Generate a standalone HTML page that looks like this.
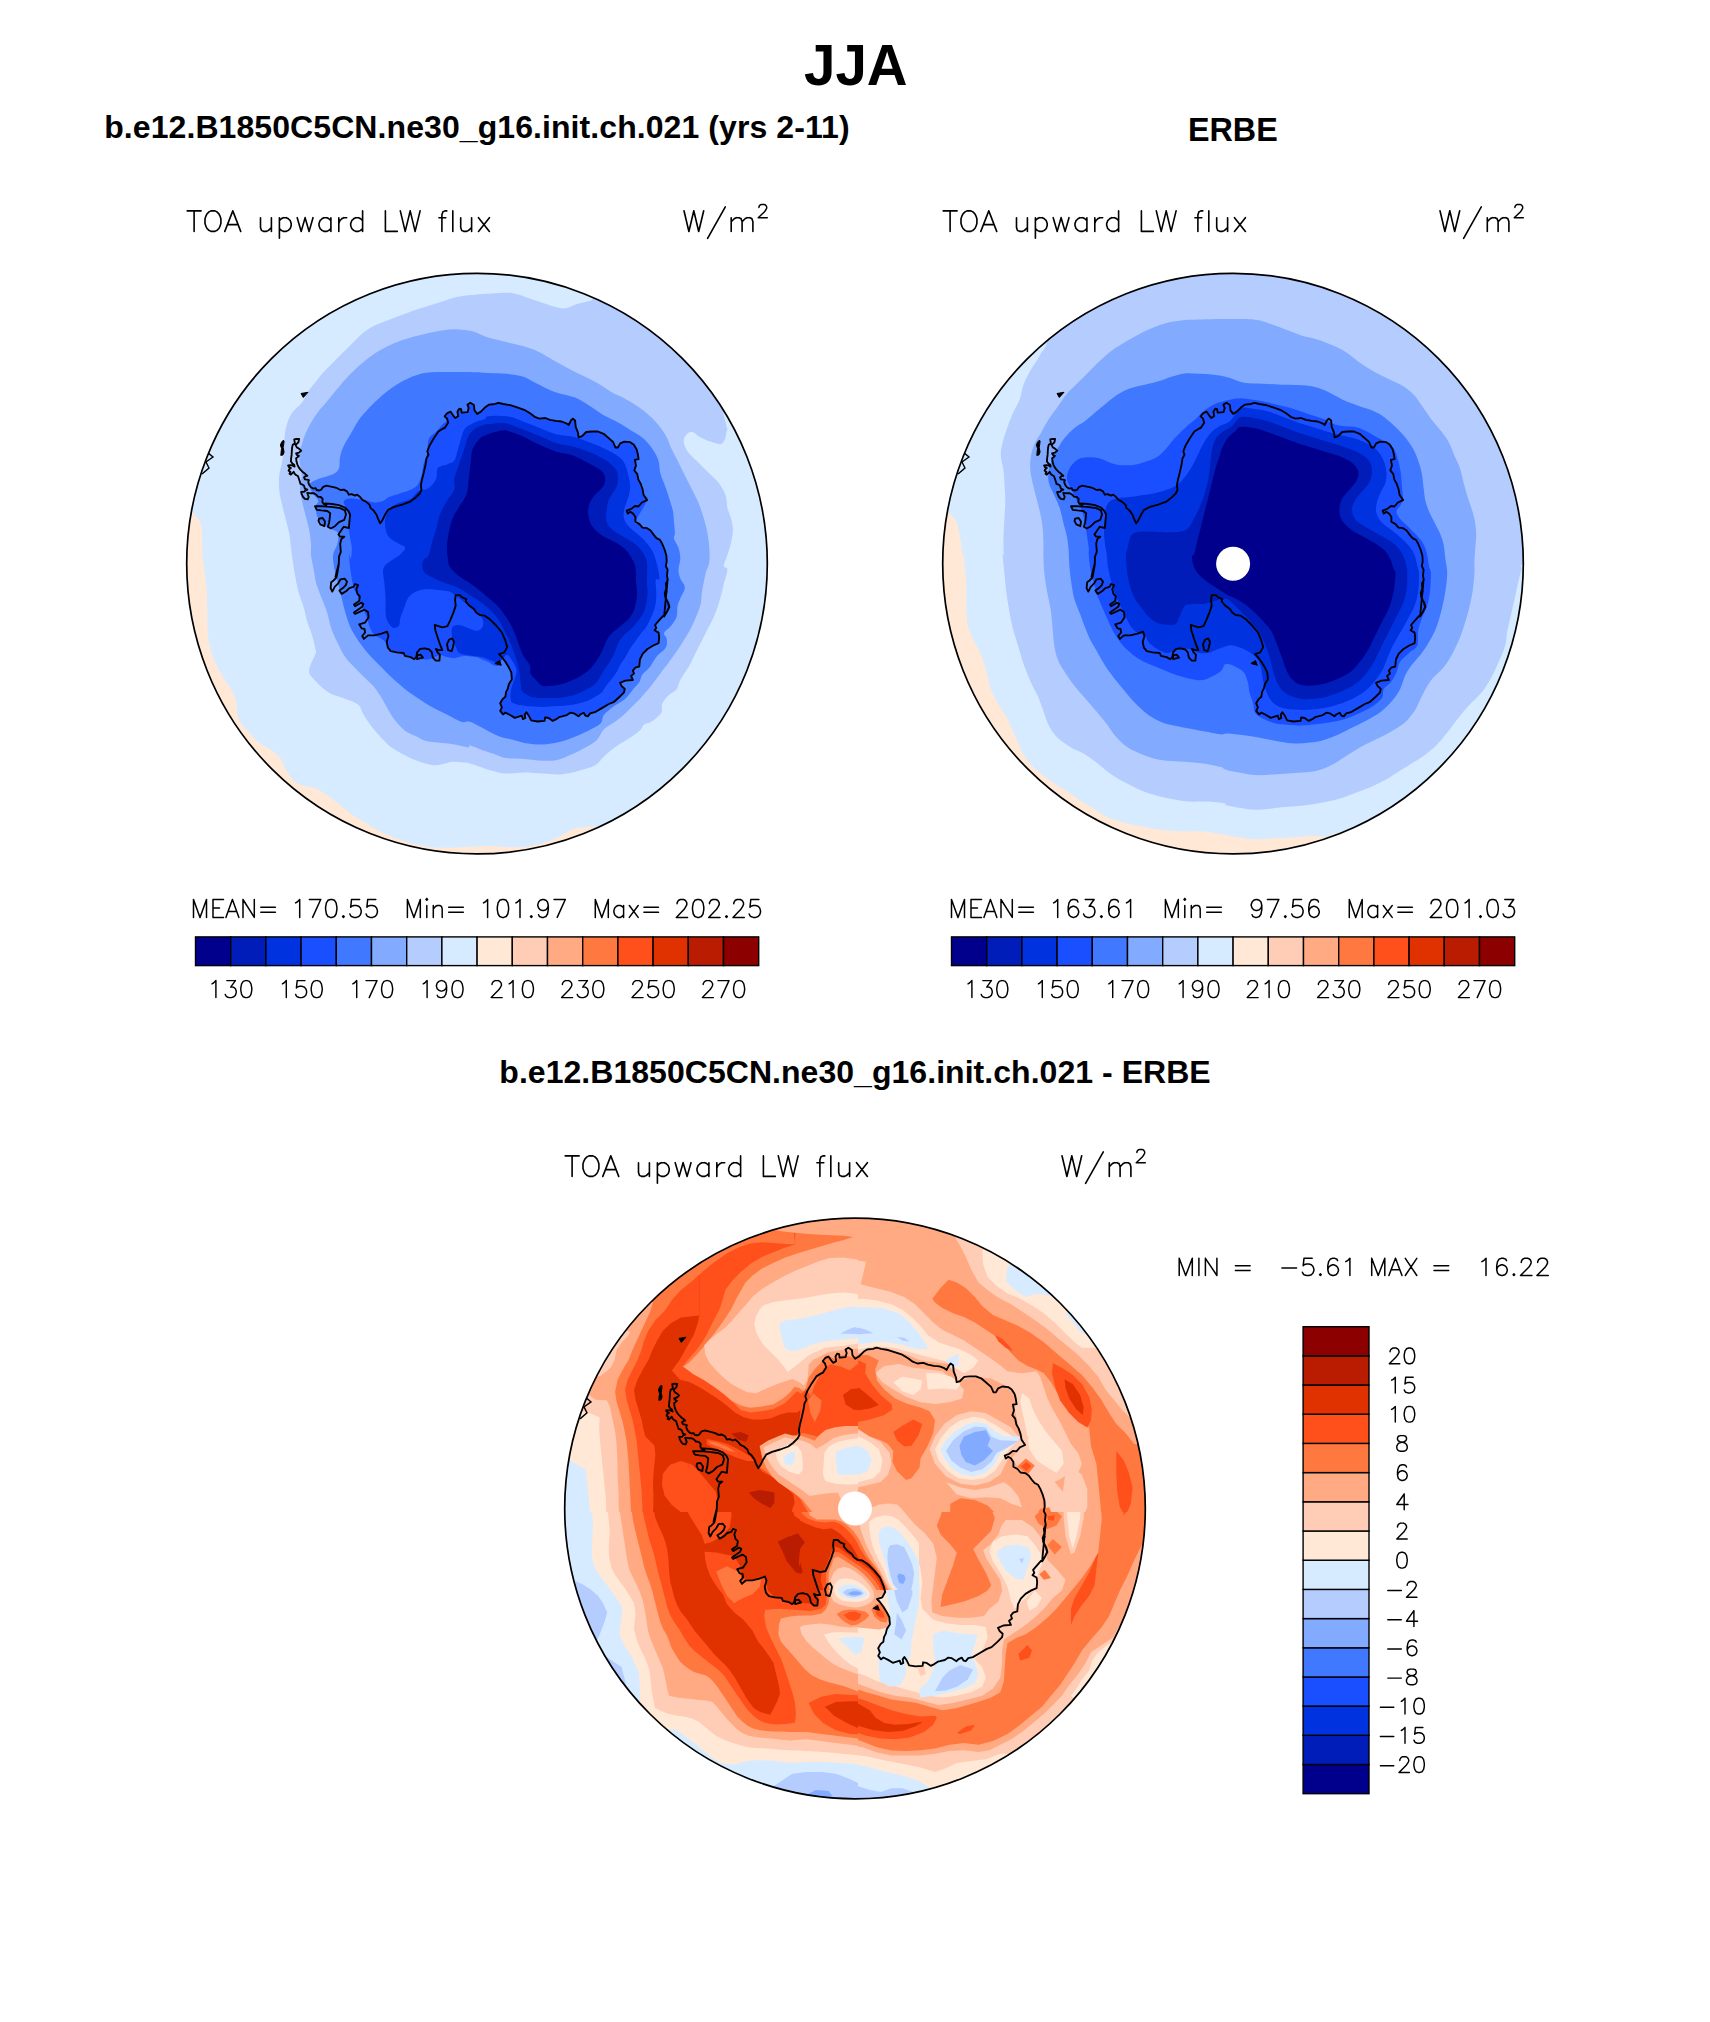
<!DOCTYPE html>
<html><head><meta charset="utf-8"><title>JJA</title>
<style>html,body{margin:0;padding:0;background:#fff}svg{display:block}text{font-family:"Liberation Sans",sans-serif;font-weight:bold;fill:#000}</style></head><body>
<svg width="1710" height="2022" viewBox="0 0 1710 2022">
<rect width="1710" height="2022" fill="#fff"/>
<defs>
<clipPath id="c1"><circle cx="477.0" cy="563.6" r="290.3"/></clipPath>
<clipPath id="c2"><circle cx="1233.0" cy="563.6" r="290.3"/></clipPath>
<clipPath id="c3"><circle cx="855.0" cy="1508.5" r="290.3"/></clipPath>
<g id="coast"><path d="M-32.3 -135.6 L-28.8 -140.9 L-30 -145 L-32.3 -147.3 L-30 -150.3 L-26.5 -152 L-24.1 -148.5 L-21.8 -145.6 L-18.9 -147.3 L-19.5 -152 L-17.7 -154.9 L-15.9 -154.4 L-15.4 -150.9 L-9.5 -151.4 L-8.3 -155.5 L-9.5 -159 L-6.6 -160.8 L-3.1 -158.5 L-2.5 -153.2 L0.2 -149.7 L3.9 -152 L8.6 -156.7 L12.1 -159 L18 -159.6 L21.5 -160.8 L26.2 -159.6 L33.2 -158.5 L40.2 -156.1 L47.2 -153.8 L53.1 -150.3 L57.7 -146.8 L62.4 -145 L68.3 -145.6 L72.9 -143.8 L78.8 -142.7 L84.6 -142.1 L89.3 -140.3 L91.7 -138.6 L94 -143.2 L95.7 -145 L98.1 -143.2 L98.7 -136.8 L101 -131 L101.6 -126.3 L105.1 -127.5 L109.2 -131.6 L115 -132.1 L120.9 -132.1 L126.7 -129.8 L131.4 -125.7 L136.1 -121.6 L138.4 -116.3 L138.6 -116.1 L140.9 -116.1 L143.2 -120.2 L147.3 -122 L153.2 -121.4 L156.7 -119 L159.6 -114.4 L160.8 -109.7 L161.6 -104.4 L157.9 -103.8 L159 -98 L157.3 -93.3 L160.2 -89.8 L161.4 -84 L163.7 -79.9 L165.5 -74.6 L166.6 -68.7 L170.1 -63.5 L164.9 -61.1 L161.4 -57.1 L157.9 -57.6 L154.3 -54.7 L149.7 -53 L150.8 -50 L153.2 -51.8 L156.1 -50 L158.4 -46.5 L158.4 -41.8 L162.5 -39.5 L165.5 -36 L170.1 -35.4 L173.6 -33.1 L176.6 -29 L179.5 -25.5 L183 -23.7 L185.3 -19.6 L187.7 -13.8 L189.4 -7.9 L189.7 -2.1 L188.8 2.6 L190.6 6.1 L190 12 L190.8 16.6 L188.8 20.1 L189.4 24.8 L187.7 29.5 L188.8 35.3 L191.2 38.9 L192.4 43.5 L190 48.2 L187.1 52.9 L190.6 16.4 L189.2 23.4 L189.8 28.1 L188 32.8 L190.6 38 L192.1 43.3 L189.8 48.6 L185.7 52.7 L181.6 57.3 L178.1 61.4 L179.3 64.4 L177.5 66.7 L181.6 69 L182.2 73.7 L181.6 79.6 L176.3 81.9 L170.5 85.4 L165.8 90.1 L162.9 95.9 L162.3 102.9 L158.2 104.1 L155.9 107 L157 110 L154.1 112.3 L155.9 116.4 L148.3 117 L143 119.3 L144.8 122.8 L147.7 125.2 L147.1 128.7 L142.4 133.4 L136.6 138.6 L131.9 140.4 L124.9 144.5 L117.9 148.6 L113.2 149.7 L110.8 152.7 L108.5 152.1 L106.7 149.1 L103.2 150.9 L101.5 152.7 L96.8 149.7 L93.3 149.1 L89.8 151.5 L85.1 152.7 L82.8 153.2 L79.3 155.6 L75.7 157.3 L71.7 154.4 L68.1 153.8 L67.6 157.3 L60.5 157.9 L54.1 156.8 L51.8 152.1 L49.4 148.6 L47.7 150.9 L48.3 154.4 L45.9 155.6 L44.8 152.1 L37.8 154.3 L33.1 151.4 L28.4 149 L26.1 150.8 L23.2 147.3 L24.9 143.8 L23.2 139.7 L25.5 135.6 L28.4 133.2 L29 128.6 L30.8 125.1 L31.9 120.4 L34.9 115.7 L34.3 108.7 L31.9 104 L28.4 98.2 L24.9 93.5 L22 90.6 L27.3 88.8 L30.2 83.5 L28.4 77.1 L24.9 68.9 L19.1 61.9 L13.2 56 L7.4 52 L2.7 51.4 L-0.8 49 L-3.1 45.5 L-7.8 42 L-11.3 37.9 L-10.7 35.6 L-14.8 33.8 L-17.2 31.5 L-21.3 31.5 L-21.9 36.2 L-21.3 42 L-23.6 49 L-26.5 56 L-29.5 62.5 L-34.7 63.7 L-42.3 61.3 L-41.7 66.6 L-39.4 73.6 L-37.1 80.6 L-34.7 86.5 L-38.2 86.5 L-41.2 85.3 L-39.4 88.8 L-37.1 91.1 L-37.6 97 L-41.2 97 L-44.1 94.1 L-45.2 88.8 L-47.6 85.9 L-52.3 84.7 L-56.9 85.3 L-59.9 88.8 L-60.7 93.5 L-62.8 95.6 L-66.3 93.5 L-72.1 92.3 L-73.3 89.4 L-80.3 88.8 L-86.2 87.6 L-89.1 84.1 L-90.3 78.3 L-88.5 72.4 L-90 68 L-95.5 70.1 L-102.6 71.8 L-109 71.8 L-113.1 75.3 L-114.8 72.4 L-111.9 68.9 L-112.5 65.4 L-115.4 64.8 L-117.8 60.7 L-111.9 59 L-108.4 53.7 L-109 48.4 L-112.5 46.1 L-121.9 50.4 L-123 49 L-114.8 43.2 L-113.7 40.3 L-116 39.1 L-121.9 42.6 L-123 40.8 L-117.8 37.3 L-117.2 32.7 L-119.5 30.3 L-120.7 25.6 L-118.9 21.5 L-121.9 20.4 L-123.6 23.3 L-127.7 24.5 L-130.6 27.4 L-135.3 30.3 L-137.6 26.8 L-134.1 24.5 L-131.2 21.5 L-130 18 L-132.4 15.1 L-136.5 15.7 L-138.8 19.8 L-142.3 23.3 L-144.7 28 L-146.4 24.5 L-145.8 18.6 L-143.5 16.9 L-140.6 13.9 L-139.4 8.1 L-138.2 1.1 L-141.5 12.9 L-139.7 5.9 L-138.2 0 L-138 -7 L-136.2 -11.7 L-136.8 -19.9 L-135.7 -24.5 L-132.7 -26.9 L-136.8 -26.9 L-138.6 -29.2 L-136.2 -32.7 L-133.3 -36.8 L-128.1 -35.6 L-127.5 -43.2 L-126.9 -49.1 L-128.6 -52.6 L-132.1 -56.1 L-138 -58.5 L-145 -59.6 L-152 -60.2 L-150.5 -58.6 L-153.3 -59.5 L-154.7 -61.9 L-154.3 -64.7 L-156.2 -66.6 L-159 -67 L-160.8 -68.9 L-163.2 -70.3 L-166.4 -70.3 L-169.7 -70.8 L-169.3 -69.4 L-168.3 -66.6 L-169.3 -64.2 L-172.1 -64.7 L-173.9 -66.6 L-175.3 -69.4 L-175.8 -71.7 L-173 -71.7 L-171.6 -73.1 L-169.7 -74 L-172.1 -75 L-173 -77.8 L-174.4 -79 L-176.5 -79.7 L-177.2 -82 L-178.1 -84.8 L-179.1 -87.6 L-180.9 -88.5 L-182.4 -89.9 L-183.3 -91.8 L-184.7 -90.4 L-186.1 -89 L-187.5 -89.9 L-186.6 -91.8 L-188.4 -92.8 L-188 -94.2 L-186.1 -95.6 L-188 -96.5 L-188.9 -98.1 L-186.6 -98.4 L-184.2 -97.9 L-182.4 -97 L-182.8 -98.8 L-184.7 -100.2 L-186.1 -102.1 L-185.9 -104.9 L-185.4 -108.7 L-185.2 -112.4 L-184.9 -116.1 L-184.2 -119 L-182.1 -119.9 L-182.4 -122.2 L-182.8 -124.3 L-180.5 -124.8 L-177.9 -124.6 L-178.6 -121.3 L-180 -119.9 L-181.4 -118.5 L-180 -116.1 L-177.7 -114.7 L-175.8 -112.9 L-178.1 -111 L-180.9 -110.1 L-180 -108.7 L-178.1 -107.7 L-179.5 -106.3 L-180.9 -105.4 L-180.5 -102.1 L-179.5 -98.8 L-178.1 -96 L-176.3 -93.7 L-173.9 -91.3 L-171.6 -89.5 L-169.7 -87.8 L-171.6 -87.4 L-173 -86.2 L-172.1 -84.3 L-170.2 -83.9 L-168.1 -83.4 L-168.8 -81.5 L-167.8 -78.7 L-166 -76.4 L-163.6 -75 L-161.3 -75.4 L-160.4 -73.6 L-157.6 -73.1 L-155.7 -74 L-153.8 -76.8 L-150.5 -78 L-147.3 -77.3 L-143.5 -76.4 L-139.8 -75.4 L-136.5 -73.6 L-133.2 -74 L-130 -72.2 L-128.1 -68.9 L-125.3 -69.4 L-122 -68 L-119.9 -69 L-116.9 -66.6 L-114.6 -63.7 L-111.1 -62 L-107.6 -59 L-106.4 -55.5 L-103.5 -53.2 L-100.6 -49.1 L-98.8 -44.4 L-96.8 -40.3 L-94.7 -43.2 L-91.8 -49.1 L-88.9 -53.8 L-83 -56.7 L-74.8 -59 L-66.6 -62 L-62 -65.5 L-57.3 -70.1 L-55.5 -73.7 L-56.1 -78.3 L-55 -84.2 L-53.2 -91.2 L-51.4 -99.4 L-50.5 -105.2 L-48.5 -108.7 L-49.7 -112.3 L-47.4 -118.1 L-43.3 -125.1 L-38.6 -132.1 L-33.9 -135.1ZM-162 -57.3 L-154.4 -57.3 L-146.2 -56.7 L-136.8 -55.5 L-132.1 -53.2 L-131 -49.1 L-132.7 -43.8 L-138 -41.5 L-142.1 -37.4 L-146.2 -35.1 L-149.1 -36.8 L-147.9 -40.9 L-147.4 -44.4 L-146.8 -50.3 L-149.7 -52.6 L-155.5 -53.2 L-160.2 -53.8ZM-157.9 -45 L-154.4 -45.6 L-152 -42.1 L-152.6 -37.4 L-156.7 -39.2 L-158.5 -42.7ZM-28.9 86.5 L-30 80.6 L-27.7 75.9 L-24.8 74.8 L-23 78.3 L-24.2 84.1 L-25.4 87.6ZM-59.9 91.7 L-56.4 91.1 L-54 94.1 L-59.9 95.6Z" fill="none" stroke="#000" stroke-width="1.85" stroke-linejoin="round"/><path d="M-194 -123.2 L-192.9 -122.7 L-193.3 -119 L-193.8 -116.1 L-192.9 -111.5 L-194 -108.7 L-196.2 -108.2 L-195.9 -111.5 L-195.5 -115.2 L-196.6 -118.5 L-195.5 -121.3ZM-176 -170.1 L-169 -171.3 L-173.7 -166.1ZM17.9 99.9 L22.6 97 L24.3 101.7Z" fill="#000" stroke="#000" stroke-width="1"/><path d="M-265 -123.6 L-270 -111.6 L-264 -106.6 L-271 -101.6 L-268 -95.6 L-275 -89.6" fill="none" stroke="#000" stroke-width="1.4"/></g>
</defs>
<text x="804.0" y="85.2" font-size="58" textLength="103.6" lengthAdjust="spacingAndGlyphs">JJA</text>
<text x="104.2" y="137.8" font-size="32" textLength="745.4" lengthAdjust="spacing">b.e12.B1850C5CN.ne30_g16.init.ch.021 (yrs 2-11)</text>
<text x="1188" y="140.6" font-size="32.3">ERBE</text>
<text x="499.3" y="1082.6" font-size="32" textLength="711.4" lengthAdjust="spacing">b.e12.B1850C5CN.ne30_g16.init.ch.021 - ERBE</text>
<g clip-path="url(#c1)">
<rect x="184.7" y="271.3" width="584.6" height="584.6" fill="#FFE8D6"/>
<g>
<path d="M185.9 507.9C193.4 510.5 192.5 512.8 194.9 515.2C197.4 517.6 199.2 518.8 200.4 522.4C201.6 526.1 201.9 531.5 202.2 536.9C202.5 542.4 202.1 548.7 202.2 555.1C202.3 561.4 202.6 575 202.6 575C202.6 575 201.8 555.3 202.2 555C202.6 554.7 204.2 567.1 204.9 573.1C205.7 579.2 206.3 585.2 206.7 591.3C207.1 597.3 207.1 602.7 207.3 609.4C207.4 616 207.1 624.5 207.6 631.1C208.1 637.8 209 643.8 210.4 649.3C211.7 654.7 213.5 658.9 215.8 663.8C218.1 668.6 221.1 673.4 223.9 678.3C226.8 683.1 230.9 688.6 233 692.8C235.1 697 235.9 700 236.6 703.7C237.4 707.3 236.8 711.2 237.5 714.5C238.3 717.9 238.9 720.3 241.2 723.6C243.4 726.9 248 731.2 251.1 734.5C254.3 737.8 256.9 741 260.2 743.5C263.5 746.1 267.8 747.5 271.1 749.9C274.4 752.3 277.7 754.9 280.1 758C282.6 761.2 283.5 765.3 285.6 768.9C287.7 772.5 290.1 777.1 292.8 779.8C295.6 782.5 298.3 783.9 301.9 785.2C305.5 786.6 310.7 786.4 314.6 788C318.5 789.5 321.5 791.7 325.5 794.3C329.4 796.9 334.2 800.3 338.2 803.4C342.1 806.4 344.8 809.4 349 812.4C353.3 815.5 358.7 818.5 363.5 821.5C368.4 824.5 373.2 828 378 830.6C382.9 833.1 387.1 834.8 392.5 836.9C398 839 404.6 841.6 410.7 843.3C416.7 844.9 422.8 846.1 428.8 846.9C434.9 847.6 440.9 847.8 446.9 847.8C453 847.8 458.7 847.2 465.1 846.9C471.4 846.6 484.2 846 485 846C485.8 846 469.5 846.9 470 846.9C470.5 846.9 482.1 846 488.1 846C494.2 846 500.2 846.7 506.3 846.9C512.3 847 518.3 847.5 524.4 846.9C530.4 846.3 537.1 844.8 542.5 843.3C548 841.7 552.8 839.8 557 837.8C561.2 835.8 564.3 833.1 567.9 831.5C571.5 829.8 573.3 828.7 578.8 827.8C584.2 826.9 594.5 826.2 600.5 826C606.6 825.9 581.8 831.3 615 826.9C648.3 822.6 769.2 904.5 800 800C830.8 695.5 908.3 300 800 200C691.7 100 258.3 150 150 200C41.7 250 144 448.7 150 500C156 551.3 178.4 505.4 185.9 507.9Z" fill="#D6EBFF"/>
<path d="M472.3 294.9C466.7 295.4 462.6 295.7 457.8 296.7C453 297.8 448.1 299.7 443.3 301.3C438.5 302.8 433.6 304.3 428.8 305.8C424 307.3 419.1 308.7 414.3 310.3C409.5 312 404.6 313.9 399.8 315.8C395 317.6 390.1 319.2 385.3 321.2C380.5 323.2 375 325.1 370.8 327.5C366.6 330 363.2 332.8 359.9 335.7C356.6 338.6 353.9 341.7 350.9 344.8C347.8 347.8 344.8 350.8 341.8 353.8C338.8 356.9 335.7 359.9 332.7 362.9C329.7 365.9 326.4 368.9 323.7 372C320.9 375 318.8 378 316.4 381C314 384 311.6 386.5 309.2 390.1C306.7 393.7 304.6 399.2 301.9 402.8C299.2 406.4 295.3 408.5 292.8 411.8C290.4 415.2 288.8 418.8 287.4 422.7C286 426.7 285.3 430.9 284.7 435.4C284.1 439.9 284.2 445.4 283.8 449.9C283.3 454.4 282.7 458.4 282 462.6C281.2 466.8 279.7 470.8 279.2 475.3C278.8 479.8 278.8 485 279.2 489.8C279.7 494.6 280.9 499.5 282 504.3C283 509.1 284.4 514 285.6 518.8C286.8 523.6 288.3 528.5 289.2 533.3C290.1 538.1 290.6 544.2 291 547.8C291.5 551.4 291.3 550.8 291.9 555C292.5 559.2 293.6 567.1 294.7 573.1C295.7 579.2 296.8 585.5 298.3 591.3C299.8 597 302.2 602.4 303.7 607.6C305.2 612.7 306 617.5 307.3 622.1C308.7 626.6 310.5 630.2 311.9 634.8C313.2 639.3 314.9 646.1 315.5 649.3C316.1 652.4 316.3 651.4 315.5 653.8C314.7 656.2 312 660.6 311 663.8C309.9 666.9 308.6 670.1 309.2 672.8C309.8 675.6 312.5 677.7 314.6 680.1C316.7 682.5 319.1 685.1 321.8 687.3C324.6 689.6 327.3 691.9 330.9 693.7C334.5 695.5 339.1 696.4 343.6 698.2C348.1 700 354.8 701.8 358.1 704.6C361.4 707.3 361.4 711.1 363.5 714.5C365.7 718 368.1 721.8 370.8 725.4C373.5 729 376.8 733 379.9 736.3C382.9 739.6 385.6 742.6 388.9 745.4C392.2 748.1 395.9 750.3 399.8 752.6C403.7 754.9 408.3 757.1 412.5 759C416.7 760.8 421.3 762.4 425.2 763.5C429.1 764.5 432.7 765.3 436.1 765.3C439.4 765.3 442.4 764.1 445.1 763.5C447.8 762.9 449.1 761.8 452.4 761.7C455.7 761.5 462.1 762.3 465.1 762.6C468 762.9 467.4 762.7 470 763.5C472.6 764.2 477.3 765.9 480.9 767.1C484.5 768.3 487.5 769.7 491.8 770.7C496 771.8 500.8 773.2 506.3 773.5C511.7 773.8 518.3 772.5 524.4 772.5C530.4 772.5 536.5 773.2 542.5 773.5C548.6 773.8 554.6 774.8 560.6 774.4C566.7 773.9 573 772.2 578.8 770.7C584.5 769.2 590.9 767.7 595.1 765.3C599.3 762.9 600.8 759.3 604.2 756.2C607.5 753.2 610.8 750.2 615 747.2C619.3 744.1 625.3 741 629.5 738.1C633.8 735.2 638 732.2 640.4 729.9C642.8 727.7 642.2 725.9 644 724.5C645.9 723.1 648.4 723.8 651.3 721.8C654.2 719.8 659.4 715.7 661.3 712.7C663.1 709.7 660.8 706.7 662.2 703.7C663.5 700.6 667 697 669.4 694.6C671.8 692.2 674.9 691.6 676.7 689.2C678.5 686.7 678.2 684 680.3 680.1C682.4 676.2 686.6 670.4 689.4 665.6C692.1 660.8 693.9 656.5 696.6 651.1C699.3 645.6 702.7 639 705.7 633C708.7 626.9 712.3 620.6 714.7 614.8C717.2 609.1 718.7 603.6 720.2 598.5C721.7 593.4 722.6 588.8 723.8 584C725 579.2 727.4 572.5 727.4 569.5C727.4 566.5 723.8 568.3 723.8 565.9C723.8 563.5 726.2 559 727.4 555.1C728.6 551.1 730.2 546.6 731.1 542.4C732 538.1 732.9 533.6 732.9 529.7C732.9 525.8 732 522.4 731.1 518.8C730.2 515.2 728.3 511.9 727.4 507.9C726.5 504 727.1 499.5 725.6 495.2C724.1 491 721.4 486.5 718.4 482.5C715.3 478.6 711.1 475.3 707.5 471.7C703.9 468 700.1 464.4 696.6 460.8C693.1 457.2 688.8 453.5 686.6 449.9C684.5 446.3 683.2 442.1 683.9 439C684.7 436 688.5 432.1 691.2 431.8C693.9 431.5 696.9 435.6 700.2 437.2C703.6 438.9 707.5 440.7 711.1 441.8C714.7 442.8 719.4 445.2 722 443.6C724.6 441.9 726.1 435.9 726.5 431.8C727 427.7 729.1 436.1 724.7 419.1C720.3 402.1 719.1 353.2 700 330C680.9 306.8 627.8 285.2 610 280C592.2 274.8 597 295 593.3 298.5C589.6 302.1 590.6 300.4 587.8 301.3C585.1 302.2 581 302.8 577 304C572.9 305.2 568.5 308.5 563.4 308.5C558.2 308.5 551.7 305.6 546.1 304C540.6 302.3 535.6 300.4 529.8 298.5C524.1 296.7 518 293.9 511.7 293.1C505.4 292.3 498.3 293.3 491.8 293.6C485.2 293.9 478 294.4 472.3 294.9Z" fill="#B5CCFF"/>
<path d="M472.3 331.2C467.3 329.8 462.6 329.5 457.8 329.4C453 329.2 448.1 329.7 443.3 330.3C438.5 330.9 433.6 331.9 428.8 333C424 334 419.1 335.3 414.3 336.6C409.5 338 404.3 339.5 399.8 341.1C395.3 342.8 391.3 344.5 387.1 346.6C382.9 348.7 378.3 351.3 374.4 353.8C370.5 356.4 366.9 359.3 363.5 362C360.2 364.7 357.5 367.3 354.5 370.1C351.5 373 348.4 375.9 345.4 379.2C342.4 382.5 339.4 386.5 336.3 390.1C333.3 393.7 330.3 397.3 327.3 401C324.3 404.6 320.9 408.2 318.2 411.8C315.5 415.5 313.1 419.1 311 422.7C308.9 426.3 307 430 305.5 433.6C304 437.2 303 441.2 301.9 444.5C300.8 447.8 299.5 450.2 299.2 453.5C298.9 456.9 299.6 460.8 300.1 464.4C300.5 468 301.9 471.4 301.9 475.3C301.9 479.2 300.1 483.8 300.1 488C300.1 492.2 301 496.1 301.9 500.7C302.8 505.2 304.3 510.3 305.5 515.2C306.7 520 308.2 524.9 309.2 529.7C310.1 534.5 310.7 540 311 544.2C311.3 548.4 310.5 550.8 311 555C311.4 559.2 312.8 564.7 313.7 569.5C314.6 574.3 315 579.2 316.4 584C317.8 588.8 320 593.7 321.8 598.5C323.7 603.3 325.8 608.2 327.3 613C328.8 617.8 329.4 623 330.9 627.5C332.4 632 334.2 635.7 336.3 640.2C338.5 644.7 340.9 650.5 343.6 654.7C346.3 658.9 349.3 662 352.7 665.6C356 669.2 359.9 672.8 363.5 676.5C367.2 680.1 371.4 683.7 374.4 687.3C377.4 691 379.3 694.3 381.7 698.2C384.1 702.1 386.5 707 388.9 710.9C391.3 714.8 393.5 718.5 396.2 721.8C398.9 725.1 401.9 728.4 405.2 730.9C408.6 733.3 412.8 734.6 416.1 736.3C419.4 738 421.6 739.8 425.2 740.8C428.8 741.9 433 742 437.9 742.6C442.7 743.2 449.1 743.7 454.2 744.4C459.3 745.2 466.1 747 468.7 747.2C471.3 747.3 467.4 744.8 470 745.4C472.6 746 480.3 749.3 484.5 750.8C488.7 752.3 491.8 753.2 495.4 754.4C499 755.6 501.4 757.3 506.3 758C511.1 758.8 518.3 758.5 524.4 759C530.4 759.4 537.1 760.6 542.5 760.8C548 760.9 552.2 760.9 557 759.9C561.9 758.8 566.7 756.5 571.5 754.4C576.4 752.3 581.8 749.6 586 747.2C590.3 744.8 593.9 742.9 596.9 739.9C599.9 736.9 601.1 732.1 604.2 729C607.2 726 611.7 724.2 615 721.8C618.4 719.4 621.1 717.3 624.1 714.5C627.1 711.8 630.4 708.2 633.2 705.5C635.9 702.8 637.4 701.5 640.4 698.2C643.4 694.9 647.7 690.1 651.3 685.5C654.9 681 658.5 675.9 662.2 671C665.8 666.2 669.4 661.7 673 656.5C676.7 651.4 680.6 645.6 683.9 640.2C687.2 634.8 690.3 629.6 693 623.9C695.7 618.1 698.7 611.2 700.2 605.8C701.8 600.3 701.1 596.7 702.1 591.3C703 585.8 704.5 578 705.7 573.1C706.9 568.3 708.7 566.5 709.3 562.3C709.9 558.1 709.6 552.6 709.3 547.8C709 543 708.4 538.1 707.5 533.3C706.6 528.5 705.4 523.9 703.9 518.8C702.4 513.7 700.5 507.6 698.4 502.5C696.3 497.4 693.3 492.2 691.2 488C689.1 483.8 687.9 481.3 685.7 477.1C683.6 472.9 680.9 467.4 678.5 462.6C676.1 457.8 673.3 452.6 671.2 448.1C669.1 443.6 668.5 439.9 665.8 435.4C663.1 430.9 659.1 425.4 654.9 420.9C650.7 416.4 645.2 411.8 640.4 408.2C635.6 404.6 630.7 401.9 625.9 399.2C621.1 396.4 616.2 394.6 611.4 391.9C606.6 389.2 601.7 385.6 596.9 382.8C592.1 380.1 587.2 378 582.4 375.6C577.6 373.2 572.7 370.9 567.9 368.3C563.1 365.8 558.2 362.9 553.4 360.2C548.6 357.5 543.7 354.3 538.9 352C534.1 349.8 529.8 348.2 524.4 346.6C518.9 344.9 512.3 343.6 506.3 342C500.2 340.5 493.8 339.3 488.1 337.5C482.5 335.7 477.4 332.5 472.3 331.2Z" fill="#82AAFF"/>
<path d="M468.7 372C463 371.8 459 372 454.2 372C449.4 372 444.5 371.8 439.7 372C434.9 372.1 429.7 372.1 425.2 372.9C420.6 373.6 416.7 374.8 412.5 376.5C408.3 378.2 403.7 380.6 399.8 382.8C395.9 385.1 392.5 387.4 388.9 390.1C385.3 392.8 381.7 395.8 378 399.2C374.4 402.5 370.5 406.4 367.2 410C363.8 413.7 360.8 417 358.1 420.9C355.4 424.8 353.3 429.4 350.9 433.6C348.4 437.8 345.4 442.4 343.6 446.3C341.8 450.2 340.7 453.5 340 457.2C339.2 460.8 340 465.3 339.1 468C338.2 470.8 336.5 472.1 334.5 473.5C332.6 474.8 330 475.3 327.3 476.2C324.6 477.1 320.6 478 318.2 478.9C315.8 479.8 314.3 480.6 312.8 481.6C311.3 482.7 309.2 483.3 309.2 485.3C309.2 487.2 311.3 490.9 312.8 493.4C314.3 496 317.8 498.4 318.2 500.7C318.7 502.9 315.5 504 315.5 507C315.5 510 316.6 515.6 318.2 518.8C319.9 522 323.1 524.2 325.5 526.1C327.9 527.9 330.6 528.5 332.7 529.7C334.8 530.9 337.4 530.9 338.2 533.3C338.9 535.7 338.1 540.6 337.3 544.2C336.4 547.8 333.5 550.8 333.1 555C332.6 559.2 333.7 564.7 334.5 569.5C335.4 574.3 337 579.2 338.2 584C339.4 588.8 340.7 594.3 341.8 598.5C342.8 602.7 343.3 605.2 344.5 609.4C345.7 613.6 347.4 619.7 349 623.9C350.7 628.1 352.4 631.1 354.5 634.8C356.6 638.4 359 642 361.7 645.6C364.4 649.3 367.5 652.9 370.8 656.5C374.1 660.1 378 663.8 381.7 667.4C385.3 671 388.6 674.7 392.5 678.3C396.5 681.9 401 685.8 405.2 689.2C409.5 692.5 413.4 695.2 417.9 698.2C422.5 701.2 427.6 704.6 432.4 707.3C437.3 710 442.1 712.1 446.9 714.5C451.8 717 457.6 720.6 461.4 721.8C465.3 723 466.2 720.6 470 721.8C473.8 723 479.7 726.6 484.5 729C489.3 731.5 494.2 734.5 499 736.3C503.8 738.1 508.7 738.7 513.5 739.9C518.3 741.1 523.2 742.8 528 743.5C532.8 744.3 537.7 744.6 542.5 744.4C547.4 744.3 552.2 743.7 557 742.6C561.9 741.6 566.4 740.1 571.5 738.1C576.7 736.1 583 733.3 587.8 730.9C592.7 728.4 597.8 726.3 600.5 723.6C603.2 720.9 601.7 717.6 604.2 714.5C606.6 711.5 611.4 708.2 615 705.5C618.7 702.8 622.9 700.9 625.9 698.2C628.9 695.5 630.9 691.9 633.2 689.2C635.4 686.4 638 684.3 639.5 681.9C641 679.5 640.6 677.1 642.2 674.7C643.9 672.2 647.1 670.4 649.5 667.4C651.9 664.4 654 659.8 656.7 656.5C659.4 653.2 664.1 650.5 665.8 647.5C667.5 644.4 667 640.8 666.7 638.4C666.4 636 663.2 635.1 664 633C664.7 630.8 669.1 628.4 671.2 625.7C673.3 623 675.6 620 676.7 616.6C677.7 613.3 677 608.8 677.6 605.8C678.2 602.7 679.1 601.5 680.3 598.5C681.5 595.5 684.8 591 684.8 587.6C684.8 584.3 681.4 581.6 680.3 578.6C679.2 575.6 678.5 572.9 678.5 569.6C678.5 566.3 680.3 562.3 680.3 558.7C680.3 555.1 679.5 551.1 678.5 547.8C677.4 544.5 674.6 541.2 674 538.7C673.3 536.3 674.9 536 674.9 533.3C674.9 530.6 674.3 526.1 674 522.4C673.6 518.8 673.8 515.5 673 511.6C672.3 507.6 670.6 502.8 669.4 498.9C668.2 494.9 667.3 492.2 665.8 488C664.3 483.8 661.6 478 660.4 473.5C659.1 469 659.8 464.7 658.5 460.8C657.3 456.9 655.5 453.5 653.1 449.9C650.7 446.3 647.4 442.1 644 439C640.7 436 637.4 434.5 633.2 431.8C628.9 429.1 623.5 425.4 618.7 422.7C613.8 420 608.4 417.9 604.2 415.5C599.9 413.1 597.5 410.9 593.3 408.2C589 405.5 583 401.3 578.8 399.2C574.5 397 571.5 396.6 567.9 395.5C564.3 394.5 560.6 394 557 392.8C553.4 391.6 549.8 389.9 546.1 388.3C542.5 386.6 539.2 384.8 535.3 382.8C531.3 380.9 527.4 378 522.6 376.5C517.7 375 512 374.4 506.3 373.8C500.5 373.2 494.4 373.2 488.1 372.9C481.9 372.6 474.3 372.1 468.7 372Z" fill="#4078FF"/>
<path d="M485 411.8C488.4 409.8 471.4 414 465.1 415.5C458.7 417 451.8 418.2 446.9 420.9C442.1 423.6 439.1 428.8 436.1 431.8C433 434.8 430.3 435.4 428.8 439C427.3 442.7 427.9 449.3 427 453.5C426.1 457.8 424.3 460.8 423.4 464.4C422.5 468 422.5 472 421.6 475.3C420.6 478.6 419.7 481.9 417.9 484.4C416.1 486.8 413.7 488.3 410.7 489.8C407.7 491.3 403.4 492.2 399.8 493.4C396.2 494.6 391.6 495.8 388.9 497.1C386.2 498.3 385.9 499.8 383.5 500.7C381.1 501.6 377.1 502.5 374.4 502.5C371.7 502.5 370.2 501.3 367.2 500.7C364.1 500.1 359.6 499.2 356.3 498.9C353 498.6 349.3 498.3 347.2 498.9C345.1 499.5 343.6 500.7 343.6 502.5C343.6 504.3 346.2 507 347.2 509.7C348.3 512.5 349.6 515.8 349.9 518.8C350.2 521.8 349 524.9 349 527.9C349 530.9 349.5 533.6 349.9 536.9C350.4 540.3 351.6 544.2 351.8 547.8C351.9 551.4 351.3 557.5 350.9 558.7C350.4 559.9 349 552.6 349 555C349 557.4 350.1 567.7 350.9 573.1C351.6 578.6 352.4 583.7 353.6 587.6C354.8 591.6 356.6 593.4 358.1 596.7C359.6 600 361.1 603.9 362.6 607.6C364.1 611.2 366 615.1 367.2 618.5C368.4 621.8 368.7 624.8 369.9 627.5C371.1 630.2 372.2 632.7 374.4 634.8C376.7 636.9 381.2 638.4 383.5 640.2C385.8 642 386.5 643.8 388 645.6C389.5 647.5 390 649.6 392.5 651.1C395.1 652.6 399.5 653.5 403.4 654.7C407.4 655.9 411.9 657.6 416.1 658.3C420.3 659.1 424.8 659.7 428.8 659.2C432.8 658.7 436.9 655.7 439.9 655.3C443 655 444.6 656.6 447 657.1C449.3 657.6 452 658.2 454 658.2C455.9 658.2 456.9 657.5 458.7 657.1C460.4 656.7 461.6 655.9 464.5 655.9C467.4 655.9 473.3 656.5 476.2 657.1C479.1 657.7 480.1 658.6 482 659.4C484 660.2 485.9 660.8 487.9 661.8C489.8 662.7 491.8 664.7 493.7 665.3C495.7 665.8 498.2 666.6 499.6 665.3C501 663.9 501 657.7 501.9 657.1C502.9 656.5 504.3 660 505.4 661.8C506.6 663.5 508 665.8 508.9 667.6C509.9 669.4 510.8 670.3 511.3 672.3C511.8 674.2 512.3 677.3 511.9 679.3C511.5 681.2 509.6 682.4 508.9 684C508.3 685.5 508.3 687.3 507.8 688.7C507.3 690 506.4 690.8 506 692.2C505.6 693.5 506 695.7 505.4 696.8C504.9 698 503.4 698.1 502.5 699.2C501.6 700.3 500.3 701.9 500.2 703.3C500.1 704.6 501.9 706.1 501.9 707.4C501.9 708.6 500 709.7 500.2 710.9C500.4 712 502.2 714.1 503.1 714.4C504 714.7 504.3 712.5 505.4 712.6C506.6 712.7 508.6 714.1 510.1 715C511.7 715.8 512.9 717.8 514.8 717.9C516.7 718 520.4 715.5 521.8 715.7C523.1 715.9 522.3 718.8 522.9 719.2C523.5 719.6 525 718.8 525.3 718C525.6 717.2 524.5 715.5 524.7 714.5C524.9 713.5 525.8 712 526.4 712.2C527.1 712.4 528 714.3 528.8 715.7C529.6 717 529.6 719.4 531.1 720.4C532.6 721.3 535.3 721.4 537.5 721.5C539.8 721.6 543.3 721.6 544.6 720.9C545.8 720.3 544.5 717.9 545.1 717.4C545.8 716.9 547.4 717.4 548.7 718C549.9 718.6 551.5 720.7 552.7 720.9C554 721.1 555.1 719.9 556.3 719.2C557.4 718.5 558.8 717.3 559.8 716.8C560.7 716.4 560.9 716.5 562.1 716.3C563.3 716 565.4 715.7 566.8 715.1C568.1 714.5 569.1 713 570.3 712.7C571.5 712.5 572.4 712.7 573.8 713.3C575.2 713.9 577.4 716.1 578.5 716.3C579.6 716.5 579.4 715.1 580.2 714.5C581.1 713.9 582.9 712.6 583.7 712.7C584.6 712.9 584.8 715.1 585.5 715.7C586.2 716.3 587.1 716.6 587.8 716.3C588.6 715.9 589 714 590.2 713.3C591.3 712.7 592.9 713 594.9 712.2C596.8 711.3 599.5 709.4 601.9 708.1C604.2 706.7 606.9 705 608.9 704C610.8 703 611.8 703.4 613.6 702.2C615.3 701.1 617.7 698.6 619.4 697C621.2 695.3 623.2 693.6 624.1 692.3C625 690.9 625.1 689.7 624.7 688.8C624.3 687.8 622.5 687.4 621.8 686.4C621 685.5 619.4 683.9 620 682.9C620.6 681.9 623.1 681.1 625.3 680.6C627.4 680.1 631.9 680.8 632.9 680C633.8 679.2 630.9 677 631.1 675.9C631.3 674.8 633.7 674.4 634 673.6C634.3 672.7 632.7 671.6 632.9 670.6C633.1 669.7 634.1 668.4 635.2 667.7C636.3 667 638.5 667.9 639.3 666.5C640.1 665.2 639.3 661.7 639.9 659.5C640.5 657.4 641.5 655.4 642.8 653.7C644.1 651.9 645.7 650.4 647.5 649C649.2 647.6 651.5 646.5 653.3 645.5C655.2 644.5 657.6 644.5 658.6 643.2C659.6 641.8 659.2 639.1 659.2 637.3C659.2 635.6 659.4 633.8 658.6 632.6C657.8 631.5 654.9 631.1 654.5 630.3C654.1 629.5 656.2 628.8 656.3 628C656.4 627.1 654.7 626.2 655.1 625C655.5 623.9 657.3 622.4 658.6 620.9C659.9 619.5 661.3 617.7 662.7 616.3C664.1 614.8 665.7 613.7 666.8 612.2C667.9 610.6 669 608.7 669.1 606.9C669.3 605.1 668.3 603.4 667.6 601.6C666.9 599.9 665.2 598 665 596.4C664.9 594.7 666.6 593.3 666.8 591.7C667 590.1 666.1 589 666.2 587C666.3 585.1 668 575.1 667.6 580C667.3 584.9 664.2 611.2 664.1 616.5C664 621.8 666.1 613.4 667 611.8C667.9 610.3 669.2 608.7 669.4 607.1C669.6 605.6 668.8 603.8 668.2 602.5C667.6 601.1 666.4 600.5 665.8 598.9C665.3 597.4 664.6 594.9 664.7 593.1C664.8 591.3 666.2 590 666.4 588.4C666.6 586.9 665.6 585.1 665.8 583.7C666.1 582.4 667.6 581.6 667.8 580.2C668 578.9 667.1 577.3 667 575.6C667 573.8 667.8 571.3 667.6 569.7C667.4 568.1 666 567.6 665.8 566.2C665.7 564.8 666.6 563.3 666.7 561.5C666.8 559.8 666.8 557.6 666.4 555.7C666.1 553.7 665.4 551.8 664.7 549.8C664 547.9 663.1 545.6 662.3 544C661.6 542.3 661 540.9 660 539.9C659 538.9 657.6 539 656.5 538.1C655.4 537.3 654.5 535.9 653.6 534.6C652.6 533.4 651.7 531.6 650.6 530.5C649.6 529.5 648.5 528.7 647.1 528.2C645.8 527.7 643.7 528.3 642.5 527.6C641.2 526.9 640.7 525.1 639.5 524.1C638.4 523.1 634.2 525.8 635.4 521.8C636.7 517.8 645.8 504.6 647.1 500.1C648.5 495.6 644.4 496.7 643.6 494.9C642.8 493 642.9 490.9 642.5 489C642 487.2 641.4 485.3 640.7 483.7C640 482.2 638.9 481.3 638.4 479.6C637.8 478 637.9 475.4 637.2 473.8C636.5 472.2 634.5 471.7 634.3 470.3C634.1 468.9 635.9 467.4 636 465.6C636.1 463.9 634.4 460.8 634.9 459.8C635.3 458.7 638.1 460.2 638.6 459.2C639.1 458.2 638.1 455.6 637.8 453.9C637.4 452.3 637.3 450.8 636.6 449.2C635.9 447.7 634.8 445.7 633.7 444.6C632.6 443.4 631.7 442.7 630.2 442.2C628.6 441.7 626 441.4 624.3 441.6C622.7 441.8 621.3 442.4 620.2 443.4C619.2 444.4 618.7 446.8 617.9 447.5C617.1 448.2 616 447.5 615.6 447.5C615.1 447.4 615.8 448.2 615.4 447.3C615 446.3 614.3 443.5 613.1 442C611.9 440.4 610 439.3 608.4 437.9C606.9 436.5 605.5 434.9 603.7 433.8C602 432.7 599.8 431.9 597.9 431.5C595.9 431.1 594 431.4 592 431.5C590.1 431.6 587.9 431.3 586.2 432C584.5 432.8 583.4 435.3 582.1 436.1C580.8 437 579.3 437.9 578.6 437.3C577.9 436.7 578.5 434.4 578 432.6C577.5 430.9 576.2 428.8 575.7 426.8C575.2 424.7 575.6 421.7 575.1 420.4C574.6 419 573.4 418.6 572.7 418.6C572.1 418.6 571.7 419.3 571 420.4C570.3 421.4 569.4 424.5 568.7 425C567.9 425.5 567.5 423.9 566.3 423.3C565.1 422.7 563.4 421.9 561.6 421.5C559.9 421.1 557.7 421.2 555.8 420.9C553.8 420.6 551.7 420.3 549.9 419.8C548.2 419.3 547 418.2 545.3 418C543.5 417.8 541.2 418.8 539.4 418.6C537.7 418.4 536.3 417.7 534.7 416.8C533.2 416 531.8 414.5 530.1 413.3C528.3 412.2 526.4 410.8 524.2 409.8C522.1 408.8 519.5 408.3 517.2 407.5C514.9 406.7 512.5 405.7 510.2 405.1C507.8 404.6 505.1 404.4 503.2 404C501.2 403.6 499.8 402.8 498.5 402.8C497.1 402.8 496.5 403.7 495 404C493.4 404.3 490.7 404.1 489.1 404.6C487.6 405 487 405.7 485.6 406.9C484.2 408.1 482.3 410.4 480.9 411.6C479.5 412.7 478.3 414.1 477.2 413.9C476.1 413.7 475 411.9 474.5 410.4C474 408.9 474.6 406.4 473.9 405.1C473.2 403.9 471.5 402.9 470.4 402.8C469.3 402.7 467.8 403.7 467.5 404.6C467.2 405.4 468.7 406.8 468.7 408.1C468.7 409.3 468.7 411.4 467.5 412.2C466.3 412.9 462.7 413.2 461.6 412.7C460.6 412.3 461.4 409.9 461.1 409.2C460.7 408.6 459.9 408.3 459.3 408.7C458.7 409 457.7 410.3 457.5 411.6C457.3 412.8 458.5 415.2 458.1 416.3C457.7 417.3 456.1 418.2 455.2 418C454.3 417.8 453.6 416.2 452.9 415.1C452.1 414 451.5 411.9 450.5 411.6C449.6 411.3 448 412.6 447 413.3C446 414.1 444.7 415.4 444.7 416.3C444.7 417.1 446.4 417.5 447 418.6C447.6 419.7 448.6 421.1 448.2 422.7C447.8 424.2 438.5 429.8 444.7 428C450.8 426.1 481.6 413.9 485 411.8Z" fill="#1A4FFF"/>
<path d="M485 419.1C482.9 420.1 477.5 421.2 474.1 422.7C470.8 424.2 467.2 425.7 465.1 428.2C463 430.6 462.6 433.6 461.4 437.2C460.2 440.9 459 446 457.8 449.9C456.6 453.8 456 458.4 454.2 460.8C452.4 463.2 449.7 463.2 446.9 464.4C444.2 465.6 439.7 465.6 437.9 468C436.1 470.5 437.6 475.6 436.1 478.9C434.5 482.2 431.8 485.9 428.8 488C425.8 490.1 421 489.8 417.9 491.6C414.9 493.4 413.7 497.1 410.7 498.9C407.7 500.7 403.1 501 399.8 502.5C396.5 504 393.2 505.2 390.7 507.9C388.3 510.6 386.1 514.9 385.3 518.8C384.5 522.7 385.3 528.2 386.2 531.5C387.1 534.8 388.5 536.6 390.7 538.7C393 540.9 397.4 542.7 399.8 544.2C402.2 545.7 405.2 546 405.2 547.8C405.2 549.6 402.5 552.6 399.8 555.1C397.1 557.5 391.7 559.9 388.9 562.3C386.2 564.7 384 565.8 383.2 569.4C382.5 572.9 384 578.7 384.4 583.4C384.8 588.1 385.4 592.7 385.6 597.4C385.8 602.1 385.3 607.6 385.6 611.5C385.8 615.4 386 618.1 387.3 620.8C388.6 623.5 391.2 627.1 393.2 627.8C395.1 628.6 397.8 627.1 399 625.5C400.2 623.9 399.4 621.2 400.2 618.5C401 615.8 402.5 612.2 403.7 609.1C404.9 606 405.8 602.3 407.2 599.8C408.6 597.2 409.9 595.5 411.9 593.9C413.8 592.4 416.2 591.2 418.9 590.4C421.6 589.6 424.7 589.3 428.2 589.2C431.8 589.2 436.4 589.8 439.9 590.2C443.5 590.6 446.6 590.6 449.3 591.6C452 592.6 453.6 594.3 456.3 596.3C459 598.2 462.7 600.9 465.7 603.3C468.6 605.6 471.3 608.1 473.9 610.3C476.4 612.4 479.3 614.2 480.9 616.1C482.4 618.1 483 620 483.2 622C483.4 623.9 483 626.4 482 627.8C481.1 629.3 479.3 630.6 477.4 630.8C475.4 631 472.7 629.8 470.4 629C468 628.2 465.5 626.8 463.3 626.1C461.2 625.4 459.2 624.8 457.5 624.9C455.7 625 453.8 625.6 452.8 626.7C451.8 627.7 451.6 629.2 451.6 631.3C451.6 633.5 452.1 637 452.8 639.5C453.5 642.1 454.8 644.4 455.7 646.5C456.7 648.7 457 651 458.7 652.4C460.3 653.8 463.1 654.2 465.7 654.7C468.2 655.3 471.1 655.5 473.9 655.9C476.6 656.3 479.1 656.3 482 657.1C485 657.9 488.7 659.6 491.4 660.6C494.1 661.6 495.9 663.9 498.4 662.9C501 661.9 504.5 655.3 506.6 654.7C508.8 654.2 509.9 657.7 511.3 659.4C512.7 661.2 513.9 663.1 514.8 665.3C515.7 667.4 516.7 669.6 516.5 672.3C516.4 675 514.6 678.5 513.6 681.6C512.7 684.8 511.1 687.7 510.7 691C510.3 694.3 510.2 699.3 511.3 701.5C512.4 703.8 515.7 703.8 517.1 704.4C518.6 705 518 704.8 520 705.1C522 705.5 525.8 706 529.4 706.3C532.9 706.6 537.2 706.9 541.1 706.9C545 706.9 548.8 706.5 552.7 706.3C556.6 706.1 560.5 706.1 564.4 705.7C568.3 705.3 572.6 704.7 576.1 704C579.6 703.3 582.4 702.8 585.5 701.6C588.6 700.5 592.1 698.5 594.9 697C597.6 695.4 599.9 694.2 601.9 692.3C603.8 690.3 604.8 687.6 606.5 685.3C608.3 682.9 610.6 680.6 612.4 678.2C614.2 675.9 615.7 673.6 617.1 671.2C618.4 668.9 619.2 666.5 620.6 664.2C621.9 661.9 623.7 659.7 625.3 657.2C626.8 654.7 628.2 651.7 629.9 649C631.7 646.3 633.8 643.5 635.8 640.8C637.7 638.1 639.9 635 641.6 632.6C643.4 630.3 644.6 629.7 646.3 626.8C648.1 623.9 650.6 619 652.2 615.1C653.7 611.2 655 607.3 655.7 603.4C656.4 599.5 656.3 595.6 656.3 591.7C656.3 587.8 655.1 582.1 655.7 580C656.2 577.9 659 580.8 659.4 579.1C659.8 577.3 658.8 572.8 658.2 569.7C657.7 566.6 656.9 563.5 655.9 560.4C654.9 557.2 654 553.9 652.4 551C650.8 548.1 648.7 545.3 646.5 542.8C644.4 540.3 641.9 537.9 639.5 535.8C637.2 533.6 634.7 531.9 632.5 529.9C630.4 528 628.1 526.2 626.7 524.1C625.2 521.9 624.1 519.6 623.7 517.1C623.4 514.5 623.8 511.4 624.3 508.9C624.8 506.4 625.9 504.2 626.7 501.9C627.4 499.5 628.4 497.4 629 494.9C629.6 492.3 630.2 489.4 630.2 486.7C630.2 483.9 629.6 481.4 629 478.5C628.4 475.6 627.6 472 626.7 469.1C625.7 466.2 624.9 463.3 623.2 460.9C621.4 458.6 618.9 456.9 616.1 455.1C613.4 453.2 610.3 451.6 606.8 449.8C603.3 448.1 599 446.2 595.1 444.6C591.2 442.9 587.3 441.2 583.4 439.9C579.5 438.5 576.1 437.3 571.7 436.4C567.3 435.5 561.4 435.4 557 434.4C552.6 433.4 549.2 431.8 545.3 430.3C541.4 428.8 537.5 427.2 533.6 425.6C529.7 424.1 525.8 422.4 521.9 420.9C518 419.5 514.1 417.7 510.2 416.8C506.3 416 502.4 415.7 498.5 415.7C494.6 415.6 489 415.9 486.8 416.5C484.5 417.1 487.1 418.1 485 419.1Z" fill="#0032E0"/>
<path d="M485 424.5C482.4 425.3 478.7 426.3 475.9 428.2C473.2 430 470.5 432.4 468.7 435.4C466.9 438.4 466.3 442.7 465.1 446.3C463.9 449.9 462.6 453.5 461.4 457.2C460.2 460.8 459 464.4 457.8 468C456.6 471.7 454.8 475.3 454.2 478.9C453.6 482.5 455.4 486.2 454.2 489.8C453 493.4 449.4 496.4 446.9 500.7C444.5 504.9 441.5 510.3 439.7 515.2C437.9 520 437.3 525.5 436.1 529.7C434.9 533.9 433.6 536.3 432.4 540.6C431.2 544.8 430.3 551.8 428.8 555.1C427.3 558.3 424.6 558 423.6 560C422.5 562 422.2 564.9 422.4 567C422.6 569.2 423.4 571.3 424.7 572.9C426.1 574.4 428.1 575 430.6 576.4C433.1 577.7 436.8 579.7 439.9 581.1C443.1 582.4 446.2 583.4 449.3 584.6C452.4 585.7 455.5 586.5 458.7 588.1C461.8 589.6 464.9 592 468 593.9C471.1 595.9 474.2 597.6 477.4 599.8C480.5 601.9 483.8 604.2 486.7 606.8C489.6 609.3 492.6 612.2 494.9 615C497.3 617.7 499 620.2 500.8 623.2C502.5 626.1 503.9 629.4 505.4 632.5C507 635.6 508.8 638.8 510.1 641.9C511.5 645 512.5 647.9 513.6 651.2C514.8 654.5 516.2 658.2 517.1 661.8C518.1 665.3 518.9 668.8 519.5 672.3C520.1 675.8 520.3 679.7 520.6 682.8C521 685.9 520.8 689 521.8 691C522.8 692.9 525.1 693.6 526.5 694.5C527.9 695.4 529.1 695.8 530 696.3C530.9 696.7 529.9 696.6 531.7 697C533.5 697.3 537.5 697.9 541.1 698.1C544.6 698.3 549.2 698.2 552.7 698.1C556.3 698 559 697.9 562.1 697.5C565.2 697.2 568.3 696.7 571.5 695.8C574.6 694.9 577.7 693.6 580.8 692.3C583.9 690.9 587.4 689.4 590.2 687.6C592.9 685.8 595.2 684.1 597.2 681.8C599.1 679.4 600.3 676.1 601.9 673.6C603.4 671 605 668.9 606.5 666.5C608.1 664.2 609.9 661.9 611.2 659.5C612.6 657.2 613.6 655.2 614.7 652.5C615.9 649.8 616.7 646.1 618.2 643.2C619.8 640.2 621.9 637.3 624.1 635C626.2 632.6 629 631.3 631.1 629.1C633.3 627 635 624.6 637 622.1C638.9 619.6 641.2 617 642.8 613.9C644.4 610.8 645.5 607.1 646.3 603.4C647.1 599.7 647.4 595.4 647.5 591.7C647.6 588 646.8 584.9 646.8 581.4C646.7 577.9 647.2 574.4 647.1 570.9C647.1 567.4 647.4 563.7 646.5 560.4C645.7 557 643.8 553.7 641.9 551C639.9 548.3 637.6 546.1 634.9 544C632.1 541.8 628.6 540.1 625.5 538.1C622.4 536.2 618.9 534.2 616.1 532.3C613.4 530.3 610.8 528.6 609.1 526.4C607.5 524.3 606.6 522.3 606.2 519.4C605.8 516.5 606.5 511.8 606.8 508.9C607.1 506 607.2 504.2 608 501.9C608.7 499.5 610.1 497.2 611.5 494.9C612.8 492.5 615.1 490.2 616.1 487.8C617.2 485.5 617.7 483.4 617.9 480.8C618.1 478.3 618 475 617.3 472.6C616.6 470.3 615.6 468.7 613.8 466.8C612 464.8 609.9 463 606.8 460.9C603.7 458.9 599 456.4 595.1 454.5C591.2 452.7 587.3 451.2 583.4 449.8C579.5 448.5 576.1 447.4 571.7 446.3C567.3 445.2 561.4 444.5 557 443.2C552.6 441.9 549.2 440 545.3 438.5C541.4 436.9 537.5 435.4 533.6 433.8C529.7 432.2 525.8 430.7 521.9 429.1C518 427.6 513.7 425.5 510.2 424.4C506.7 423.4 503.9 423.1 500.8 423C497.7 422.9 494.1 423.6 491.5 423.9C488.8 424.1 487.6 423.8 485 424.5Z" fill="#001CB9"/>
<path d="M485 435.4C480.8 437.2 479.9 438.4 477.8 440.9C475.6 443.3 473.5 446 472.3 449.9C471.1 453.8 471.1 459.6 470.5 464.4C469.9 469.3 469.3 474.1 468.7 478.9C468.1 483.8 468.4 488.9 466.9 493.4C465.4 498 462 501.9 459.6 506.1C457.2 510.3 454.2 514.3 452.4 518.8C450.6 523.3 449.7 528.5 448.7 533.3C447.8 538.1 447 543.4 446.9 547.8C446.8 552.3 447.7 557 448.1 560C448.5 563 448.3 563.9 449.3 565.8C450.3 567.8 452 569.7 454 571.7C455.9 573.6 458.3 575.6 461 577.5C463.7 579.5 467.2 581.2 470.4 583.4C473.5 585.5 476.6 587.9 479.7 590.4C482.8 592.9 485.9 595.9 489.1 598.6C492.2 601.3 495.7 603.9 498.4 606.8C501.2 609.7 503.3 613 505.4 616.1C507.6 619.3 509.5 622.2 511.3 625.5C513 628.8 514.6 632.5 516 636C517.3 639.5 518.1 643 519.5 646.5C520.8 650.1 522.4 654 524.2 657.1C525.9 660.2 528.9 662.5 530 665.3C531.1 668 529.5 671 530.5 673.6C531.6 676.1 534.4 678.5 536.4 680.6C538.3 682.6 539.5 685 542.2 685.8C545 686.7 549.4 686.1 552.7 685.8C556.1 685.6 559 685 562.1 684.1C565.2 683.2 568.3 681.9 571.5 680.6C574.6 679.2 577.9 677.7 580.8 675.9C583.7 674.2 586.7 672.2 589 670.1C591.3 667.9 593.1 665.4 594.9 663C596.6 660.7 598.2 658.4 599.5 656C600.9 653.7 601.9 651.5 603 649C604.2 646.5 605.2 643.4 606.5 640.8C607.9 638.3 609.3 635.9 611.2 633.8C613.2 631.7 615.9 629.9 618.2 628C620.6 626 622.9 624.4 625.3 622.1C627.6 619.8 630.5 617 632.3 613.9C634 610.8 635 607.1 635.8 603.4C636.6 599.7 637 595.6 637 591.7C637 587.8 635.9 582.9 635.8 580C635.6 577.1 636.2 576.9 636 574.4C635.9 571.9 635.8 568.1 634.9 565C633.9 561.9 632.1 558.6 630.2 555.7C628.2 552.7 625.9 549.8 623.2 547.5C620.4 545.1 616.9 543.4 613.8 541.6C610.7 539.9 607.4 538.7 604.4 537C601.5 535.2 598.6 533.5 596.3 531.1C593.9 528.8 591.8 525.8 590.4 522.9C589 520 588.3 516.7 588.1 513.6C587.9 510.4 588.3 507.1 589.2 504.2C590.2 501.3 592.2 498.4 593.9 496C595.7 493.7 598 492.1 599.8 490.2C601.5 488.2 603.6 486.5 604.4 484.3C605.3 482.2 605.4 479.5 605 477.3C604.6 475.2 603.8 473.2 602.1 471.5C600.4 469.7 598.2 468.6 595.1 466.8C592 464.9 587.3 462.3 583.4 460.4C579.5 458.4 576.1 456.5 571.7 455.1C567.3 453.7 561.4 453.2 557 451.9C552.6 450.6 549.2 448.9 545.3 447.3C541.4 445.6 537.5 443.8 533.6 442C529.7 440.1 525.4 437.7 521.9 436.1C518.4 434.6 515.6 433.6 512.5 432.6C509.4 431.7 507.7 429.8 503.2 430.3C498.6 430.8 489.2 433.7 485 435.4Z" fill="#00008C"/>
</g>
<use href="#coast" x="477.0" y="563.6"/>
</g>
<circle cx="477.0" cy="563.6" r="290.3" fill="none" stroke="#000" stroke-width="1.7"/>
<g clip-path="url(#c2)">
<rect x="940.7" y="271.3" width="584.6" height="584.6" fill="#FFE8D6"/>
<g>
<path d="M941.9 507.9C951 514.4 951.8 515.5 954.6 518.8C957.3 522.1 957.1 523.9 958.2 527.9C959.3 531.8 960.2 537.5 960.9 542.4C961.7 547.2 962.3 554.8 962.7 556.9C963.2 559 963.2 552.3 963.6 555C964.1 557.7 965 567.1 965.4 573.1C965.9 579.2 966.2 585.2 966.4 591.3C966.5 597.3 966 603.3 966.4 609.4C966.7 615.4 966.8 622.1 968.2 627.5C969.5 633 972.2 637.2 974.5 642C976.8 646.9 979.6 651.1 981.8 656.5C983.9 662 985.7 669.2 987.2 674.7C988.7 680.1 989 684.3 990.8 689.2C992.6 694 995.4 698.8 998.1 703.7C1000.8 708.5 1004.4 713 1007.1 718.2C1009.9 723.3 1012 729 1014.4 734.5C1016.8 739.9 1019.1 746 1021.6 750.8C1024.2 755.6 1026.8 759.9 1029.8 763.5C1032.8 767.1 1035.7 769.2 1039.8 772.5C1043.9 775.9 1049.4 780.1 1054.3 783.4C1059.1 786.8 1064.2 789.5 1068.8 792.5C1073.3 795.5 1077.2 798.8 1081.5 801.6C1085.7 804.3 1090.2 806.4 1094.2 808.8C1098.1 811.2 1100.8 813.9 1105 816.1C1109.3 818.2 1114.7 820 1119.5 821.5C1124.4 823 1129.2 824.1 1134 825.1C1138.9 826.2 1143.1 826.9 1148.5 827.8C1154 828.7 1160.6 830 1166.7 830.6C1172.7 831.2 1178.8 831.3 1184.8 831.5C1190.9 831.6 1196.9 831 1202.9 831.5C1209 831.9 1217.2 833.6 1221.1 834.2C1224.9 834.8 1222.8 834.5 1226 835.1C1229.2 835.7 1235.7 837.1 1240.5 837.8C1245.3 838.5 1250.2 839.1 1255 839.3C1259.8 839.4 1264.7 839 1269.5 838.7C1274.3 838.5 1279.2 838.1 1284 837.8C1288.8 837.5 1293.7 837.2 1298.5 836.9C1303.4 836.6 1308.2 836 1313 836C1317.9 836 1322.7 836.6 1327.5 836.9C1332.4 837.2 1329.9 827.3 1342 837.8C1354.1 848.3 1348.7 923 1400 900C1451.3 877 1608.3 816.7 1650 700C1691.7 583.3 1775 283.3 1650 200C1525 116.7 1025 153.3 900 200C775 246.7 893 428.7 900 480C907 531.3 932.8 501.5 941.9 507.9Z" fill="#D6EBFF"/>
<path d="M1047 337.5C1048.7 345.1 1042.5 350.2 1039.8 355.6C1037.1 361.1 1033.4 365.3 1030.7 370.1C1028 375 1025.3 379.8 1023.5 384.7C1021.6 389.5 1021.6 394.3 1019.8 399.2C1018 404 1014.7 408.8 1012.6 413.7C1010.5 418.5 1008.8 423.3 1007.1 428.2C1005.5 433 1003.7 438.1 1002.6 442.7C1001.6 447.2 1000.6 450.8 1000.8 455.4C1000.9 459.9 1002.9 465.3 1003.5 469.9C1004.1 474.4 1004.1 477.4 1004.4 482.5C1004.7 487.7 1005.3 494.6 1005.3 500.7C1005.3 506.7 1004.7 512.8 1004.4 518.8C1004.1 524.9 1003.7 530.9 1003.5 536.9C1003.4 543 1003.7 552.1 1003.5 555.1C1003.4 558.1 1002.5 552 1002.6 555C1002.8 558 1003.8 567.1 1004.4 573.1C1005 579.2 1005.5 585.2 1006.2 591.3C1007 597.3 1007.9 603.3 1009 609.4C1010 615.4 1011.1 621.5 1012.6 627.5C1014.1 633.6 1016.2 639.6 1018 645.6C1019.8 651.7 1021.3 657.7 1023.5 663.8C1025.6 669.8 1028.3 676.5 1030.7 681.9C1033.1 687.3 1035.8 691.6 1038 696.4C1040.1 701.2 1041.6 706.1 1043.4 710.9C1045.2 715.7 1046.4 720.9 1048.8 725.4C1051.3 729.9 1054.3 734.5 1057.9 738.1C1061.5 741.7 1066.1 744.4 1070.6 747.2C1075.1 749.9 1080.6 751.7 1085.1 754.4C1089.6 757.1 1093.9 760.5 1097.8 763.5C1101.7 766.5 1104.4 769.5 1108.7 772.5C1112.9 775.6 1118.3 778.9 1123.2 781.6C1128 784.3 1132.8 786.8 1137.7 788.9C1142.5 791 1146.7 792.6 1152.2 794.3C1157.6 796 1164.3 797.6 1170.3 798.8C1176.3 800 1182.4 801.1 1188.4 801.6C1194.5 802 1200.5 801.3 1206.6 801.6C1212.6 801.9 1221.5 802.8 1224.7 803.4C1227.9 804 1223.4 804.4 1226 805.2C1228.6 805.9 1235.7 807.1 1240.5 807.9C1245.3 808.7 1250.2 809.6 1255 809.7C1259.8 809.9 1264.7 809.3 1269.5 808.8C1274.3 808.4 1279.2 807.4 1284 807C1288.8 806.5 1293.7 806.5 1298.5 806.1C1303.4 805.6 1308.2 805 1313 804.3C1317.9 803.5 1322.7 802.6 1327.5 801.6C1332.4 800.5 1337.2 799.4 1342 797.9C1346.9 796.4 1351.7 794.3 1356.5 792.5C1361.4 790.7 1366.2 789.2 1371 787.1C1375.9 784.9 1380.7 782.5 1385.5 779.8C1390.4 777.1 1395.2 773.8 1400 770.7C1404.9 767.7 1410.3 764.4 1414.5 761.7C1418.8 759 1421.8 757.1 1425.4 754.4C1429 751.7 1432.7 749 1436.3 745.4C1439.9 741.7 1443.5 737.2 1447.2 732.7C1450.8 728.1 1454.4 722.7 1458.1 718.2C1461.7 713.6 1465.3 709.4 1468.9 705.5C1472.6 701.5 1476.5 698.5 1479.8 694.6C1483.1 690.7 1485.9 687 1488.9 681.9C1491.9 676.8 1495.2 669.8 1497.9 663.8C1500.7 657.7 1503.7 650.8 1505.2 645.6C1506.7 640.5 1506.1 637.8 1507 633C1507.9 628.1 1509.4 622.1 1510.6 616.6C1511.8 611.2 1513 605.8 1514.3 600.3C1515.5 594.9 1516.7 589.1 1517.9 584C1519.1 578.9 1520.3 573.1 1521.5 569.5C1522.7 565.9 1517 567.2 1525.1 562.3C1533.2 557.3 1564.2 592 1570 540C1575.8 488 1616.2 303.3 1560 250C1503.8 196.7 1321.3 210 1233 220C1144.7 230 1061 290.4 1030 310C999 329.6 1045.4 329.9 1047 337.5Z" fill="#B5CCFF"/>
<path d="M1221.1 319C1214.2 319.1 1209 319.2 1202.9 319.4C1196.9 319.5 1190.2 319.5 1184.8 319.9C1179.4 320.4 1175.1 321 1170.3 322.1C1165.5 323.2 1160.6 324.8 1155.8 326.6C1151 328.5 1146.1 330.6 1141.3 333C1136.5 335.4 1131.6 338.3 1126.8 341.1C1122 344 1116.8 346.9 1112.3 350.2C1107.8 353.5 1103.5 357.5 1099.6 361.1C1095.7 364.7 1092.3 368.3 1088.7 372C1085.1 375.6 1081.5 379.2 1077.8 382.8C1074.2 386.5 1070.3 389.8 1067 393.7C1063.6 397.6 1060.9 402.2 1057.9 406.4C1054.9 410.6 1051.6 414.9 1048.8 419.1C1046.1 423.3 1044 427.6 1041.6 431.8C1039.2 436 1036.1 440.2 1034.3 444.5C1032.5 448.7 1031.4 452.9 1030.7 457.2C1030 461.4 1030 465.6 1030.3 469.9C1030.6 474.1 1031.6 478 1032.5 482.5C1033.5 487.1 1034.9 492.2 1036.1 497.1C1037.4 501.9 1038.7 506.7 1039.8 511.6C1040.8 516.4 1041.9 521.2 1042.5 526.1C1043.1 530.9 1043.2 535.7 1043.4 540.6C1043.6 545.4 1043.2 549.6 1043.4 555C1043.6 560.4 1043.7 567.1 1044.3 573.1C1044.9 579.2 1046 585.2 1047 591.3C1048.1 597.3 1049.7 603.3 1050.7 609.4C1051.6 615.4 1051.9 621.5 1052.5 627.5C1053.1 633.6 1053.4 640.2 1054.3 645.6C1055.2 651.1 1056.1 655.6 1057.9 660.1C1059.7 664.7 1062.4 668.6 1065.2 672.8C1067.9 677.1 1070.9 681.3 1074.2 685.5C1077.5 689.8 1081.5 694 1085.1 698.2C1088.7 702.4 1092.7 707 1096 710.9C1099.3 714.8 1102 717.9 1105 721.8C1108.1 725.7 1110.8 730.5 1114.1 734.5C1117.4 738.4 1121.1 742.3 1125 745.4C1128.9 748.4 1133.1 750.5 1137.7 752.6C1142.2 754.7 1147.3 756.7 1152.2 758C1157 759.4 1161.2 760.2 1166.7 760.8C1172.1 761.4 1178.8 761.2 1184.8 761.7C1190.9 762.1 1196.9 762.6 1202.9 763.5C1209 764.4 1217.2 766.1 1221.1 767.1C1224.9 768.2 1222.2 768.8 1226 769.8C1229.8 770.9 1238.7 772.5 1244.1 773.5C1249.6 774.4 1253.8 775.1 1258.6 775.3C1263.5 775.4 1268.3 774.7 1273.1 774.4C1278 774.1 1282.8 773.8 1287.6 773.5C1292.5 773.2 1297.3 773 1302.1 772.5C1307 772.1 1311.8 771.9 1316.6 770.7C1321.5 769.5 1326.3 767.7 1331.1 765.3C1336 762.9 1340.8 759.3 1345.7 756.2C1350.5 753.2 1355.3 749.9 1360.2 747.2C1365 744.4 1369.8 742.3 1374.7 739.9C1379.5 737.5 1384.3 735.4 1389.2 732.7C1394 729.9 1399.4 727.2 1403.7 723.6C1407.9 720 1411.8 714.8 1414.5 710.9C1417.3 707 1418.2 703.7 1420 700C1421.8 696.4 1423.3 692.8 1425.4 689.2C1427.5 685.5 1429.6 681.9 1432.7 678.3C1435.7 674.7 1440.5 671 1443.5 667.4C1446.6 663.8 1448.4 660.8 1450.8 656.5C1453.2 652.3 1455.9 646.9 1458.1 642C1460.2 637.2 1461.7 633 1463.5 627.5C1465.3 622.1 1467.4 615.4 1468.9 609.4C1470.4 603.3 1471.6 597.3 1472.6 591.3C1473.5 585.2 1474.1 578 1474.4 573.1C1474.7 568.3 1474.2 566.5 1474.4 562.3C1474.5 558.1 1475 552.6 1475.3 547.8C1475.6 543 1476.3 538.1 1476.2 533.3C1476 528.5 1475.3 523.3 1474.4 518.8C1473.5 514.3 1472 510 1470.7 506.1C1469.5 502.2 1468.3 499.2 1467.1 495.2C1465.9 491.3 1464.7 487.1 1463.5 482.5C1462.3 478 1461.4 472.6 1459.9 468C1458.4 463.5 1456.2 459.6 1454.4 455.4C1452.6 451.1 1451.1 446.6 1449 442.7C1446.9 438.7 1444.5 435.4 1441.7 431.8C1439 428.2 1435.7 424.8 1432.7 420.9C1429.6 417 1426.6 412.4 1423.6 408.2C1420.6 404 1417.9 399.2 1414.5 395.5C1411.2 391.9 1407.9 389.2 1403.7 386.5C1399.4 383.7 1394 381.6 1389.2 379.2C1384.3 376.8 1379.5 374.7 1374.7 372C1369.8 369.2 1365 366.2 1360.2 362.9C1355.3 359.6 1350.5 355 1345.7 352C1340.8 349 1336 346.9 1331.1 344.8C1326.3 342.7 1321.5 340.8 1316.6 339.3C1311.8 337.8 1307 337.2 1302.1 335.7C1297.3 334.2 1292.5 332.1 1287.6 330.3C1282.8 328.5 1278 326.5 1273.1 324.8C1268.3 323.2 1263.5 321.3 1258.6 320.3C1253.8 319.3 1250.4 319.2 1244.1 319C1237.9 318.8 1227.9 319 1221.1 319Z" fill="#82AAFF"/>
<path d="M1228.3 377.4C1223.3 376 1218.6 375.3 1213.8 374.7C1209 374.1 1204.1 374 1199.3 373.8C1194.5 373.6 1189.3 373 1184.8 373.4C1180.3 373.9 1176.3 375.2 1172.1 376.5C1167.9 377.8 1164 379.7 1159.4 381C1154.9 382.4 1149.8 383.4 1144.9 384.7C1140.1 385.9 1135 386.6 1130.4 388.3C1125.9 389.9 1121.7 392.2 1117.7 394.6C1113.8 397 1110.5 399.9 1106.9 402.8C1103.2 405.7 1099.6 408.8 1096 411.8C1092.3 414.9 1088.7 418.2 1085.1 420.9C1081.5 423.6 1077.5 425.4 1074.2 428.2C1070.9 430.9 1067.9 433.9 1065.2 437.2C1062.4 440.5 1060 444.5 1057.9 448.1C1055.8 451.7 1054 455.4 1052.5 459C1051 462.6 1049.4 465.9 1048.8 469.9C1048.2 473.8 1047.9 478.3 1048.8 482.5C1049.7 486.8 1052.5 491 1054.3 495.2C1056.1 499.5 1058.2 503.4 1059.7 507.9C1061.2 512.5 1062.1 517.6 1063.3 522.4C1064.6 527.3 1066.1 532.1 1067 536.9C1067.9 541.8 1068.5 548.4 1068.8 551.4C1069.1 554.5 1068.6 552 1068.8 555C1068.9 558 1069.2 564.7 1069.7 569.5C1070.1 574.3 1070.7 579.2 1071.5 584C1072.3 588.8 1072.9 593.7 1074.2 598.5C1075.6 603.3 1077.8 608.2 1079.7 613C1081.5 617.8 1083.3 623 1085.1 627.5C1086.9 632 1088.4 636 1090.5 640.2C1092.7 644.4 1095.4 648.7 1097.8 652.9C1100.2 657.1 1102.3 661.4 1105 665.6C1107.8 669.8 1111.1 674.3 1114.1 678.3C1117.1 682.2 1120.1 685.5 1123.2 689.2C1126.2 692.8 1129.2 696.7 1132.2 700C1135.3 703.4 1138.3 706.4 1141.3 709.1C1144.3 711.8 1146.7 714.1 1150.4 716.3C1154 718.6 1158.5 721 1163.1 722.7C1167.6 724.4 1172.7 725.3 1177.6 726.3C1182.4 727.4 1187.2 728.1 1192.1 729C1196.9 729.9 1201.7 730.9 1206.6 731.8C1211.4 732.7 1217.8 734.2 1221.1 734.5C1224.3 734.8 1223.4 733.6 1226 733.6C1228.6 733.6 1232.6 734 1236.9 734.5C1241.1 734.9 1246.5 735.5 1251.4 736.3C1256.2 737 1261 738.1 1265.9 739C1270.7 739.9 1275.6 741 1280.4 741.7C1285.2 742.5 1290.1 743.4 1294.9 743.5C1299.7 743.7 1304.6 743.2 1309.4 742.6C1314.2 742 1319.1 741.3 1323.9 739.9C1328.7 738.6 1333.6 736.6 1338.4 734.5C1343.2 732.4 1348.1 729.6 1352.9 727.2C1357.7 724.8 1362.6 722.7 1367.4 720C1372.2 717.3 1377.7 714.2 1381.9 710.9C1386.1 707.6 1389.8 703.7 1392.8 700C1395.8 696.4 1397.9 693.4 1400 689.2C1402.2 684.9 1403.4 678.9 1405.5 674.7C1407.6 670.4 1410 667.4 1412.7 663.8C1415.4 660.1 1419.1 656.5 1421.8 652.9C1424.5 649.3 1426.6 646.2 1429 642C1431.5 637.8 1434.2 633 1436.3 627.5C1438.4 622.1 1440.2 615.4 1441.7 609.4C1443.2 603.3 1444.5 597.3 1445.4 591.3C1446.3 585.2 1447.2 578.6 1447.2 573.1C1447.2 567.7 1446 563.5 1445.4 558.7C1444.8 553.9 1444.5 548.4 1443.5 544.2C1442.6 540 1441.4 536.9 1439.9 533.3C1438.4 529.7 1436.3 526.1 1434.5 522.4C1432.7 518.8 1430.6 515.2 1429 511.6C1427.5 507.9 1426.3 504.6 1425.4 500.7C1424.5 496.8 1424.2 492.5 1423.6 488C1423 483.5 1422.7 478 1421.8 473.5C1420.9 469 1419.7 465 1418.2 460.8C1416.7 456.6 1415.1 452.3 1412.7 448.1C1410.3 443.9 1407 439.3 1403.7 435.4C1400.3 431.5 1396.4 427.9 1392.8 424.5C1389.2 421.2 1385.5 417.9 1381.9 415.5C1378.3 413.1 1374.7 411.5 1371 410C1367.4 408.5 1364.4 407.9 1360.2 406.4C1355.9 404.9 1349.9 402.8 1345.7 401C1341.4 399.2 1338.4 397.3 1334.8 395.5C1331.1 393.7 1327.5 391.6 1323.9 390.1C1320.3 388.6 1317.2 387.3 1313 386.5C1308.8 385.6 1304 385.3 1298.5 385C1293.1 384.7 1286.4 384.9 1280.4 384.7C1274.3 384.4 1268.3 384 1262.3 383.7C1256.2 383.4 1249.8 383.9 1244.1 382.8C1238.5 381.8 1233.4 378.8 1228.3 377.4Z" fill="#4078FF"/>
<path d="M1228.3 400.1C1223.9 401.1 1218 402.6 1213.8 404.6C1209.6 406.6 1206 409.4 1202.9 411.8C1199.9 414.3 1198.7 416.4 1195.7 419.1C1192.7 421.8 1188.4 424.8 1184.8 428.2C1181.2 431.5 1177 435.7 1173.9 439C1170.9 442.4 1169.1 445.4 1166.7 448.1C1164.3 450.8 1162.4 453.2 1159.4 455.4C1156.4 457.5 1152.5 459.3 1148.5 460.8C1144.6 462.3 1140.1 463.7 1135.9 464.4C1131.6 465.2 1127.1 465.5 1123.2 465.3C1119.2 465.2 1115.9 464.6 1112.3 463.5C1108.7 462.5 1104.7 460 1101.4 459C1098.1 457.9 1095.7 457.3 1092.3 457.2C1089 457 1084.5 457.2 1081.5 458.1C1078.4 459 1076.3 460.6 1074.2 462.6C1072.1 464.6 1070 467.1 1068.8 469.9C1067.6 472.6 1066.7 475.9 1067 478.9C1067.3 481.9 1069.1 484.7 1070.6 488C1072.1 491.3 1074.2 495.2 1076 498.9C1077.8 502.5 1080 505.8 1081.5 509.7C1083 513.7 1084.2 518.2 1085.1 522.4C1086 526.7 1086.3 530.9 1086.9 535.1C1087.5 539.4 1088.4 544.5 1088.7 547.8C1089 551.1 1088.4 551.4 1088.7 555C1089 558.6 1089.6 564.7 1090.5 569.5C1091.4 574.3 1093 579.5 1094.2 584C1095.4 588.5 1096.3 592.5 1097.8 596.7C1099.3 600.9 1101.4 605.2 1103.2 609.4C1105 613.6 1106.9 618.1 1108.7 622.1C1110.5 626 1112 629.3 1114.1 633C1116.2 636.6 1118.9 640.8 1121.4 643.8C1123.8 646.9 1125.9 648.7 1128.6 651.1C1131.3 653.5 1134.3 656.2 1137.7 658.3C1141 660.5 1144.9 662.1 1148.5 663.8C1152.2 665.4 1155.8 666.8 1159.4 668.3C1163.1 669.8 1166.7 671.5 1170.3 672.8C1173.9 674.2 1177.6 675.4 1181.2 676.5C1184.8 677.5 1188.4 678.6 1192.1 679.2C1195.7 679.8 1199.6 680.5 1202.9 680.1C1206.3 679.6 1209 678 1212 676.5C1215 675 1218.7 673.1 1221.1 671C1223.4 668.9 1223.4 664.4 1226 663.8C1228.6 663.2 1233.9 665.9 1236.9 667.4C1239.9 668.9 1242.3 670.4 1244.1 672.8C1245.9 675.3 1246.8 678.6 1247.8 681.9C1248.7 685.2 1248.7 689.2 1249.6 692.8C1250.5 696.4 1252.3 700.3 1253.2 703.7C1254.1 707 1253.5 710.3 1255 712.7C1256.5 715.1 1259.2 716.5 1262.3 718.2C1265.3 719.8 1269.5 721.6 1273.1 722.7C1276.8 723.8 1279.8 724.1 1284 724.5C1288.2 725 1293.7 725.4 1298.5 725.4C1303.4 725.4 1308.2 725 1313 724.5C1317.9 724.1 1322.7 723.4 1327.5 722.7C1332.4 721.9 1337.2 721.3 1342 720C1346.9 718.6 1351.7 716.7 1356.5 714.5C1361.4 712.4 1366.8 710 1371 707.3C1375.3 704.6 1379.8 701.2 1381.9 698.2C1384 695.2 1382.2 691.9 1383.7 689.2C1385.2 686.4 1388.9 684.6 1391 681.9C1393.1 679.2 1394.9 676.2 1396.4 672.8C1397.9 669.5 1397.9 665.3 1400 662C1402.2 658.6 1406.2 655.6 1409.1 652.9C1412 650.2 1415.8 649.3 1417.3 645.6C1418.8 642 1417.4 635.7 1418.2 631.1C1418.9 626.6 1420.3 622.7 1421.8 618.5C1423.3 614.2 1425.9 610.3 1427.2 605.8C1428.6 601.2 1429.3 596.7 1430 591.3C1430.6 585.8 1431 577.3 1430.9 573.1C1430.7 568.9 1429.6 569 1429 565.9C1428.4 562.9 1428.1 558.7 1427.2 555.1C1426.3 551.4 1425.4 547.5 1423.6 544.2C1421.8 540.9 1419.1 538.1 1416.4 535.1C1413.6 532.1 1410 528.8 1407.3 526.1C1404.6 523.3 1401.9 521.2 1400 518.8C1398.2 516.4 1396.4 513.7 1396.4 511.6C1396.4 509.4 1399 508.2 1400 506.1C1401.1 504 1402.5 502.2 1402.8 498.9C1403.1 495.5 1402.2 490.4 1401.9 486.2C1401.5 481.9 1401.5 477.7 1400.9 473.5C1400.3 469.3 1399.3 464.7 1398.2 460.8C1397.2 456.9 1396.4 452.9 1394.6 449.9C1392.8 446.9 1390.1 444.6 1387.3 442.7C1384.6 440.7 1381.6 439.9 1378.3 438.1C1375 436.3 1371 433.6 1367.4 431.8C1363.8 430 1360.2 428.2 1356.5 427.3C1352.9 426.3 1349.3 426.8 1345.7 426.3C1342 425.9 1338.4 425.7 1334.8 424.5C1331.1 423.3 1327.5 420.6 1323.9 419.1C1320.3 417.6 1316.6 416.7 1313 415.5C1309.4 414.3 1305.8 413.1 1302.1 411.8C1298.5 410.6 1294.9 409.3 1291.3 408.2C1287.6 407.2 1284 406.4 1280.4 405.5C1276.8 404.6 1273.7 403.7 1269.5 402.8C1265.3 401.9 1259.8 400.8 1255 400.1C1250.2 399.3 1245 398.2 1240.5 398.2C1236.1 398.2 1232.8 399 1228.3 400.1Z" fill="#1A4FFF"/>
<path d="M1230.1 420.9C1226.6 423.9 1222.6 424.2 1219.3 426.3C1215.9 428.5 1212.9 430.6 1210.2 433.6C1207.5 436.6 1205.1 440.9 1202.9 444.5C1200.8 448.1 1199.3 451.7 1197.5 455.4C1195.7 459 1194.2 462.6 1192.1 466.2C1189.9 469.9 1187.2 474.1 1184.8 477.1C1182.4 480.1 1180.6 482.2 1177.6 484.4C1174.5 486.5 1170.6 488.3 1166.7 489.8C1162.8 491.3 1158.2 492.5 1154 493.4C1149.8 494.3 1145.2 494.6 1141.3 495.2C1137.4 495.8 1134 496.6 1130.4 497.1C1126.8 497.5 1122.9 497.4 1119.5 498C1116.2 498.6 1112.7 499 1110.5 500.7C1108.2 502.3 1106.9 504.9 1105.9 507.9C1105 511 1105.3 514.9 1105 518.8C1104.7 522.7 1104.1 527.3 1104.1 531.5C1104.1 535.7 1104.6 540.3 1105 544.2C1105.5 548.1 1106.4 551.4 1106.9 555C1107.3 558.6 1107.2 561.9 1107.8 565.9C1108.4 569.8 1109.4 574.3 1110.5 578.6C1111.5 582.8 1112.6 587 1114.1 591.3C1115.6 595.5 1117.7 600 1119.5 603.9C1121.4 607.9 1123.2 611.2 1125 614.8C1126.8 618.5 1128.3 622.7 1130.4 625.7C1132.5 628.7 1135.3 631.4 1137.7 633C1140.1 634.5 1143.1 633.3 1144.9 634.8C1146.7 636.3 1146.4 639.6 1148.5 642C1150.7 644.4 1154.6 647.5 1157.6 649.3C1160.6 651.1 1164 652.6 1166.7 652.9C1169.4 653.2 1171.5 651.8 1173.9 651.1C1176.3 650.3 1178.5 648.7 1181.2 648.4C1183.9 648.1 1187.2 648.5 1190.2 649.3C1193.3 650 1196.3 652.3 1199.3 652.9C1202.3 653.5 1205.4 653.5 1208.4 652.9C1211.4 652.3 1214.1 650.5 1217.4 649.3C1220.8 648.1 1225.7 646.2 1228.3 645.6C1231 645 1230.6 645 1233.3 645.6C1235.9 646.2 1240.5 647.5 1244.1 649.3C1247.8 651.1 1252.3 653.8 1255 656.5C1257.7 659.2 1259.2 662.3 1260.4 665.6C1261.7 668.9 1261.5 672.8 1262.3 676.5C1263 680.1 1263.8 683.7 1265 687.3C1266.2 691 1267.5 695.2 1269.5 698.2C1271.5 701.2 1273.7 703.7 1276.8 705.5C1279.8 707.3 1283.4 708.3 1287.6 709.1C1291.9 709.9 1297.3 710 1302.1 710C1307 710 1311.8 709.7 1316.6 709.1C1321.5 708.5 1326.3 707.6 1331.1 706.4C1336 705.2 1340.8 703.8 1345.7 701.8C1350.5 699.9 1355.9 697.3 1360.2 694.6C1364.4 691.9 1367.4 689.5 1371 685.5C1374.7 681.6 1379.2 675.6 1381.9 671C1384.6 666.5 1385.5 662.6 1387.3 658.3C1389.2 654.1 1390.7 649.9 1392.8 645.6C1394.9 641.4 1397.6 637.2 1400 633C1402.5 628.7 1404.9 624.8 1407.3 620.3C1409.7 615.7 1412.7 610.6 1414.5 605.8C1416.4 600.9 1417.4 596.7 1418.2 591.3C1418.9 585.8 1419.2 577.3 1419.1 573.1C1418.9 568.9 1418 569 1417.3 565.9C1416.5 562.9 1415.9 558.4 1414.5 555.1C1413.2 551.7 1411.5 549 1409.1 546C1406.7 543 1403.1 539.7 1400 536.9C1397 534.2 1394 532.1 1391 529.7C1388 527.3 1384.3 525.2 1381.9 522.4C1379.5 519.7 1377.4 516.4 1376.5 513.4C1375.6 510.3 1375.9 507.6 1376.5 504.3C1377.1 501 1378.6 497.1 1380.1 493.4C1381.6 489.8 1384.5 486.2 1385.5 482.5C1386.6 478.9 1386.7 475.3 1386.4 471.7C1386.1 468 1385.1 464.1 1383.7 460.8C1382.4 457.5 1380.7 454.4 1378.3 451.7C1375.9 449 1372.8 446.6 1369.2 444.5C1365.6 442.4 1361.1 440.5 1356.5 439C1352 437.5 1346.9 436.6 1342 435.4C1337.2 434.2 1332.4 433.1 1327.5 431.8C1322.7 430.4 1317.9 428.8 1313 427.3C1308.2 425.7 1303.4 424.4 1298.5 422.7C1293.7 421.1 1288.8 419.1 1284 417.3C1279.2 415.5 1274.3 413.2 1269.5 411.8C1264.7 410.5 1259.8 409.7 1255 409.1C1250.2 408.5 1244.6 406.3 1240.5 408.2C1236.4 410.2 1233.7 417.9 1230.1 420.9Z" fill="#0032E0"/>
<path d="M1231.9 426.3C1229 428.8 1225.6 429.7 1222.9 431.8C1220.2 433.9 1217.4 436 1215.6 439C1213.8 442.1 1212.9 445.7 1212 449.9C1211.1 454.1 1210.8 459.6 1210.2 464.4C1209.6 469.3 1209.3 474.1 1208.4 478.9C1207.5 483.8 1206.3 488.6 1204.7 493.4C1203.2 498.3 1201.1 503.7 1199.3 507.9C1197.5 512.2 1195.7 515.5 1193.9 518.8C1192.1 522.1 1190.5 525.8 1188.4 527.9C1186.3 530 1184.8 530.7 1181.2 531.5C1177.6 532.3 1172.1 532.4 1166.7 532.4C1161.2 532.4 1153.7 531.5 1148.5 531.5C1143.4 531.5 1138.9 531.5 1135.9 532.4C1132.8 533.3 1131.8 534.4 1130.4 536.9C1129.1 539.5 1128.5 544.8 1127.7 547.8C1126.9 550.8 1126 551.4 1125.9 555C1125.7 558.6 1126.2 564.7 1126.8 569.5C1127.4 574.3 1128.3 579.5 1129.5 584C1130.7 588.5 1132.1 592.8 1134 596.7C1136 600.6 1138.9 604.3 1141.3 607.6C1143.7 610.9 1145.8 614.1 1148.5 616.6C1151.3 619.2 1154.6 621.6 1157.6 623C1160.6 624.3 1163.7 624.6 1166.7 624.8C1169.7 624.9 1173.5 625.6 1175.7 623.9C1178 622.2 1178.8 617.8 1180.3 614.8C1181.8 611.8 1182.8 607.6 1184.8 605.8C1186.8 603.9 1189 604.3 1192.1 603.9C1195.1 603.6 1199.3 604.4 1202.9 603.9C1206.6 603.5 1210 602.1 1213.8 601.2C1217.7 600.3 1222.4 597.8 1226 598.5C1229.5 599.3 1231.7 602.7 1235.1 605.8C1238.4 608.8 1242.3 612.7 1245.9 616.6C1249.6 620.6 1253.8 625.1 1256.8 629.3C1259.8 633.6 1262 637.5 1264.1 642C1266.2 646.6 1268 651.7 1269.5 656.5C1271 661.4 1271.6 666.2 1273.1 671C1274.6 675.9 1276.2 681.6 1278.6 685.5C1281 689.5 1284.3 692.5 1287.6 694.6C1291 696.7 1294.9 697.5 1298.5 698.2C1302.1 699 1305.2 699.3 1309.4 699.1C1313.6 699 1319.1 698.4 1323.9 697.3C1328.7 696.3 1333.6 694.7 1338.4 692.8C1343.2 690.8 1348.7 688.2 1352.9 685.5C1357.1 682.8 1360.5 680.1 1363.8 676.5C1367.1 672.8 1370.1 668.3 1372.8 663.8C1375.6 659.2 1377.7 654.1 1380.1 649.3C1382.5 644.4 1384.9 639.6 1387.3 634.8C1389.8 629.9 1392.2 625.1 1394.6 620.3C1397 615.4 1399.9 610.6 1401.9 605.8C1403.8 600.9 1405.5 596.7 1406.4 591.3C1407.3 585.8 1407.3 577.3 1407.3 573.1C1407.3 568.9 1407 568.7 1406.4 565.9C1405.8 563.2 1405 559.9 1403.7 556.9C1402.3 553.9 1400.6 550.5 1398.2 547.8C1395.8 545.1 1392.8 543 1389.2 540.6C1385.5 538.1 1380.7 535.7 1376.5 533.3C1372.2 530.9 1367.4 528.5 1363.8 526.1C1360.2 523.6 1356.7 521.5 1354.7 518.8C1352.8 516.1 1352 512.8 1352 509.7C1352 506.7 1353.1 503.7 1354.7 500.7C1356.4 497.7 1359.6 494.6 1362 491.6C1364.4 488.6 1367.6 485.6 1369.2 482.5C1370.9 479.5 1371.6 476.5 1371.9 473.5C1372.2 470.5 1372.1 467.1 1371 464.4C1370 461.7 1368 459.3 1365.6 457.2C1363.2 455.1 1360.5 453.5 1356.5 451.7C1352.6 449.9 1346.9 448 1342 446.3C1337.2 444.6 1332.4 443.3 1327.5 441.8C1322.7 440.2 1317.9 438.7 1313 437.2C1308.2 435.7 1303.4 434.4 1298.5 432.7C1293.7 431 1288.8 429.1 1284 427.3C1279.2 425.4 1274.3 423.3 1269.5 421.8C1264.7 420.3 1259.8 418.9 1255 418.2C1250.2 417.4 1244.3 415.9 1240.5 417.3C1236.7 418.6 1234.9 423.9 1231.9 426.3Z" fill="#001CB9"/>
<path d="M1235.6 430.9C1233.5 432.6 1230.4 434.7 1228.3 437.2C1226.2 439.8 1224.4 443 1222.9 446.3C1221.4 449.6 1220.5 453.5 1219.3 457.2C1218 460.8 1216.8 463.8 1215.6 468C1214.4 472.3 1213.2 477.7 1212 482.5C1210.8 487.4 1209.6 492.2 1208.4 497.1C1207.2 501.9 1206 506.7 1204.7 511.6C1203.5 516.4 1202.3 521.2 1201.1 526.1C1199.9 530.9 1198.7 535.7 1197.5 540.6C1196.3 545.4 1194.8 552.7 1193.9 555.1C1193 557.5 1192.2 553.5 1192.1 555C1191.9 556.5 1192.1 561 1193 564.1C1193.9 567.1 1195.2 570.3 1197.5 573.1C1199.8 576 1203.2 578.7 1206.6 581.3C1209.9 583.9 1214.2 586.4 1217.4 588.5C1220.7 590.7 1222.4 592 1226 594C1229.5 595.9 1234.5 597.8 1238.7 600.3C1242.9 602.9 1247.5 606.1 1251.4 609.4C1255.3 612.7 1258.9 616.6 1262.3 620.3C1265.6 623.9 1268.9 627.2 1271.3 631.1C1273.7 635.1 1274.9 639.3 1276.8 643.8C1278.6 648.4 1280.4 653.5 1282.2 658.3C1284 663.2 1285.5 668.9 1287.6 672.8C1289.8 676.8 1291.9 679.8 1294.9 681.9C1297.9 684 1301.5 685.1 1305.8 685.5C1310 686 1315.4 685.5 1320.3 684.6C1325.1 683.7 1329.9 682.1 1334.8 680.1C1339.6 678.1 1345.3 675.6 1349.3 672.8C1353.2 670.1 1355.3 667.4 1358.3 663.8C1361.4 660.1 1364.7 655.6 1367.4 651.1C1370.1 646.6 1372.2 641.4 1374.7 636.6C1377.1 631.7 1379.5 626.9 1381.9 622.1C1384.3 617.2 1387.2 612.7 1389.2 607.6C1391.1 602.4 1392.6 597 1393.7 591.3C1394.8 585.5 1395.5 576.7 1395.5 573.1C1395.5 569.5 1394.4 571.7 1393.7 569.6C1392.9 567.5 1392.3 563.5 1391 560.5C1389.6 557.5 1388 554.2 1385.5 551.4C1383.1 548.7 1380.1 546.6 1376.5 544.2C1372.8 541.8 1368 539.4 1363.8 536.9C1359.6 534.5 1354.7 532.4 1351.1 529.7C1347.5 527 1344 523.9 1342 520.6C1340.1 517.3 1339.3 513.4 1339.3 509.7C1339.3 506.1 1340.4 502.2 1342 498.9C1343.7 495.5 1346.9 492.8 1349.3 489.8C1351.7 486.8 1355 483.8 1356.5 480.7C1358 477.7 1358.9 474.5 1358.3 471.7C1357.7 468.8 1355.6 465.9 1352.9 463.5C1350.2 461.1 1346.3 459 1342 457.2C1337.8 455.4 1332.4 454.1 1327.5 452.6C1322.7 451.1 1317.9 449.6 1313 448.1C1308.2 446.6 1303.4 445.2 1298.5 443.6C1293.7 441.9 1288.8 439.9 1284 438.1C1279.2 436.3 1274.3 434.4 1269.5 432.7C1264.7 431 1259.8 429.1 1255 428.2C1250.2 427.2 1243.7 426.4 1240.5 426.9C1237.3 427.3 1237.6 429.2 1235.6 430.9Z" fill="#00008C"/>
</g>
<circle cx="1233.1" cy="563.8" r="17.0" fill="#fff"/>
<use href="#coast" x="1233.0" y="563.6"/>
</g>
<circle cx="1233.0" cy="563.6" r="290.3" fill="none" stroke="#000" stroke-width="1.7"/>
<g clip-path="url(#c3)">
<clipPath id="qnw"><rect x="0" y="0" width="858.0" height="1512.0"/></clipPath>
<g clip-path="url(#qnw)">
<rect x="0" y="0" width="858.0" height="1512.0" fill="#E03200"/>
<path d="M699.4 1315.6 L681.1 1317.4 L670.1 1323.8 L662.8 1331.1 L657.3 1340.3 L652.7 1349.4 L652.4 1350 L648.4 1359.9 L642.5 1369.9 L637.5 1379.8 L634 1389.8 L635.5 1399.7 L638.5 1409.6 L641.5 1419.6 L643.5 1429.5 L645.4 1436.5 L654.4 1445.4 L655.4 1454.4 L654.4 1464.3 L653.4 1474.3 L652.9 1484.2 L653.4 1494.1 L653.4 1504.1 L652.9 1514 L653.4 1520 L653.4 1528.9 L500 1540 L500 1150 L700 1150Z" fill="#FF4F1A"/>
<path d="M699.4 1315.6 L697.6 1323.8 L693.9 1334.8 L686.6 1347.6 L679.3 1360.4 L671.9 1370.5 L680 1379.7 L689.4 1382 L698.7 1386.7 L708.1 1392.6 L717.4 1398.4 L726.8 1405.4 L735 1412.5 L743.2 1417.1 L752.5 1419.5 L761.9 1419.5 L771.2 1418.3 L779.4 1414.8 L787.6 1412.5 L797 1412.5 L800.5 1410.1 L798.6 1432.7 L793.2 1440.8 L785.2 1446.1 L774.4 1451.5 L766.3 1454.2 L762.3 1459.6 L758.9 1467.7 L762.3 1471.7 L767.7 1474.4 L774.4 1478.4 L781.1 1483.8 L787.9 1489.2 L793.2 1494.6 L794.6 1502.7 L791.9 1510.7 L794.6 1516.1 L802.7 1521.5 L812.1 1525.5 L821.5 1528.2 L829.6 1532.3 L837.7 1536.3 L845.7 1541.7 L852.5 1545.7 L858 1548.4 L888.8 1555.2 L900 1100 L700 1100Z" fill="#FF4F1A"/>
<path d="M795.2 1244.6 L785.3 1244 L773.6 1242.9 L761.9 1242.3 L750.2 1243.5 L738.5 1247.5 L726.8 1253.4 L715.1 1261.6 L703.4 1270.9 L691.7 1281.5 L680 1290.8 L672 1300 L664.6 1311 L655.5 1320.1 L648.2 1331.1 L643.6 1342.1 L641.5 1350 L637.5 1359.9 L632.5 1369.9 L627.6 1379.8 L625.1 1389.8 L626.6 1399.7 L629.5 1409.6 L632.5 1419.6 L634.5 1429.5 L636.5 1439.5 L637.5 1449.4 L638.5 1459.3 L639.5 1469.3 L640.5 1479.2 L641.5 1489.2 L642 1499.1 L642.5 1509 L642.5 1520 L642.5 1528.9 L500 1540 L500 1100 L780 1100Z" fill="#FF7840"/>
<path d="M653 1302 L650 1312 L644 1325 L638 1338 L632.5 1350 L628.5 1359.9 L622.6 1369.9 L617.6 1379.8 L615.1 1391.7 L616.6 1401.7 L619.6 1411.6 L622.6 1421.6 L624.6 1431.5 L626.6 1441.5 L627.6 1451.4 L628.5 1461.3 L629 1471.3 L629.5 1481.2 L630 1491.2 L630.5 1501.1 L631 1511 L631.5 1520 L631.5 1528.9 L400 1540 L400 1100Z" fill="#FFAA82"/>
<path d="M589.8 1395.7 L595.7 1399.7 L606.7 1400.2 L609.7 1405.7 L611.6 1414.6 L613.6 1424.6 L615.6 1434.5 L616.6 1444.4 L617.1 1454.4 L617.6 1464.3 L617.6 1474.3 L618.1 1484.2 L618.6 1494.1 L618.6 1504.1 L619.1 1514 L619.1 1520 L619.1 1528.9 L400 1540 L400 1100Z" fill="#FFCCB5"/>
<path d="M630 1332 L628 1336 L622 1342 L616.6 1350 L614.6 1359.9 L611.2 1366.9 L605.7 1371.9 L599.7 1376.3 L560 1380 L560 1300Z" fill="#FFCCB5"/>
<path d="M581.8 1411.1 L590.8 1413.6 L599.7 1417.6 L599.2 1427.5 L599.7 1437.5 L600.7 1447.4 L601.7 1457.4 L602.7 1467.3 L603.7 1477.2 L604.7 1487.2 L605.7 1497.1 L606.2 1507.1 L606.7 1520 L606.7 1528.9 L400 1540 L400 1100Z" fill="#FFE8D6"/>
<path d="M567.9 1459.3 L577.9 1465.3 L585.8 1469.3 L586.8 1479.2 L587.8 1489.2 L588.8 1499.1 L589.8 1509 L590.3 1520 L590.3 1528.9 L400 1540 L400 1100Z" fill="#D6EBFF"/>
<path d="M795.2 1244.6 L785.3 1247.5 L773.6 1252.2 L761.9 1256.9 L750.2 1263.9 L740.8 1272.1 L732.6 1280.3 L725.6 1289.6 L722.7 1299 L719.8 1308.4 L715.1 1317.7 L710.4 1327.1 L706.3 1335.3 L702.2 1342.3 L695.2 1351.6 L687 1361 L682.3 1366.8 L691.7 1371.5 L701.1 1377.4 L710.4 1383.2 L719.8 1390.2 L726.8 1396.1 L733.8 1403.1 L740.8 1410.1 L750.2 1412.5 L761.9 1411.3 L773.6 1408.9 L785.3 1403.1 L792.3 1396.1 L797 1391.4 L801.6 1393.7 L805.1 1389.1 L811 1396.1 L814.5 1385.6 L819.2 1376.2 L823.9 1368 L830.9 1364.5 L841.4 1366.8 L849.6 1370.4 L855.4 1365.7 L862.5 1361 L873 1362.2 L880 1364.5 L902.2 1364.5 L902.2 1136.4 L795.2 1136.4Z" fill="#FF7840"/>
<path d="M773.6 1230 L785.3 1231.8 L797 1232.9 L808.7 1234.1 L820.4 1234.7 L832 1235.3 L843.7 1235.8 L853.1 1237 L843.7 1239.9 L832 1242.9 L820.4 1246.4 L808.7 1249.9 L797 1253.4 L785.3 1257.5 L773.6 1262.7 L761.9 1268.6 L752.5 1275.6 L745.5 1282.6 L740.8 1290.8 L736.1 1299 L731.5 1308.4 L725.6 1317.7 L719.8 1325.9 L713.9 1334.1 L708.1 1341.1 L703.4 1347 L696.4 1355.1 L689.4 1362.2 L683.5 1366.8 L692.9 1373.9 L703.4 1379.7 L713.9 1386.7 L723.3 1393.7 L731.5 1400.8 L740.8 1405.4 L750.2 1407.8 L761.9 1406.6 L773.6 1404.3 L782.9 1398.4 L789.9 1392.6 L794.6 1386.7 L799.3 1387.9 L804 1391.4 L806.3 1386.7 L808.7 1377.4 L815.7 1368 L823.9 1359.8 L825.6 1355.1 L834.4 1358.7 L843.7 1355.1 L853.1 1357.5 L862.5 1352.8 L880 1348.1 L902.2 1347 L902.2 1136.4 L773.6 1136.4Z" fill="#FFAA82"/>
<path d="M867.1 1262.2 L855.4 1259.2 L843.7 1257.5 L829.7 1258.1 L818 1261.6 L806.3 1266.3 L794.6 1270.9 L782.9 1276.8 L771.2 1283.2 L761.9 1289.1 L752.5 1296.7 L745.5 1304.9 L738.5 1313 L731.5 1321.2 L724.4 1328.2 L715.1 1335.3 L708.1 1341.1 L704.3 1345.2 L705.1 1354 L709.2 1362.2 L715.1 1369.2 L722.1 1376.2 L730.3 1383.2 L738.5 1387.9 L746.7 1392 L756 1393.2 L767.7 1387.9 L779.4 1383.2 L792.3 1379.1 L798.1 1381.5 L804 1385.6 L806.9 1380.9 L808.1 1373.9 L808.7 1364.5 L813.3 1359.8 L820.4 1356.3 L827.4 1352.8 L837.9 1350.5 L849.6 1349.3 L861.3 1348.1 L880 1347 L902.2 1347 L902.2 1290.8 L871.8 1288.5 L861.3 1285 L862.5 1279.1 L864.8 1272.1Z" fill="#FFCCB5"/>
<path d="M902.2 1299 L867.1 1296.7 L855.4 1293.7 L843.7 1292.6 L832 1293.2 L820.4 1294.9 L808.7 1297.3 L797 1299 L785.3 1300.2 L773.6 1301.9 L764.2 1304.9 L759.5 1309.5 L756 1316.5 L754.3 1323.6 L756 1331.8 L759.5 1338.8 L764.2 1345.8 L771.2 1352.8 L778.2 1359.8 L784.1 1366.8 L787.6 1372.1 L794.6 1366.8 L801.6 1361 L807.5 1356.3 L813.3 1352.8 L819.2 1350.5 L823.9 1348.1 L832 1347 L843.7 1345.8 L855.4 1344 L867.1 1342.3 L902.2 1341.1Z" fill="#FFE8D6"/>
<path d="M902.2 1308.4 L867.1 1307.2 L855.4 1306.6 L843.7 1307.8 L832 1310.7 L820.4 1314.2 L808.7 1317.1 L797 1318.9 L785.3 1320.6 L779.4 1323.6 L780.6 1331.8 L782.3 1339.9 L784.1 1347 L789.9 1351.1 L797 1350.5 L804 1348.1 L812.2 1344.6 L820.4 1342.3 L832 1340.5 L843.7 1339.4 L855.4 1338.2 L867.1 1337 L902.2 1337.6Z" fill="#D6EBFF"/>
<path d="M840.2 1333.5 L847.3 1330 L854.3 1327.1 L862.5 1329.4 L874.2 1333.5 L855.4 1334.1Z" fill="#B5CCFF"/>
<path d="M843 1395 L851.1 1388.9 L861.9 1388.3 L872.7 1393.6 L880.7 1401.7 L875.3 1407.1 L864.6 1410.5 L853.8 1409.8 L845.7 1404.4Z" fill="#E03200"/>
<path d="M808 1400.4 L813.4 1393.6 L821.5 1400.4 L820.2 1411.1 L814.8 1421.9 L810.7 1413.8Z" fill="#FF7840"/>
<path d="M760.3 1467.7 L766.3 1471.7 L773.1 1477.1 L779.8 1481.8 L786.5 1487.2 L793.2 1492.6 L800 1498.6 L804 1505.4 L808 1512.1 L814.8 1517.5 L822.9 1521.5 L830.9 1524.9 L839 1528.2 L848.4 1532.3 L858 1535.6 L888.8 1541.7 L888.8 1439.4 L880.7 1435.4 L870 1432 L859.2 1430 L848.4 1430 L839 1432 L829.6 1435.4 L821.5 1437.4 L813.4 1435.4 L805.4 1433.4 L798.6 1432.7 L793.2 1440.8 L785.2 1446.1 L774.4 1451.5 L766.3 1454.2 L762.3 1459.6Z" fill="#FF7840"/>
<path d="M759.6 1446.1 L767.7 1440.8 L777.1 1436.7 L785.2 1433.4 L792.6 1435.4 L800 1435.4 L808 1438.1 L814.8 1440.8 L818.8 1435.4 L825.5 1430 L835 1427.3 L845.7 1425.9 L856.5 1425.9 L867.3 1427.3 L888.8 1430 L888.8 1535 L848.4 1530.9 L839 1525.5 L830.9 1521.5 L821.5 1518.8 L813.4 1513.4 L808 1506.7 L802.7 1500 L794.6 1493.2 L786.5 1487.9 L778.4 1482.5 L771.7 1475.7 L766.3 1467.7 L762.3 1458.3Z" fill="#FFAA82"/>
<path d="M763.6 1447.5 L774.4 1442.1 L785.2 1437.4 L794.6 1439.4 L802.7 1440.8 L810.7 1444.1 L816.1 1448.8 L821.5 1446.1 L826.9 1442.8 L833.6 1438.1 L841.7 1435.4 L851.1 1434 L861.9 1433.4 L888.8 1433.4 L888.8 1508 L841 1499.3 L837.7 1492.6 L828.2 1493.2 L818.8 1494.6 L809.4 1495.9 L802.7 1490.6 L794.6 1485.2 L786.5 1479.8 L778.4 1474.4 L771.7 1466.3 L766.3 1456.9Z" fill="#FFCCB5"/>
<path d="M775.7 1452.9 L781.1 1447.5 L789.2 1444.8 L797.3 1446.1 L801.3 1451.5 L802.7 1460.9 L802.7 1470.4 L798.6 1474.4 L789.2 1471.7 L781.1 1466.3 L777.1 1459.6Z" fill="#FFE8D6"/>
<path d="M824.2 1452.9 L829.6 1446.1 L837.7 1442.1 L848.4 1439.4 L859.2 1438.1 L870 1439.4 L876.7 1444.8 L880.7 1454.2 L880.7 1467.7 L878 1477.1 L870 1481.1 L859.2 1483.8 L848.4 1484.5 L835 1483.8 L825.5 1481.1 L822.9 1474.4 L823.5 1465Z" fill="#FFE8D6"/>
<path d="M783.1 1456.9 L789.2 1452.9 L794.6 1451.5 L794.6 1459.6 L792.6 1465 L785.2 1464.3Z" fill="#D6EBFF"/>
<path d="M835.6 1451.5 L848.4 1447.5 L861.9 1445.5 L871.3 1447.5 L870 1456.9 L867.3 1466.3 L864.6 1473.1 L848.4 1475.1 L837.7 1474.4 L836.3 1463.6Z" fill="#D6EBFF"/>
<path d="M670.1 1464.7 L681.1 1461 L692.1 1464.7 L699.4 1472 L708.5 1483 L715.9 1492.1 L717.7 1501.3 L716.8 1515.9 L714 1528.7 L710.4 1537.9 L704.9 1545.2 L699.4 1543.4 L693.9 1534.2 L688.4 1523.3 L681.1 1512.3 L671.9 1505 L664.6 1495.8 L661.9 1484.8 L662.8 1473.8Z" fill="#FF4F1A"/>
<path d="M706.7 1439.1 L717.7 1440.9 L728.7 1444.6 L739.7 1450.1 L748.8 1455.5 L754.3 1461 L747 1461 L736 1457.4 L725 1452.8 L714 1448.2 L706.7 1444.6Z" fill="#FF4F1A"/>
<path d="M708.5 1440.9 L717.7 1442.7 L726.8 1446.4 L736 1451.9 L728.7 1451 L717.7 1446.4 L710.4 1443.7Z" fill="#FF7840"/>
<path d="M731.3 1433.4 L740.8 1432 L748.8 1435.4 L746.1 1442.1 L738.1 1439.4Z" fill="#B91C00"/>
<path d="M748.8 1492.6 L759.6 1489.9 L774.4 1492.6 L774.4 1502.7 L770.4 1508 L762.3 1504 L754.2 1498.6Z" fill="#B91C00"/>
</g>
<clipPath id="qsw"><rect x="0" y="1512.0" width="858.0" height="510.0"/></clipPath>
<g clip-path="url(#qsw)">
<rect x="0" y="1512.0" width="858.0" height="510.0" fill="#E03200"/>
<path d="M652.9 1490.1 L652.9 1500 L653.4 1508 L655.4 1517.9 L658.4 1525.8 L662.3 1533.8 L665.3 1541.7 L667.3 1549.7 L668.3 1557.7 L668.8 1565.6 L669.3 1573.6 L670.3 1581.5 L672.3 1589.5 L674.3 1597.4 L677.3 1605.4 L681.2 1612.3 L686.2 1618.3 L690.2 1624.3 L694.2 1630.2 L699.1 1636.2 L704.1 1642.1 L709.1 1648.1 L714 1654.1 L719 1659 L723 1663 L724.4 1663.9 L729.3 1669.8 L734.3 1676.8 L738.3 1683.7 L742.3 1690.7 L746.2 1697.7 L750.2 1703.6 L754.2 1708.6 L759.2 1711.6 L765.1 1713.6 L770.1 1714.8 L773.1 1709.6 L777.1 1701.6 L780 1693.7 L779 1685.7 L777.1 1677.8 L775.1 1669.8 L773.6 1662.9 L769.1 1655.9 L764.1 1648.9 L759.2 1643 L757.2 1640 L752.4 1630.5 L743.4 1619.7 L734.3 1612.4 L727 1604.2 L723 1594.4 L719 1589.5 L714 1582.5 L710.1 1575.5 L707.1 1567.6 L705.1 1559.6 L704.6 1551.7 L716.2 1552.6 L734.3 1556.2 L739.7 1565.3 L741.5 1578 L752.4 1579.8 L765.1 1577 L767.8 1590.6 L776 1597.9 L792.3 1602.4 L806.8 1603.3 L817.7 1604.2 L818.6 1594.3 L815.9 1581.6 L814.1 1570.7 L824.9 1567.1 L832.2 1552.6 L834.9 1540.8 L843.1 1544.4 L852.1 1554.4 L863 1560.7 L897.5 1561.6 L897.5 1862.6 L498.6 1862.6 L498.6 1481.9Z" fill="#FF4F1A"/>
<path d="M669.3 1490.1 L669.3 1500 L676.3 1503 L683.2 1507 L688.2 1512.9 L692.2 1519.9 L697.1 1527.8 L702.1 1535.8 L704.6 1543.7 L710.7 1542.6 L721.6 1536.3 L729.8 1527.2 L731.6 1514.5 L729.9 1500 L729.9 1489.1Z" fill="#FF4F1A"/>
<path d="M641.5 1490.1 L641.5 1500 L642.5 1509.9 L644.5 1519.9 L646.9 1529.8 L649.4 1539.8 L651.9 1547.7 L654.4 1555.7 L656.4 1564.6 L658.4 1573.6 L660.9 1582.5 L663.3 1591.5 L665.3 1599.4 L667.3 1607.4 L670.3 1615.3 L674.3 1622.3 L679.2 1629.2 L683.2 1636.2 L689.6 1646 L694.6 1650.9 L699.5 1654.9 L704.5 1658.9 L709.5 1662.9 L714.4 1666.8 L719.4 1670.8 L724.4 1675.8 L728.3 1681.7 L732.3 1687.7 L736.3 1693.7 L740.3 1699.6 L744.3 1705.6 L748.2 1710.6 L753.2 1715.5 L758.2 1719.5 L764.1 1722.5 L771.1 1724 L778.1 1724.5 L784 1724 L790 1723.5 L795 1722.6 L795.9 1713.9 L795 1703 L792.3 1692.2 L788.7 1681.3 L785.1 1670.4 L781.4 1659.5 L776 1648.7 L770.5 1637.8 L766 1626.9 L764.2 1616 L765.1 1609.7 L779.6 1608.8 L794.1 1609.7 L810.4 1610.9 L821.3 1608.8 L825.8 1604.6 L826.6 1597.5 L824 1585.2 L821.7 1573.8 L828.6 1567.1 L834 1556.2 L841.6 1545.9 L848.5 1549.9 L855.8 1558 L863 1563.5 L897.5 1563.5 L897.5 1862.6 L498.6 1862.6 L498.6 1481.9Z" fill="#FF7840"/>
<path d="M716.2 1571.6 L727 1566.2 L739.7 1572.5 L742.4 1581.6 L752.4 1580.7 L761.5 1578 L759.7 1587 L752.4 1594.3 L741.5 1598.8 L734.3 1603.3 L727 1596.1 L721.6 1585.2Z" fill="#FF7840"/>
<path d="M630.5 1490.1 L630.5 1500 L631.5 1509.9 L633 1519.9 L635 1529.8 L637.5 1539.8 L640 1549.7 L642 1557.7 L644 1566.6 L646.9 1575.5 L649.9 1583.5 L652.4 1591.5 L654.4 1599.4 L656.4 1607.4 L658.4 1615.3 L660.4 1622.3 L663.3 1629.2 L667.3 1636.2 L671.7 1648 L675.7 1654.9 L679.6 1660.9 L683.6 1664.9 L688.6 1668.8 L693.6 1671.8 L699.5 1673.8 L705.5 1675.3 L709.5 1677.8 L713.4 1681.7 L717.4 1686.7 L721.4 1692.7 L725.4 1698.6 L729.3 1704.6 L733.3 1710.6 L737.3 1716.5 L742.3 1721.5 L747.2 1725.5 L753.2 1728.5 L759.2 1730 L766.1 1731 L773.1 1731.5 L781 1731.5 L790 1731.9 L806.8 1732.1 L821.3 1733.9 L835.8 1735.7 L850.3 1737.5 L863 1739.3 L897.5 1739.3 L897.5 1862.6 L498.6 1862.6 L498.6 1481.9Z" fill="#FFAA82"/>
<path d="M618.6 1490.1 L618.6 1500 L619.6 1509.9 L621.1 1519.9 L622.6 1529.8 L624.1 1539.8 L625.6 1549.7 L627.1 1559.6 L629 1568.6 L632.5 1576.5 L636.5 1584.5 L640 1592.4 L642.5 1599.4 L644 1606.4 L645.4 1613.3 L646.4 1620.3 L647.4 1627.2 L648.9 1634.2 L651.4 1641.2 L662.7 1667.8 L664.7 1675.8 L666.2 1683.7 L667.7 1690.7 L669.2 1695.7 L675.7 1697.2 L683.6 1698.2 L691.6 1699.1 L699.5 1700.1 L706.5 1700.6 L712.4 1702.1 L717.4 1707.6 L722.4 1713.6 L727.4 1719.5 L732.3 1724.5 L737.3 1729.5 L742.3 1732.9 L748.2 1735.4 L755.2 1736.9 L763.1 1737.9 L771.1 1738.4 L779 1739.4 L790 1740.4 L806.8 1739.3 L821.3 1741.1 L835.8 1742.9 L850.3 1744.7 L863 1746.6 L897.5 1746.6 L897.5 1862.6 L498.6 1862.6 L498.6 1481.9Z" fill="#FFCCB5"/>
<path d="M607.2 1490.1 L607.2 1500 L607.7 1509.9 L608.7 1519.9 L609.7 1529.8 L609.2 1539.8 L608.7 1549.7 L609.2 1557.7 L611.6 1568.6 L615.6 1575.5 L620.6 1582.5 L625.6 1589.5 L630 1596.4 L633.5 1602.4 L635 1609.3 L635.5 1615.3 L634.5 1622.3 L634 1628.2 L635.5 1635.2 L637.5 1642.1 L640.5 1649.1 L644.5 1657.1 L647.4 1664 L649.8 1671.8 L650.8 1681.7 L651.8 1691.7 L653.3 1699.6 L654.8 1707.6 L659.8 1710.6 L667.7 1713.6 L675.7 1715.5 L683.6 1716.5 L691.6 1718.5 L698.5 1721.5 L704.5 1726.5 L710.5 1731.5 L716.4 1735.9 L723.4 1739.4 L731.3 1742.4 L739.3 1744.9 L747.2 1746.9 L755.2 1747.9 L763.1 1748.3 L771.1 1748.8 L779 1749.8 L790 1750.3 L806.8 1751.1 L824.9 1752 L843.1 1753.8 L863 1755.6 L897.5 1755.6 L897.5 1862.6 L498.6 1862.6 L498.6 1481.9Z" fill="#FFE8D6"/>
<path d="M590.8 1490.1 L590.8 1500 L591.3 1509.9 L592.8 1519.9 L592.8 1529.8 L592.3 1539.8 L591.8 1549.7 L592.3 1559.6 L594.7 1567.6 L599.7 1575.5 L605.7 1583.5 L611.6 1591.5 L616.6 1598.4 L621.6 1605.4 L622.1 1612.3 L621.6 1619.3 L620.1 1627.2 L619.6 1635.2 L622.6 1642.1 L626.6 1649.1 L631.5 1656.1 L634.5 1663 L637.5 1670 L638.4 1669.8 L639.4 1679.8 L639.9 1689.7 L640.4 1698.6 L634.9 1709.6 L321.8 1709.6 L321.8 1490.9Z" fill="#D6EBFF"/>
<path d="M663.7 1727.5 L667.7 1729 L674.7 1729.5 L681.6 1733.4 L689.6 1739.4 L697.5 1745.4 L704.5 1751.3 L711.5 1757.3 L719.4 1762.3 L727.4 1764.3 L735.3 1764.3 L744.3 1761.8 L753.2 1760.3 L762.1 1760.3 L771.1 1760.8 L781 1761.8 L790 1762.8 L806.8 1762 L824.9 1762 L843.1 1762.9 L863 1764.7 L897.5 1764.7 L897.5 1862.6 L553 1862.6Z" fill="#D6EBFF"/>
<path d="M570.9 1578.5 L575.4 1581 L582.8 1584.5 L590.8 1589.5 L597.7 1595.4 L602.7 1602.4 L607.2 1612.3 L604.7 1621.3 L601.7 1629.2 L597.7 1639.2 L592.8 1644.1 L553 1639.2 L553 1569.6Z" fill="#B5CCFF"/>
<path d="M602.7 1655.1 L606.7 1657.1 L612.6 1661 L621.6 1667 L623 1672.8 L626 1683.7 L622 1691.7 L600.1 1679.8Z" fill="#B5CCFF"/>
<path d="M766.9 1793.7 L773.3 1786.4 L781.4 1781 L792.3 1773.7 L806.8 1771.9 L821.3 1771.9 L835.8 1773.7 L850.3 1779.2 L863 1785.5 L897.5 1790.1 L897.5 1844.5 L752.4 1844.5Z" fill="#B5CCFF"/>
<path d="M805 1800.9 L808.6 1793.7 L815.9 1790.1 L828.6 1791 L833.1 1797.3 L835.8 1808.2 L806.8 1808.2Z" fill="#82AAFF"/>
<path d="M791.9 1508 L794.6 1516.1 L802.7 1521.5 L812.1 1525.5 L821.5 1528.2 L829.6 1532.3 L837.7 1536.3 L845.7 1541.7 L852.5 1546.4 L856.5 1552.5 L860.5 1559.2 L864.6 1564.6 L875.3 1575.3 L888.8 1590.1 L902.3 1590.1 L902.3 1494.6 L791.9 1494.6Z" fill="#FF4F1A"/>
<path d="M800 1498.6 L804 1505.4 L808 1512.1 L814.8 1517.5 L822.9 1521.5 L830.9 1524.9 L839 1528.2 L848.4 1532.3 L858 1535.6 L864.6 1540.3 L870 1547.1 L874 1553.8 L878 1561.9 L882.1 1570 L887.5 1580.7 L890.1 1588.8 L902.3 1588.8 L902.3 1494.6 L800 1494.6Z" fill="#FF7840"/>
<path d="M808 1506.7 L813.4 1513.4 L821.5 1518.8 L830.9 1521.5 L839 1525.5 L848.4 1530.9 L857.8 1533.6 L865.9 1537.7 L872.7 1544.4 L876.7 1552.5 L880.7 1560.5 L884.8 1568.6 L890.1 1578 L902.3 1578 L902.3 1494.6 L808 1494.6Z" fill="#FFAA82"/>
<path d="M840.3 1512 L845.7 1522.9 L853.8 1528.2 L861.9 1532.3 L870 1537.7 L875.3 1544.4 L879.4 1552.5 L883.4 1560.5 L887.5 1568.6 L890.1 1574 L902.3 1574 L902.3 1494.6 L840.3 1494.6Z" fill="#FFCCB5"/>
<path d="M855.2 1525.5 L864.6 1528.2 L872.7 1533.6 L878 1540.3 L882.1 1548.4 L886.1 1556.5 L890.1 1563.2 L902.3 1563.2 L902.3 1508 L855.2 1508Z" fill="#FFE8D6"/>
<path d="M845.5 1552.9 L841.6 1556.9 L837.6 1560.9 L833.6 1564.9 L829.6 1568.8 L827.7 1572.8 L826.7 1579.8 L827.7 1586.7 L829.6 1595.7 L828.6 1603.6 L825.7 1609.6 L821.7 1613.6 L811.7 1615.5 L799.8 1615.5 L789.9 1616.5 L780.9 1618.5 L778.9 1624.5 L778.4 1634.4 L780.9 1641.4 L785.9 1647.4 L791.9 1654.3 L798.8 1662.3 L804.8 1669.2 L811.7 1675.2 L819.7 1679.2 L827.7 1682.1 L835.6 1684.1 L843.6 1686.1 L851.5 1689.1 L859.5 1692.1 L869.4 1695.1 L869.4 1554.9 L858 1558.9 L851.5 1554.9Z" fill="#FFAA82"/>
<path d="M833.6 1572.8 L837.6 1568.8 L843.6 1566.8 L849.5 1568.3 L855.5 1571.8 L861.5 1576.3 L866.4 1581.3 L870.4 1586.2 L873.4 1591.2 L874.4 1596.7 L872.4 1600.6 L868.4 1604.1 L862.4 1606.6 L855.5 1607.6 L847.5 1606.6 L839.6 1604.6 L833.6 1601.6 L830.6 1595.7 L829.6 1587.7 L830.6 1579.8Z" fill="#FFCCB5"/>
<path d="M834.6 1583.7 L838.6 1579.8 L845.5 1578.3 L852.5 1579.3 L858.5 1581.7 L863.4 1585.2 L867.4 1589.2 L869.9 1593.7 L869.4 1597.7 L864.4 1600.6 L857.5 1602.1 L849.5 1601.6 L841.6 1600.6 L836.6 1596.7 L833.6 1590.7Z" fill="#FFE8D6"/>
<path d="M837.6 1589.7 L841.6 1585.7 L849.5 1584.2 L856.5 1585.7 L862.4 1588.7 L866.4 1592.2 L866.9 1595.2 L862.4 1597.7 L855.5 1599.1 L848.5 1598.6 L841.6 1595.7Z" fill="#D6EBFF"/>
<path d="M842.6 1592.2 L847.5 1589.2 L854.5 1588.2 L860.5 1590.2 L863.9 1593.2 L860.5 1595.7 L853.5 1597.2 L846.5 1595.7Z" fill="#B5CCFF"/>
<path d="M847.5 1593.2 L853.5 1591.2 L859.5 1591.7 L862.4 1593.7 L857.5 1595.2 L851.5 1595.2Z" fill="#82AAFF"/>
<path d="M799.8 1627.5 L802.8 1625.5 L809.8 1624.5 L819.7 1623.5 L829.6 1624.5 L839.6 1626.5 L849.5 1627.5 L869.4 1626.5 L869.4 1678.2 L858 1674.2 L849.5 1671.2 L841.6 1668.2 L833.6 1664.3 L826.7 1659.3 L819.7 1653.3 L812.7 1647.4 L806.8 1641.4 L801.8 1634.4Z" fill="#FFCCB5"/>
<path d="M823.7 1634.4 L831.6 1632.4 L841.6 1631.9 L851.5 1632.4 L869.4 1633.4 L869.4 1672.2 L859.5 1669.2 L851.5 1665.2 L843.6 1659.3 L835.6 1651.3 L828.6 1642.4Z" fill="#FFE8D6"/>
<path d="M838.6 1638.4 L847.5 1637.4 L857.5 1636.9 L865.4 1638.4 L863.4 1647.4 L861.5 1653.3 L855.5 1654.8 L849.5 1649.3 L843.6 1643.4Z" fill="#D6EBFF"/>
<path d="M836.6 1614.1 L842.6 1610.6 L849.5 1609.6 L857.5 1610.1 L865.4 1611.6 L869.4 1615.5 L865.4 1619.5 L857.5 1624.5 L851.5 1625.5 L845.5 1622.5 L840.6 1618.5Z" fill="#FF7840"/>
<path d="M843.6 1615 L849.5 1612.1 L855.5 1611.6 L861.5 1614.1 L859.5 1618.5 L854.5 1621 L848.5 1619.5Z" fill="#FF4F1A"/>
<path d="M777.8 1541.7 L786.9 1537.2 L797.7 1533.5 L805 1541.7 L799.6 1552.6 L798.6 1563.5 L803.2 1574.3 L795.9 1572.5 L786.9 1561.6 L782.3 1550.8Z" fill="#B91C00"/>
<path d="M748.8 1492.6 L759.6 1489.9 L774.4 1492.6 L774.4 1502.7 L770.4 1508 L762.3 1504 L754.2 1498.6Z" fill="#B91C00"/>
<path d="M808.6 1703 L821.3 1696.7 L835.8 1694 L850.3 1694.9 L897.5 1696.7 L897.5 1735.7 L850.3 1733.9 L835.8 1730.2 L823.1 1723 L814.1 1713.9Z" fill="#FF4F1A"/>
<path d="M824.9 1706.7 L835.8 1702.1 L850.3 1701.2 L897.5 1703 L897.5 1730.2 L861.2 1729.3 L846.7 1723 L834 1715.7Z" fill="#E03200"/>
</g>
<clipPath id="qne"><rect x="858.0" y="0" width="852.0" height="1512.0"/></clipPath>
<g clip-path="url(#qne)">
<rect x="858.0" y="0" width="852.0" height="1512.0" fill="#FFAA82"/>
<path d="M955 1237.2 L960.4 1246.3 L965.8 1257.1 L971.3 1269.8 L978.5 1282.5 L989.4 1291.6 L1000.3 1298.8 L1011.2 1304.3 L1022 1311.5 L1032.9 1318.8 L1045.6 1327.8 L1056.5 1336.9 L1067.4 1346 L1078.2 1355 L1089.1 1365.9 L1098.2 1376.8 L1105.4 1389.5 L1114.5 1400.4 L1121.7 1409.4 L1130.8 1418.5 L1138.1 1427.5 L1142.6 1438.4 L1156.2 1445.7 L1192.5 1391.3 L1119.9 1246.3 L974.9 1191.9Z" fill="#FFCCB5"/>
<path d="M982.2 1249.9 L983.1 1264.4 L987.6 1277.1 L996.7 1286.1 L1007.5 1293.4 L1020.2 1298.8 L1032.9 1306.1 L1043.8 1313.3 L1054.7 1322.4 L1065.5 1333.3 L1074.6 1342.3 L1081.9 1347.8 L1101.8 1347.8 L1119.9 1300.6 L1029.3 1228.1Z" fill="#FFE8D6"/>
<path d="M1007.5 1266.2 L1005.7 1280.7 L1014.8 1289.8 L1025.7 1297 L1036.5 1293.4 L1047.4 1295.2 L1083.7 1300.6 L1047.4 1246.3Z" fill="#D6EBFF"/>
<path d="M1065.5 1313.3 L1072.8 1322.4 L1081.9 1333.3 L1101.8 1336.9 L1083.7 1300.6Z" fill="#D6EBFF"/>
<path d="M829.9 1258.9 L848 1258.9 L866.1 1261.7 L860.7 1284.3 L875.2 1288 L889.7 1291.6 L904.2 1297 L915.1 1304.3 L924.1 1313.3 L933.2 1322.4 L942.3 1329.7 L953.1 1335.1 L964 1340.5 L974.9 1347.8 L985.8 1355 L998.5 1364.1 L1007.5 1371.3 L1022 1373.2 L1036.5 1371.3 L1040.2 1376.8 L1043.8 1387.7 L1047.4 1398.5 L1052.9 1409.4 L1060.1 1422.1 L1065.5 1433 L1071 1443.9 L1078.2 1452.9 L1081.9 1463.8 L1078.2 1472.9 L1071 1471.1 L1061.9 1478.3 L1054.7 1481.9 L1063.7 1492.8 L1071 1503.7 L1078.2 1514.6 L1081.9 1520 L1081.9 1536.3 L1047.4 1536.3 L1045.6 1500.1 L1036.5 1481.9 L1022 1471.1 L1011.2 1458.4 L1022 1445.7 L1018.4 1427.5 L1014.8 1409.4 L1016.6 1394.9 L1007.5 1386.8 L991.2 1378.6 L974.9 1376.8 L956.8 1381.3 L955 1369.5 L949.5 1364.1 L935 1362.3 L920.5 1360.5 L907.8 1355 L893.3 1350.5 L875.2 1348.7 L858.9 1353.2 L848 1349.6 L829.9 1349.6Z" fill="#FFCCB5"/>
<path d="M829.9 1300.6 L848 1300.6 L862.5 1298.8 L877 1300.6 L891.5 1304.3 L902.4 1309.7 L911.5 1317 L920.5 1326 L927.8 1335.1 L938.6 1342.3 L949.5 1346 L960.4 1349.6 L971.3 1355 L978.5 1360.5 L973.1 1367.7 L964 1373.2 L955 1367.7 L949.5 1362.3 L935 1358.7 L920.5 1355 L907.8 1351.4 L893.3 1347.8 L875.2 1346 L858.9 1349.6 L848 1346.9 L829.9 1346.9Z" fill="#FFE8D6"/>
<path d="M1022 1393.1 L1029.3 1398.5 L1032.9 1409.4 L1038.4 1420.3 L1045.6 1431.2 L1052.9 1440.2 L1061.9 1451.1 L1063.7 1463.8 L1056.5 1472.9 L1047.4 1467.4 L1036.5 1460.2 L1029.3 1449.3 L1027.5 1436.6 L1023.9 1418.5 L1020.2 1402.2Z" fill="#FFE8D6"/>
<path d="M829.9 1307.9 L848 1307.9 L866.1 1307 L884.3 1308.8 L898.8 1313.3 L909.6 1322.4 L918.7 1333.3 L926 1344.2 L927.8 1349.6 L916.9 1348.7 L902.4 1345.1 L884.3 1341.4 L866.1 1343.2 L848 1345.1 L829.9 1345.1Z" fill="#D6EBFF"/>
<path d="M945.9 1360.5 L958.6 1353.2 L958.6 1364.1 L952.2 1369.5Z" fill="#D6EBFF"/>
<path d="M848 1329.7 L855.3 1326.9 L866.1 1329.7 L873.4 1333.3 L858.9 1334.2 L848 1335.1Z" fill="#B5CCFF"/>
<path d="M896.9 1336.9 L904.2 1337.8 L909.6 1341.4 L902.4 1340.5Z" fill="#B5CCFF"/>
<path d="M1068.3 1478.3 L1074.6 1472.9 L1081.9 1481.9 L1085.5 1496.4 L1083.7 1510.9 L1078.2 1520 L1072.8 1509.1 L1068.3 1492.8Z" fill="#FFE8D6"/>
<path d="M875.2 1373.2 L884.3 1365.9 L898.8 1364.1 L913.3 1367.7 L927.8 1369.5 L942.3 1371.3 L956.8 1382.2 L964 1389.5 L962.2 1398.5 L949.5 1402.2 L935 1404 L920.5 1402.2 L906 1396.7 L893.3 1389.5 L882.4 1382.2Z" fill="#FFCCB5"/>
<path d="M893.3 1382.2 L902.4 1376.8 L913.3 1378.6 L922.3 1380.4 L920.5 1389.5 L913.3 1394.9 L902.4 1391.3Z" fill="#FFE8D6"/>
<path d="M926 1373.2 L938.6 1373.2 L951.3 1376.8 L960.4 1384 L956.8 1389.5 L942.3 1388.6 L927.8 1389.5Z" fill="#FFE8D6"/>
<path d="M929.6 1449.3 L935 1436.6 L944.1 1423.9 L956.8 1414.9 L971.3 1411.2 L985.8 1413 L998.5 1420.3 L1011.2 1427.5 L1020.2 1438.4 L1029.3 1436.6 L1022 1447.5 L1011.2 1452.9 L1005.7 1463.8 L1000.3 1474.7 L989.4 1481.9 L974.9 1485.6 L960.4 1483.7 L945.9 1476.5 L935 1463.8Z" fill="#FFCCB5"/>
<path d="M935 1449.3 L940.5 1438.4 L949.5 1427.5 L960.4 1420.3 L973.1 1416.7 L984 1418.5 L996.7 1425.7 L1007.5 1433 L1018.4 1440.2 L1009.3 1449.3 L1002.1 1460.2 L994.8 1471.1 L984 1478.3 L971.3 1480.1 L958.6 1478.3 L947.7 1471.1 L938.6 1460.2Z" fill="#FFE8D6"/>
<path d="M940.5 1449.3 L945.9 1440.2 L955 1431.2 L965.8 1424.8 L976.7 1422.1 L985.8 1423.9 L994.8 1431.2 L1003.9 1436.6 L1022 1436.6 L1011.2 1445.7 L1000.3 1452.9 L994.8 1463.8 L985.8 1472.9 L973.1 1476.5 L960.4 1473.8 L951.3 1467.4 L944.1 1458.4Z" fill="#D6EBFF"/>
<path d="M945.9 1451.1 L953.1 1440.2 L964 1431.2 L974.9 1426.6 L985.8 1427.5 L991.2 1436.6 L1000.3 1440.2 L1018.4 1441.1 L1007.5 1447.5 L996.7 1452.9 L991.2 1462 L982.2 1469.2 L971.3 1472 L960.4 1467.4 L951.3 1460.2Z" fill="#B5CCFF"/>
<path d="M959.5 1445.7 L964 1436.6 L974.9 1432.1 L985.8 1430.3 L990.3 1438.4 L987.6 1445.7 L993 1451.1 L984 1460.2 L974.9 1465.6 L965.8 1462 L961.3 1454.7Z" fill="#82AAFF"/>
<path d="M829.9 1425.7 L848 1425.7 L858.9 1429.4 L869.8 1436.6 L880.6 1442.1 L889.7 1452.9 L891.5 1463.8 L887.9 1474.7 L880.6 1481.9 L866.1 1485.6 L848 1489.2 L829.9 1489.2Z" fill="#FFCCB5"/>
<path d="M829.9 1433 L848 1433 L858.9 1436.6 L869.8 1442.1 L878.8 1449.3 L882.4 1460.2 L880.6 1471.1 L873.4 1478.3 L858.9 1481.9 L848 1483.7 L829.9 1483.7Z" fill="#FFE8D6"/>
<path d="M829.9 1443.9 L848 1443.9 L858.9 1445.7 L867.9 1451.1 L871.6 1460.2 L867.9 1471.1 L858.9 1474.7 L848 1475.6 L829.9 1475.6Z" fill="#D6EBFF"/>
<path d="M871.4 1507.5 L879.3 1504.5 L889.3 1503.5 L897.2 1504.5 L902.2 1509.5 L907.2 1515.4 L907.2 1519.4 L869.4 1519.4Z" fill="#FFCCB5"/>
<path d="M945.9 1481.9 L960.4 1487.4 L974.9 1490.1 L989.4 1487.4 L1003.9 1481.9 L1011.2 1487.4 L1018.4 1496.4 L1022 1507.3 L1011.2 1503.7 L1000.3 1498.3 L985.8 1497.3 L971.3 1498.3 L956.8 1494.6Z" fill="#FFCCB5"/>
<path d="M1065.5 1471.1 L1072.8 1467.4 L1081.9 1474.7 L1087.3 1489.2 L1087.3 1507.3 L1081.9 1520 L1081.9 1536.3 L1065.5 1536.3 L1061.9 1500.1Z" fill="#FFCCB5"/>
<path d="M932.3 1298.8 L940.5 1288 L948.6 1279.8 L956.8 1282.5 L965.8 1288 L974.9 1297 L982.2 1306.1 L993 1315.1 L1005.7 1320.6 L1018.4 1326 L1031.1 1333.3 L1043.8 1342.3 L1056.5 1353.2 L1069.2 1364.1 L1081.9 1375 L1092.7 1387.7 L1101.8 1400.4 L1109.1 1413 L1116.3 1423.9 L1125.4 1433 L1134.4 1443.9 L1156.2 1445.7 L1192.5 1463.8 L1192.5 1536.3 L1101.8 1536.3 L1101.8 1520 L1100 1500.1 L1098.2 1481.9 L1096.4 1463.8 L1090.9 1445.7 L1089.1 1427.5 L1078.2 1418.5 L1067.4 1407.6 L1058.3 1394.9 L1051 1382.2 L1043.8 1373.2 L1036.5 1369.5 L1027.5 1365.9 L1018.4 1360.5 L1011.2 1353.2 L1003.9 1344.2 L996.7 1336.9 L985.8 1329.7 L974.9 1322.4 L964 1317 L953.1 1313.3 L942.3 1307.9 L935 1302.5Z" fill="#FF7840"/>
<path d="M1052.9 1363.2 L1061.9 1367.7 L1072.8 1375 L1081.9 1384 L1089.1 1396.7 L1091.8 1409.4 L1090.9 1420.3 L1087.3 1427.5 L1078.2 1422.1 L1069.2 1413 L1060.1 1400.4 L1055.6 1387.7 L1052 1373.2Z" fill="#FF4F1A"/>
<path d="M1064.6 1379.5 L1072.8 1384 L1080.1 1394.9 L1083.7 1407.6 L1082.8 1414.9 L1076.4 1409.4 L1069.2 1398.5 L1065.5 1387.7Z" fill="#E03200"/>
<path d="M994.8 1335.1 L1002.1 1338.7 L1009.3 1346 L1013 1351.4 L1005.7 1347.8 L998.5 1341.4Z" fill="#FF4F1A"/>
<path d="M1116.3 1451.1 L1123.6 1460.2 L1129 1472.9 L1132.6 1487.4 L1130.8 1503.7 L1125.4 1516.4 L1119.9 1507.3 L1117.2 1491 L1116.3 1472.9Z" fill="#FF4F1A"/>
<path d="M829.9 1353.2 L848 1353.2 L858.9 1355 L867.9 1355 L878.8 1360.5 L875.2 1369.5 L877 1380.4 L884.3 1389.5 L895.1 1398.5 L907.8 1404 L920.5 1407.6 L929.6 1411.2 L935 1420.3 L933.2 1433 L927.8 1445.7 L920.5 1458.4 L919.6 1467.4 L911.5 1478.3 L906 1480.1 L896.9 1471.1 L892.4 1462 L893.3 1451.1 L887.9 1443.9 L880.6 1440.2 L869.8 1436.6 L858.9 1429.4 L848 1423.9 L829.9 1423.9Z" fill="#FF7840"/>
<path d="M829.9 1360.5 L848 1360.5 L858.9 1360.5 L866.1 1364.1 L865.2 1373.2 L871.6 1384 L880.6 1394.9 L891.5 1404 L892.4 1409.4 L884.3 1414.9 L873.4 1418.5 L862.5 1421.2 L848 1423 L829.9 1423Z" fill="#FF4F1A"/>
<path d="M829.9 1388.6 L848 1388.6 L858.9 1387.7 L867.9 1394.9 L878.8 1404.9 L869.8 1408.5 L858.9 1410.3 L848 1411.2 L829.9 1411.2Z" fill="#E03200"/>
<path d="M893.3 1432.1 L902.4 1425.7 L913.3 1419.4 L922.3 1423.9 L918.7 1434.8 L911.5 1445.7 L904.2 1446.6 L896.9 1440.2Z" fill="#FF4F1A"/>
<path d="M950.4 1503.7 L960.4 1498.3 L974.9 1500.1 L987.6 1505.5 L994.8 1512.8 L993 1536.3 L949.5 1536.3Z" fill="#FF7840"/>
<path d="M1017.5 1466.5 L1025.7 1458.4 L1034.7 1465.6 L1027.5 1474.7Z" fill="#FF7840"/>
<path d="M1021.1 1466.5 L1026.6 1462 L1031.1 1466 L1026.6 1471.1Z" fill="#FF4F1A"/>
<path d="M1034.7 1518.2 L1040.2 1509.1 L1049.2 1507.3 L1052.9 1516.4 L1052.9 1536.3 L1034.7 1536.3Z" fill="#FF7840"/>
</g>
<clipPath id="qse"><rect x="858.0" y="1512.0" width="852.0" height="510.0"/></clipPath>
<g clip-path="url(#qse)">
<rect x="858.0" y="1512.0" width="852.0" height="510.0" fill="#FFAA82"/>
<path d="M1130.8 1616 L1119.9 1625.1 L1112.7 1637.8 L1101.8 1645 L1090.9 1652.3 L1085.5 1663.2 L1078.2 1674 L1069.2 1684.9 L1061.9 1695.8 L1052.9 1704.9 L1043.8 1713.9 L1032.9 1723 L1022 1732.1 L1011.2 1739.3 L1000.3 1744.7 L989.4 1750.2 L978.5 1752 L964 1750.2 L949.5 1751.1 L935 1753.8 L920.5 1755.6 L906 1755.6 L891.5 1755.6 L877 1752.4 L862.5 1747.3 L848 1744.7 L829.9 1743.8 L829.9 1862.6 L1210.6 1862.6 L1210.6 1616Z" fill="#FFCCB5"/>
<path d="M1119.9 1637.8 L1107.2 1645 L1098.2 1652.3 L1092.7 1659.5 L1089.1 1670.4 L1081.9 1679.5 L1076.4 1688.5 L1071 1695.8 L1083.7 1708.5 L1138.1 1663.2Z" fill="#FFE8D6"/>
<path d="M1011.2 1753.8 L1000.3 1753.8 L985.8 1759.2 L971.3 1761.1 L956.8 1762.9 L945.9 1768.3 L935 1771.9 L920.5 1767.4 L902.4 1763.8 L884.3 1760.2 L866.1 1756.3 L848 1754.2 L829.9 1753.8 L829.9 1862.6 L1011.2 1862.6Z" fill="#FFE8D6"/>
<path d="M829.9 1763.2 L848 1763.8 L866.1 1766.5 L884.3 1771.6 L902.4 1775.6 L916.9 1780.1 L927.8 1786.4 L935 1791.9 L942.3 1808.2 L829.9 1844.5Z" fill="#D6EBFF"/>
<path d="M829.9 1782.8 L848 1782.8 L858.9 1786.4 L869.8 1790.1 L880.6 1791.9 L891.5 1788.3 L902.4 1788.3 L913.3 1791.9 L924.1 1808.2 L829.9 1844.5Z" fill="#B5CCFF"/>
<path d="M829.9 1510.9 L871.6 1510.9 L884.3 1509.1 L896.9 1505.4 L902.4 1510.9 L911.5 1521.8 L924.1 1532.6 L933.2 1543.5 L936.8 1558 L935 1572.5 L933.2 1587 L931.4 1601.5 L932.3 1612.4 L942.3 1616 L956.8 1617.8 L971.3 1617.8 L984 1616 L989.4 1608.8 L998.5 1601.5 L1002.1 1590.6 L1000.3 1579.8 L993 1568.9 L985.8 1558 L982.2 1547.1 L991.2 1538.1 L1000.3 1527.2 L1005.7 1519.9 L1022 1519.9 L1032.9 1527.2 L1040.2 1536.3 L1045.6 1550.8 L1047.4 1559.8 L1056.5 1568.9 L1065.5 1579.8 L1061.9 1590.6 L1052.9 1597.9 L1045.6 1607 L1036.5 1616 L1025.7 1625.1 L1014.8 1632.3 L1003.9 1639.6 L1002.1 1650.5 L1002.1 1663.2 L1000.3 1677.7 L993 1688.5 L982.2 1695.8 L967.7 1699.4 L953.1 1703 L938.6 1704.9 L924.1 1701.2 L909.6 1697.6 L895.1 1695.8 L880.6 1692.2 L866.1 1686.7 L855.3 1683.1 L848 1681.3 L829.9 1681.3Z" fill="#FFCCB5"/>
<path d="M1062.8 1481.9 L1085.5 1481.9 L1083.7 1518.1 L1080.1 1536.3 L1074.6 1552.6 L1071 1554.4 L1065.5 1536.3 L1063.7 1518.1Z" fill="#FFCCB5"/>
<path d="M829.9 1519.9 L871.6 1519.9 L884.3 1516.3 L891.5 1518.1 L900.6 1529 L909.6 1541.7 L916.9 1554.4 L920.5 1568.9 L922.3 1583.4 L920.5 1597.9 L922.3 1608.8 L933.2 1619.7 L945.9 1623.3 L960.4 1625.1 L974.9 1625.1 L985.8 1626.9 L987.6 1637.8 L982.2 1650.5 L974.9 1659.5 L982.2 1666.8 L985.8 1677.7 L982.2 1686.7 L971.3 1692.2 L956.8 1695.8 L942.3 1697.6 L927.8 1695.8 L916.9 1692.2 L902.4 1688.5 L891.5 1684.9 L877 1681.3 L866.1 1675.9 L855.3 1672.2 L848 1670.4 L829.9 1670.4Z" fill="#FFE8D6"/>
<path d="M993 1541.7 L1002.1 1536.3 L1014.8 1534.4 L1027.5 1536.3 L1036.5 1547.1 L1043.8 1559.8 L1038.4 1572.5 L1036.5 1587 L1029.3 1594.3 L1022 1601.5 L1014.8 1608.8 L1011.2 1601.5 L1007.5 1587 L1002.1 1576.1 L993 1561.6 L989.4 1550.8Z" fill="#FFE8D6"/>
<path d="M1026.6 1601.5 L1034.7 1590.6 L1042 1597.9 L1036.5 1607 L1029.3 1610.6Z" fill="#FFE8D6"/>
<path d="M1065.5 1481.9 L1081.9 1481.9 L1080.1 1518.1 L1076.4 1536.3 L1072.8 1548.9 L1069.2 1536.3 L1067.4 1518.1Z" fill="#FFE8D6"/>
<path d="M878.8 1536.3 L884.3 1527.2 L893.3 1527.2 L902.4 1536.3 L909.6 1550.8 L916.9 1568.9 L919.6 1587 L918.7 1605.1 L915.1 1623.3 L911.5 1641.4 L910.5 1655.9 L906 1663.2 L906 1674 L900.6 1684.9 L889.7 1686.7 L879.7 1681.3 L878.8 1666.8 L877.9 1654.1 L880.6 1643.2 L884.3 1634.2 L887 1623.3 L889.7 1612.4 L887.9 1597.9 L884.3 1583.4 L880.6 1568.9 L878.8 1554.4Z" fill="#D6EBFF"/>
<path d="M933.2 1634.2 L944.1 1630.5 L956.8 1633.2 L971.3 1634.2 L977.6 1635.1 L974.9 1645 L971.3 1654.1 L974.9 1663.2 L978.5 1674 L974.9 1683.1 L964 1688.5 L949.5 1692.2 L935 1695.8 L920.5 1697.6 L918.7 1690.4 L927.8 1681.3 L933.2 1670.4 L935 1659.5 L933.2 1648.7Z" fill="#D6EBFF"/>
<path d="M996.7 1552.6 L1003.9 1546.2 L1016.6 1544.4 L1027.5 1547.1 L1031.1 1554.4 L1029.3 1563.5 L1025.7 1572.5 L1023.9 1579.8 L1014.8 1578 L1005.7 1570.7 L1000.3 1561.6Z" fill="#D6EBFF"/>
<path d="M829.9 1636 L848 1636 L864.3 1637.8 L861.6 1652.3 L855.3 1654.1 L848 1648.7 L829.9 1648.7Z" fill="#D6EBFF"/>
<path d="M887.9 1547.1 L895.1 1543.5 L904.2 1547.1 L908.7 1559.8 L912.4 1576.1 L912.4 1594.3 L907.8 1608.8 L902.4 1612.4 L896.9 1601.5 L893.3 1587 L889.7 1572.5 L887 1558Z" fill="#B5CCFF"/>
<path d="M896.9 1612.4 L902.4 1621.5 L906 1630.5 L901.5 1639.6 L894.2 1634.2 L896 1623.3Z" fill="#B5CCFF"/>
<path d="M942.3 1677.7 L949.5 1670.4 L960.4 1665 L973.1 1669.5 L967.7 1679.5 L956.8 1686.7 L945.9 1690.4 L935 1691.3Z" fill="#B5CCFF"/>
<path d="M1019.3 1558.9 L1023.9 1558 L1022 1563.5Z" fill="#B5CCFF"/>
<path d="M897.9 1574.3 L902.4 1572.5 L906 1577 L904.2 1583.4 L899.7 1584.3Z" fill="#82AAFF"/>
<path d="M917.8 1667.7 L924.1 1665.9 L926 1674 L920.5 1675.9Z" fill="#FFCCB5"/>
<path d="M858 1554.9 L865.4 1555.9 L873.4 1559.9 L878.3 1565.8 L881.3 1573.8 L884.3 1582.7 L885.3 1591.7 L877.4 1599.6 L881.3 1604.6 L886.3 1611.6 L889.3 1619.5 L887.3 1627.5 L879.3 1629.5 L869.4 1628.5 L858 1627.5 L849.5 1627.5 L849.5 1554.9Z" fill="#FFAA82"/>
<path d="M833.6 1572.8 L837.6 1568.8 L843.6 1566.8 L849.5 1568.3 L855.5 1571.8 L861.5 1576.3 L866.4 1581.3 L870.4 1586.2 L873.4 1591.2 L874.4 1596.7 L872.4 1600.6 L868.4 1604.1 L862.4 1606.6 L855.5 1607.6 L847.5 1606.6 L839.6 1604.6 L833.6 1601.6 L830.6 1595.7 L829.6 1587.7 L830.6 1579.8Z" fill="#FFCCB5"/>
<path d="M834.6 1583.7 L838.6 1579.8 L845.5 1578.3 L852.5 1579.3 L858.5 1581.7 L863.4 1585.2 L867.4 1589.2 L869.9 1593.7 L869.4 1597.7 L864.4 1600.6 L857.5 1602.1 L849.5 1601.6 L841.6 1600.6 L836.6 1596.7 L833.6 1590.7Z" fill="#FFE8D6"/>
<path d="M837.6 1589.7 L841.6 1585.7 L849.5 1584.2 L856.5 1585.7 L862.4 1588.7 L866.4 1592.2 L866.9 1595.2 L862.4 1597.7 L855.5 1599.1 L848.5 1598.6 L841.6 1595.7Z" fill="#D6EBFF"/>
<path d="M842.6 1592.2 L847.5 1589.2 L854.5 1588.2 L860.5 1590.2 L863.9 1593.2 L860.5 1595.7 L853.5 1597.2 L846.5 1595.7Z" fill="#B5CCFF"/>
<path d="M847.5 1593.2 L853.5 1591.2 L859.5 1591.7 L862.4 1593.7 L857.5 1595.2 L851.5 1595.2Z" fill="#82AAFF"/>
<path d="M849.5 1609.6 L857.5 1610.1 L865.4 1611.6 L869.4 1615.5 L865.4 1619.5 L857.5 1624.5 L851.5 1625.5 L849.5 1624.5Z" fill="#FF7840"/>
<path d="M849.5 1612.1 L855.5 1611.6 L861.5 1614.1 L859.5 1618.5 L854.5 1621 L849.5 1620Z" fill="#FF4F1A"/>
<path d="M871.4 1609.6 L875.4 1604.6 L880.3 1603.6 L885.3 1609.6 L888.3 1617.5 L886.3 1622.5 L880.3 1621.5 L874.4 1616.5Z" fill="#FF7840"/>
<path d="M875.4 1610.6 L879.3 1608.6 L883.3 1612.6 L884.3 1617.5 L880.3 1617.5 L876.4 1614.6Z" fill="#FF4F1A"/>
<path d="M833.6 1535 L839.6 1540 L845.5 1549.9 L859.5 1559.9 L874.4 1571.8 L881.3 1583.7 L877.4 1581.7 L869.4 1573.8 L859.5 1567.8 L849.5 1563.9 L849.5 1535Z" fill="#FF4F1A"/>
<path d="M833.6 1535 L839.6 1540 L845.5 1549.9 L857.5 1558.9 L867.4 1566.8 L863.4 1566.8 L855.5 1561.9 L849.5 1559.9 L849.5 1535Z" fill="#E03200"/>
<path d="M942.3 1481.9 L1000.3 1481.9 L1003.9 1518.1 L998.5 1534.4 L989.4 1545.3 L982.2 1550.8 L987.6 1561.6 L994.8 1576.1 L1000.3 1587 L996.7 1597.9 L985.8 1603.3 L971.3 1608.8 L953.1 1612.4 L935 1612.4 L933.2 1597.9 L938.6 1579.8 L945.9 1565.3 L949.5 1554.4 L940.5 1543.5 L931.4 1532.6 L929.6 1518.1 L935 1507.3Z" fill="#FFAA82"/>
<path d="M1156.2 1481.9 L1148.9 1527.2 L1141.7 1545.3 L1134.4 1559.8 L1127.2 1576.1 L1119.9 1590.6 L1114.5 1603.3 L1109.1 1616 L1101.8 1626.9 L1090.9 1639.6 L1081.9 1650.5 L1074.6 1663.2 L1067.4 1674 L1060.1 1684.9 L1051 1695.8 L1042 1706.7 L1031.1 1715.7 L1020.2 1724.8 L1007.5 1733.9 L993 1741.1 L978.5 1744.7 L964 1742.9 L949.5 1744.7 L935 1748.4 L920.5 1750.2 L906 1751.1 L891.5 1750.5 L877 1747.3 L862.5 1741.5 L848 1736.8 L829.9 1735.7 L829.9 1686.7 L848 1686.7 L855.3 1688.5 L866.1 1692.2 L878.8 1695.8 L891.5 1699.4 L904.2 1701.2 L916.9 1703 L929.6 1706.7 L942.3 1710.3 L955 1708.5 L967.7 1704.9 L980.3 1701.2 L991.2 1697.6 L1000.3 1692.2 L1003.9 1681.3 L1004.8 1666.8 L1005.7 1654.1 L1007.5 1643.2 L1016.6 1637.8 L1025.7 1634.2 L1036.5 1626.9 L1047.4 1617.8 L1056.5 1608.8 L1065.5 1597.9 L1074.6 1587 L1081.9 1578 L1090.9 1565.3 L1098.2 1552.6 L1100 1536.3 L1101.8 1518.1 L1099.1 1481.9Z" fill="#FF7840"/>
<path d="M1098.2 1552.6 L1096.4 1568.9 L1094.6 1585.2 L1089.1 1596.1 L1081.9 1605.1 L1074.6 1616 L1071 1625.1 L1071 1608.8 L1074.6 1597.9 L1081.9 1585.2 L1089.1 1572.5 L1094.6 1559.8Z" fill="#FF4F1A"/>
<path d="M1018.4 1654.1 L1027.5 1645 L1032 1650.5 L1029.3 1657.7 L1020.2 1660.4Z" fill="#FF4F1A"/>
<path d="M956.8 1733 L965.8 1726.6 L974.9 1724.8 L971.3 1730.2 L960.4 1733.9Z" fill="#FF4F1A"/>
<path d="M829.9 1696.7 L848 1696.7 L862.5 1699.4 L877 1704.9 L891.5 1710.3 L906 1713.9 L920.5 1716.6 L935 1715.7 L936.8 1717.5 L933.2 1724.8 L924.1 1732.1 L909.6 1737.5 L895.1 1739.3 L880.6 1738.4 L866.1 1735.7 L855.3 1732.1 L848 1728.4 L829.9 1728.4Z" fill="#FF4F1A"/>
<path d="M829.9 1702.1 L848 1702.1 L858.9 1704 L869.8 1710.3 L875.2 1717.5 L884.3 1723 L895.1 1724.8 L907.8 1723.9 L920.5 1722.1 L922.3 1722.6 L915.1 1726.6 L902.4 1731.1 L887.9 1732.1 L873.4 1730.2 L860.7 1726.6 L848 1721.2 L829.9 1721.2Z" fill="#E03200"/>
<path d="M1119.9 1481.9 L1130.8 1481.9 L1128.1 1509.1 L1123.6 1515.4Z" fill="#FF4F1A"/>
<path d="M949.5 1481.9 L974.9 1481.9 L991.2 1509.1 L994.8 1518.1 L991.2 1530.8 L982.2 1539.9 L973.1 1548.9 L978.5 1559.8 L985.8 1572.5 L991.2 1585.2 L987.6 1590.6 L978.5 1596.1 L964 1601.5 L949.5 1605.1 L940.5 1607 L942.3 1594.3 L947.7 1579.8 L953.1 1565.3 L956.8 1552.6 L949.5 1543.5 L940.5 1534.4 L936.8 1525.4 L940.5 1516.3Z" fill="#FF7840"/>
<path d="M1034.7 1516.3 L1042 1509.1 L1052.9 1508.2 L1061.9 1516.3 L1056.5 1525.4 L1047.4 1529 L1038.4 1523.6Z" fill="#FF7840"/>
<path d="M1047.4 1516.3 L1054.7 1515.4 L1053.8 1520.8 L1048.3 1519.9Z" fill="#FF4F1A"/>
<path d="M1047.4 1545.3 L1052.9 1539 L1061.9 1547.1 L1054.7 1554.4Z" fill="#FF7840"/>
<path d="M1039.3 1574.3 L1044.7 1569.8 L1051 1578 L1043.8 1579.8Z" fill="#FF7840"/>
</g>
<clipPath id="qcc"><rect x="800" y="1512.0" width="119" height="78.0"/></clipPath>
<g clip-path="url(#qcc)">
<rect x="800" y="1512.0" width="119" height="78.0" fill="#E03200"/>
<path d="M792.4 1507.5 L791.9 1513.4 L797.8 1519.4 L805.8 1523.4 L815.7 1527.4 L823.7 1529.3 L831.6 1528.3 L839.6 1533.3 L845.5 1539.3 L851.5 1545.2 L855.5 1552.2 L859.5 1559.2 L865.4 1563.1 L870.4 1567.1 L875.4 1573.1 L879.3 1579 L882.3 1585 L884.3 1590 L884.3 1598.9 L948.9 1598.9 L948.9 1507.5Z" fill="#FF4F1A"/>
<path d="M799.8 1507.5 L801.8 1513.4 L807.8 1518.4 L815.7 1521.4 L825.7 1522.4 L833.6 1521.4 L839.6 1523.4 L845.5 1528.3 L851.5 1534.3 L856.5 1541.3 L860.5 1549.2 L865.4 1557.2 L870.4 1563.1 L875.4 1569.1 L879.3 1575.1 L882.8 1581 L885.3 1587 L886.3 1590 L886.3 1598.9 L948.9 1598.9 L948.9 1507.5Z" fill="#FF7840"/>
<path d="M807.8 1507.5 L809.8 1515.4 L816.7 1519.4 L825.7 1519.4 L834.6 1519.4 L841.6 1521.4 L847.5 1525.4 L853.5 1531.3 L858.5 1538.3 L862.4 1546.2 L866.4 1554.2 L871.4 1561.2 L876.4 1568.1 L880.8 1575.1 L884.8 1583 L888.3 1590 L888.3 1598.9 L948.9 1598.9 L948.9 1507.5Z" fill="#FFAA82"/>
<path d="M871.4 1507.5 L879.3 1504.5 L889.3 1503.5 L897.2 1504.5 L902.2 1509.5 L907.2 1515.4 L913.1 1522.4 L919.1 1528.3 L925.1 1534.3 L931 1541.3 L948.9 1559.2 L948.9 1598.9 L890.8 1598.9 L890.8 1590 L887.3 1585 L883.3 1577.1 L879.3 1569.1 L874.4 1561.2 L870.4 1553.2 L866.4 1545.2 L863.4 1537.3 L860.5 1529.3 L859.5 1524.4 L864.4 1519.4Z" fill="#FFCCB5"/>
<path d="M869.4 1521.4 L875.4 1517.4 L883.3 1515.4 L891.3 1515.9 L898.2 1519.4 L904.2 1525.4 L910.2 1532.3 L916.1 1539.3 L922.1 1547.2 L927.1 1555.2 L931 1563.1 L934 1571.1 L937 1579 L939 1590 L939 1598.9 L893.3 1598.9 L893.3 1590 L889.3 1584 L886.3 1577.1 L883.3 1569.1 L879.3 1561.2 L875.4 1553.2 L872.4 1545.2 L870.4 1537.3 L869.4 1529.3Z" fill="#FFE8D6"/>
<path d="M878.3 1534.3 L881.3 1528.3 L888.3 1526.4 L895.2 1528.3 L901.2 1534.3 L907.2 1541.3 L912.1 1549.2 L917.1 1558.2 L921.1 1567.1 L924.1 1576.1 L926.1 1584 L928.1 1590 L928.1 1598.9 L895.7 1598.9 L895.7 1590 L892.3 1584 L889.3 1579 L887.3 1569.1 L884.3 1559.2 L881.3 1550.2 L879.3 1542.3Z" fill="#D6EBFF"/>
<path d="M888.3 1548.2 L890.3 1545.2 L897.2 1544.3 L904.2 1547.2 L908.2 1555.2 L912.1 1564.1 L914.1 1573.1 L913.1 1581 L911.2 1590 L911.2 1598.9 L899.2 1598.9 L898.2 1590 L893.3 1584 L890.3 1575.1 L888.3 1566.1 L887.3 1557.2Z" fill="#B5CCFF"/>
<path d="M897.2 1576.1 L899.2 1573.6 L904.2 1575.1 L905.7 1579 L903.2 1584 L899.2 1583Z" fill="#82AAFF"/>
<path d="M777 1540.8 L785.9 1537.3 L797.8 1533.3 L804.8 1542.3 L799.8 1549.2 L799.3 1559.2 L802.8 1572.1 L798.8 1575.1 L789.9 1564.1 L783.9 1552.2 L781.9 1543.3Z" fill="#B91C00"/>
<path d="M833.6 1546 L839.6 1548 L846 1552.9 L853.5 1558.4 L861.5 1563.4 L869.4 1569.3 L875.4 1575.8 L879.8 1582.7 L882.8 1589.7 L883.8 1595.7 L883.8 1603.6 L824.2 1603.6 L824.2 1593.7 L822.7 1587.7 L820.7 1579.8 L821.7 1572.8 L824.7 1568.8 L827.7 1561.9 L830.6 1553.9Z" fill="#FF4F1A"/>
<path d="M833.6 1552.4 L838.6 1551.9 L845.5 1556.4 L852.5 1561.4 L860 1566.3 L867.4 1572.3 L873.4 1578.8 L877.9 1584.7 L880.8 1590.7 L881.8 1596.7 L881.8 1603.6 L827.7 1603.6 L827.7 1592.7 L826.7 1586.7 L825.7 1579.8 L826.2 1572.8 L828.6 1566.8 L831.1 1559.9Z" fill="#FF7840"/>
<path d="M833.6 1558.4 L837.6 1556.4 L844.6 1560.4 L851.5 1564.9 L858.5 1569.8 L864.9 1575.3 L870.4 1581.3 L874.4 1586.7 L877.4 1591.7 L878.3 1597.7 L878.3 1603.6 L830.6 1603.6 L830.6 1593.7 L829.6 1587.7 L828.6 1581.7 L828.6 1574.8 L829.6 1569.8 L831.6 1564.9Z" fill="#FFAA82"/>
<path d="M833.6 1572.8 L837.6 1568.8 L843.6 1566.8 L849.5 1568.3 L855.5 1571.8 L861.5 1576.3 L866.4 1581.3 L870.4 1586.2 L873.4 1591.2 L874.4 1596.7 L872.4 1600.6 L868.4 1604.1 L862.4 1606.6 L855.5 1607.6 L847.5 1606.6 L839.6 1604.6 L833.6 1601.6 L830.6 1595.7 L829.6 1587.7 L830.6 1579.8Z" fill="#FFCCB5"/>
<path d="M834.6 1583.7 L838.6 1579.8 L845.5 1578.3 L852.5 1579.3 L858.5 1581.7 L863.4 1585.2 L867.4 1589.2 L869.9 1593.7 L869.4 1597.7 L864.4 1600.6 L857.5 1602.1 L849.5 1601.6 L841.6 1600.6 L836.6 1596.7 L833.6 1590.7Z" fill="#FFE8D6"/>
<path d="M837.6 1589.7 L841.6 1585.7 L849.5 1584.2 L856.5 1585.7 L862.4 1588.7 L866.4 1592.2 L866.9 1595.2 L862.4 1597.7 L855.5 1599.1 L848.5 1598.6 L841.6 1595.7Z" fill="#D6EBFF"/>
<path d="M842.6 1592.2 L847.5 1589.2 L854.5 1588.2 L860.5 1590.2 L863.9 1593.2 L860.5 1595.7 L853.5 1597.2 L846.5 1595.7Z" fill="#B5CCFF"/>
<path d="M847.5 1593.2 L853.5 1591.2 L859.5 1591.7 L862.4 1593.7 L857.5 1595.2 L851.5 1595.2Z" fill="#82AAFF"/>
</g>
<circle cx="855.0" cy="1508.5" r="17.0" fill="#fff"/>
<use href="#coast" x="855.0" y="1508.5"/>
</g>
<circle cx="855.0" cy="1508.5" r="290.3" fill="none" stroke="#000" stroke-width="1.7"/>
<g fill="none" stroke="#000" stroke-linecap="round" stroke-linejoin="round">
<path d="M194.1 210.9L194.1 231.4M187.2 210.9L201.1 210.9M220.9 218.7L220.9 223.6M205 218.7L205 223.6M211 231.4L214.9 231.4M211 210.9L214.9 210.9M220.9 223.6L219.9 226.5M219.9 215.8L220.9 218.7M206 215.8L205 218.7M205 223.6L206 226.5M218.9 228.5L216.9 230.4M216.9 211.9L218.9 213.8M209 211.9L207 213.8M207 228.5L209 230.4M219.9 226.5L218.9 228.5M218.9 213.8L219.9 215.8M216.9 230.4L214.9 231.4M214.9 210.9L216.9 211.9M211 210.9L209 211.9M209 230.4L211 231.4M207 213.8L206 215.8M206 226.5L207 228.5M232.8 210.9L240.7 231.4M232.8 210.9L224.8 231.4M227.8 224.6L237.7 224.6M271.4 217.7L271.4 231.4M260.5 217.7L260.5 227.5M271.4 227.5L268.5 230.4M260.5 227.5L261.5 230.4M263.5 231.4L266.5 231.4M268.5 230.4L266.5 231.4M261.5 230.4L263.5 231.4M279.4 217.7L279.4 238.2M291.2 225.5L290.3 228.5M290.3 220.7L291.2 223.6M283.3 231.4L286.3 231.4M283.3 217.7L286.3 217.7M290.3 228.5L288.3 230.4M288.3 218.7L290.3 220.7M281.3 218.7L279.4 220.7M279.4 228.5L281.3 230.4M288.3 230.4L286.3 231.4M286.3 217.7L288.3 218.7M283.3 217.7L281.3 218.7M281.3 230.4L283.3 231.4M291.2 223.6L291.2 225.5M313 217.7L309.1 231.4M305.1 217.7L309.1 231.4M305.1 217.7L301.2 231.4M297.2 217.7L301.2 231.4M330.9 217.7L330.9 231.4M320 220.7L319 223.6M319 225.5L320 228.5M323.9 231.4L326.9 231.4M323.9 217.7L326.9 217.7M330.9 228.5L328.9 230.4M328.9 218.7L330.9 220.7M322 218.7L320 220.7M320 228.5L322 230.4M328.9 230.4L326.9 231.4M326.9 217.7L328.9 218.7M323.9 217.7L322 218.7M322 230.4L323.9 231.4M319 223.6L319 225.5M338.8 217.7L338.8 231.4M339.8 220.7L338.8 223.6M343.8 217.7L346.7 217.7M341.8 218.7L339.8 220.7M343.8 217.7L341.8 218.7M362.6 210.9L362.6 231.4M351.7 220.7L350.7 223.6M350.7 225.5L351.7 228.5M355.7 231.4L358.6 231.4M355.7 217.7L358.6 217.7M362.6 228.5L360.6 230.4M360.6 218.7L362.6 220.7M353.7 218.7L351.7 220.7M351.7 228.5L353.7 230.4M360.6 230.4L358.6 231.4M358.6 217.7L360.6 218.7M355.7 217.7L353.7 218.7M353.7 230.4L355.7 231.4M350.7 223.6L350.7 225.5M385.4 210.9L385.4 231.4M385.4 231.4L397.3 231.4M420.1 210.9L415.1 231.4M410.2 210.9L415.1 231.4M410.2 210.9L405.2 231.4M400.3 210.9L405.2 231.4M441.9 214.8L441.9 231.4M438.9 217.7L445.8 217.7M442.9 211.9L441.9 214.8M444.9 210.9L442.9 211.9M444.9 210.9L446.8 210.9M452.8 210.9L452.8 231.4M471.6 217.7L471.6 231.4M460.7 217.7L460.7 227.5M471.6 227.5L468.6 230.4M460.7 227.5L461.7 230.4M463.7 231.4L466.7 231.4M468.6 230.4L466.7 231.4M461.7 230.4L463.7 231.4M489.4 217.7L478.5 231.4M478.5 217.7L489.4 231.4" stroke-width="1.62"/>
<path d="M703.7 210.8L698.7 231.5M693.8 210.8L698.7 231.5M693.8 210.8L688.9 231.5M684 210.8L688.9 231.5M725.3 206.9L707.6 238.4M731.2 217.7L731.2 231.5M752.9 221.7L752.9 231.5M742.1 221.7L742.1 231.5M745 218.7L742.1 221.7M734.2 218.7L731.2 221.7M751.9 218.7L752.9 221.7M741.1 218.7L742.1 221.7M747 217.7L750 217.7M736.2 217.7L739.1 217.7M750 217.7L751.9 218.7M747 217.7L745 218.7M739.1 217.7L741.1 218.7M736.2 217.7L734.2 218.7" stroke-width="1.62"/>
<path d="M764.8 211.4L758.2 217.8M758.2 217.8L767.3 217.8M761.5 204.4L764.1 204.4M766 209.5L764.8 211.4M766.7 208.2L766 209.5M766 205.6L766.7 206.9M764.1 204.4L765.4 205M761.5 204.4L760.2 205M759.5 205.6L758.9 206.9M766.7 206.9L766.7 208.2M765.4 205L766 205.6M760.2 205L759.5 205.6M758.9 206.9L758.9 207.6" stroke-width="1.45"/>
<path d="M950.1 210.9L950.1 231.4M943.2 210.9L957.1 210.9M976.9 218.7L976.9 223.6M961 218.7L961 223.6M967 231.4L970.9 231.4M967 210.9L970.9 210.9M976.9 223.6L975.9 226.5M975.9 215.8L976.9 218.7M962 215.8L961 218.7M961 223.6L962 226.5M974.9 228.5L972.9 230.4M972.9 211.9L974.9 213.8M965 211.9L963 213.8M963 228.5L965 230.4M975.9 226.5L974.9 228.5M974.9 213.8L975.9 215.8M972.9 230.4L970.9 231.4M970.9 210.9L972.9 211.9M967 210.9L965 211.9M965 230.4L967 231.4M963 213.8L962 215.8M962 226.5L963 228.5M988.8 210.9L996.7 231.4M988.8 210.9L980.8 231.4M983.8 224.6L993.7 224.6M1027.4 217.7L1027.4 231.4M1016.5 217.7L1016.5 227.5M1027.4 227.5L1024.5 230.4M1016.5 227.5L1017.5 230.4M1019.5 231.4L1022.5 231.4M1024.5 230.4L1022.5 231.4M1017.5 230.4L1019.5 231.4M1035.4 217.7L1035.4 238.2M1047.2 225.5L1046.3 228.5M1046.3 220.7L1047.2 223.6M1039.3 231.4L1042.3 231.4M1039.3 217.7L1042.3 217.7M1046.3 228.5L1044.3 230.4M1044.3 218.7L1046.3 220.7M1037.3 218.7L1035.4 220.7M1035.4 228.5L1037.3 230.4M1044.3 230.4L1042.3 231.4M1042.3 217.7L1044.3 218.7M1039.3 217.7L1037.3 218.7M1037.3 230.4L1039.3 231.4M1047.2 223.6L1047.2 225.5M1069 217.7L1065.1 231.4M1061.1 217.7L1065.1 231.4M1061.1 217.7L1057.2 231.4M1053.2 217.7L1057.2 231.4M1086.9 217.7L1086.9 231.4M1076 220.7L1075 223.6M1075 225.5L1076 228.5M1079.9 231.4L1082.9 231.4M1079.9 217.7L1082.9 217.7M1086.9 228.5L1084.9 230.4M1084.9 218.7L1086.9 220.7M1078 218.7L1076 220.7M1076 228.5L1078 230.4M1084.9 230.4L1082.9 231.4M1082.9 217.7L1084.9 218.7M1079.9 217.7L1078 218.7M1078 230.4L1079.9 231.4M1075 223.6L1075 225.5M1094.8 217.7L1094.8 231.4M1095.8 220.7L1094.8 223.6M1099.8 217.7L1102.7 217.7M1097.8 218.7L1095.8 220.7M1099.8 217.7L1097.8 218.7M1118.6 210.9L1118.6 231.4M1107.7 220.7L1106.7 223.6M1106.7 225.5L1107.7 228.5M1111.7 231.4L1114.6 231.4M1111.7 217.7L1114.6 217.7M1118.6 228.5L1116.6 230.4M1116.6 218.7L1118.6 220.7M1109.7 218.7L1107.7 220.7M1107.7 228.5L1109.7 230.4M1116.6 230.4L1114.6 231.4M1114.6 217.7L1116.6 218.7M1111.7 217.7L1109.7 218.7M1109.7 230.4L1111.7 231.4M1106.7 223.6L1106.7 225.5M1141.4 210.9L1141.4 231.4M1141.4 231.4L1153.3 231.4M1176.1 210.9L1171.1 231.4M1166.2 210.9L1171.1 231.4M1166.2 210.9L1161.2 231.4M1156.3 210.9L1161.2 231.4M1197.9 214.8L1197.9 231.4M1194.9 217.7L1201.8 217.7M1198.9 211.9L1197.9 214.8M1200.9 210.9L1198.9 211.9M1200.9 210.9L1202.8 210.9M1208.8 210.9L1208.8 231.4M1227.6 217.7L1227.6 231.4M1216.7 217.7L1216.7 227.5M1227.6 227.5L1224.6 230.4M1216.7 227.5L1217.7 230.4M1219.7 231.4L1222.7 231.4M1224.6 230.4L1222.7 231.4M1217.7 230.4L1219.7 231.4M1245.4 217.7L1234.5 231.4M1234.5 217.7L1245.4 231.4" stroke-width="1.62"/>
<path d="M1459.7 210.8L1454.7 231.5M1449.8 210.8L1454.7 231.5M1449.8 210.8L1444.9 231.5M1440 210.8L1444.9 231.5M1481.3 206.9L1463.6 238.4M1487.3 217.7L1487.3 231.5M1508.9 221.7L1508.9 231.5M1498.1 221.7L1498.1 231.5M1501 218.7L1498.1 221.7M1490.2 218.7L1487.3 221.7M1507.9 218.7L1508.9 221.7M1497.1 218.7L1498.1 221.7M1503 217.7L1506 217.7M1492.2 217.7L1495.1 217.7M1506 217.7L1507.9 218.7M1503 217.7L1501 218.7M1495.1 217.7L1497.1 218.7M1492.2 217.7L1490.2 218.7" stroke-width="1.62"/>
<path d="M1520.8 211.4L1514.2 217.8M1514.2 217.8L1523.3 217.8M1517.5 204.4L1520.1 204.4M1522 209.5L1520.8 211.4M1522.7 208.2L1522 209.5M1522 205.6L1522.7 206.9M1520.1 204.4L1521.4 205M1517.5 204.4L1516.2 205M1515.5 205.6L1514.9 206.9M1522.7 206.9L1522.7 208.2M1521.4 205L1522 205.6M1516.2 205L1515.5 205.6M1514.9 206.9L1514.9 207.6" stroke-width="1.45"/>
<path d="M572.1 1155.9L572.1 1176.4M565.2 1155.9L579.1 1155.9M598.9 1163.7L598.9 1168.6M583 1163.7L583 1168.6M589 1176.4L592.9 1176.4M589 1155.9L592.9 1155.9M598.9 1168.6L597.9 1171.5M597.9 1160.8L598.9 1163.7M584 1160.8L583 1163.7M583 1168.6L584 1171.5M596.9 1173.5L594.9 1175.4M594.9 1156.9L596.9 1158.8M587 1156.9L585 1158.8M585 1173.5L587 1175.4M597.9 1171.5L596.9 1173.5M596.9 1158.8L597.9 1160.8M594.9 1175.4L592.9 1176.4M592.9 1155.9L594.9 1156.9M589 1155.9L587 1156.9M587 1175.4L589 1176.4M585 1158.8L584 1160.8M584 1171.5L585 1173.5M610.8 1155.9L618.7 1176.4M610.8 1155.9L602.8 1176.4M605.8 1169.6L615.7 1169.6M649.4 1162.7L649.4 1176.4M638.5 1162.7L638.5 1172.5M649.4 1172.5L646.5 1175.4M638.5 1172.5L639.5 1175.4M641.5 1176.4L644.5 1176.4M646.5 1175.4L644.5 1176.4M639.5 1175.4L641.5 1176.4M657.4 1162.7L657.4 1183.2M669.2 1170.5L668.3 1173.5M668.3 1165.7L669.2 1168.6M661.3 1176.4L664.3 1176.4M661.3 1162.7L664.3 1162.7M668.3 1173.5L666.3 1175.4M666.3 1163.7L668.3 1165.7M659.3 1163.7L657.4 1165.7M657.4 1173.5L659.3 1175.4M666.3 1175.4L664.3 1176.4M664.3 1162.7L666.3 1163.7M661.3 1162.7L659.3 1163.7M659.3 1175.4L661.3 1176.4M669.2 1168.6L669.2 1170.5M691 1162.7L687.1 1176.4M683.1 1162.7L687.1 1176.4M683.1 1162.7L679.2 1176.4M675.2 1162.7L679.2 1176.4M708.9 1162.7L708.9 1176.4M698 1165.7L697 1168.6M697 1170.5L698 1173.5M701.9 1176.4L704.9 1176.4M701.9 1162.7L704.9 1162.7M708.9 1173.5L706.9 1175.4M706.9 1163.7L708.9 1165.7M700 1163.7L698 1165.7M698 1173.5L700 1175.4M706.9 1175.4L704.9 1176.4M704.9 1162.7L706.9 1163.7M701.9 1162.7L700 1163.7M700 1175.4L701.9 1176.4M697 1168.6L697 1170.5M716.8 1162.7L716.8 1176.4M717.8 1165.7L716.8 1168.6M721.8 1162.7L724.7 1162.7M719.8 1163.7L717.8 1165.7M721.8 1162.7L719.8 1163.7M740.6 1155.9L740.6 1176.4M729.7 1165.7L728.7 1168.6M728.7 1170.5L729.7 1173.5M733.7 1176.4L736.6 1176.4M733.7 1162.7L736.6 1162.7M740.6 1173.5L738.6 1175.4M738.6 1163.7L740.6 1165.7M731.7 1163.7L729.7 1165.7M729.7 1173.5L731.7 1175.4M738.6 1175.4L736.6 1176.4M736.6 1162.7L738.6 1163.7M733.7 1162.7L731.7 1163.7M731.7 1175.4L733.7 1176.4M728.7 1168.6L728.7 1170.5M763.4 1155.9L763.4 1176.4M763.4 1176.4L775.3 1176.4M798.1 1155.9L793.1 1176.4M788.2 1155.9L793.1 1176.4M788.2 1155.9L783.2 1176.4M778.3 1155.9L783.2 1176.4M819.9 1159.8L819.9 1176.4M816.9 1162.7L823.8 1162.7M820.9 1156.9L819.9 1159.8M822.9 1155.9L820.9 1156.9M822.9 1155.9L824.8 1155.9M830.8 1155.9L830.8 1176.4M849.6 1162.7L849.6 1176.4M838.7 1162.7L838.7 1172.5M849.6 1172.5L846.6 1175.4M838.7 1172.5L839.7 1175.4M841.7 1176.4L844.7 1176.4M846.6 1175.4L844.7 1176.4M839.7 1175.4L841.7 1176.4M867.4 1162.7L856.5 1176.4M856.5 1162.7L867.4 1176.4" stroke-width="1.62"/>
<path d="M1081.7 1155.8L1076.7 1176.5M1071.8 1155.8L1076.7 1176.5M1071.8 1155.8L1066.9 1176.5M1062 1155.8L1066.9 1176.5M1103.3 1151.9L1085.6 1183.4M1109.3 1162.7L1109.3 1176.5M1130.9 1166.7L1130.9 1176.5M1120.1 1166.7L1120.1 1176.5M1123 1163.7L1120.1 1166.7M1112.2 1163.7L1109.3 1166.7M1129.9 1163.7L1130.9 1166.7M1119.1 1163.7L1120.1 1166.7M1125 1162.7L1128 1162.7M1114.2 1162.7L1117.1 1162.7M1128 1162.7L1129.9 1163.7M1125 1162.7L1123 1163.7M1117.1 1162.7L1119.1 1163.7M1114.2 1162.7L1112.2 1163.7" stroke-width="1.62"/>
<path d="M1142.8 1156.4L1136.2 1162.8M1136.2 1162.8L1145.3 1162.8M1139.5 1149.4L1142.1 1149.4M1144 1154.5L1142.8 1156.4M1144.7 1153.2L1144 1154.5M1144 1150.6L1144.7 1151.9M1142.1 1149.4L1143.4 1150M1139.5 1149.4L1138.2 1150M1137.5 1150.6L1136.9 1151.9M1144.7 1151.9L1144.7 1153.2M1143.4 1150L1144 1150.6M1138.2 1150L1137.5 1150.6M1136.9 1151.9L1136.9 1152.6" stroke-width="1.45"/>
<path d="M206.5 899.5L200 917.4M193.5 899.5L200 917.4M206.5 899.5L206.5 917.4M193.5 899.5L193.5 917.4M213 899.5L213 917.4M213 917.4L223.5 917.4M213 899.5L223.5 899.5M213 908L219.5 908M232.4 899.5L238.9 917.4M232.4 899.5L225.9 917.4M228.4 911.4L236.5 911.4M243 899.5L254.3 917.4M254.3 899.5L254.3 917.4M243 899.5L243 917.4M260.8 912.3L275.4 912.3M260.8 907.2L275.4 907.2M299.7 899.5L299.7 917.4M299.7 899.5L297.2 902M297.2 902L295.6 902.9M320.7 899.5L312.6 917.4M309.4 899.5L320.7 899.5M336.9 909.7L336.1 914M336.1 902.9L336.9 907.2M326.4 902.9L325.6 907.2M325.6 909.7L326.4 914M336.1 914L334.5 916.5M334.5 900.3L336.1 902.9M328 900.3L326.4 902.9M326.4 914L328 916.5M334.5 916.5L332.1 917.4M332.1 899.5L334.5 900.3M330.4 899.5L328 900.3M328 916.5L330.4 917.4M336.9 907.2L336.9 909.7M325.6 907.2L325.6 909.7M330.4 917.4L332.1 917.4M330.4 899.5L332.1 899.5M344.2 916.5L343.4 917.4M343.4 915.7L344.2 916.5M343.4 915.7L342.6 916.5M342.6 916.5L343.4 917.4M351.5 899.5L359.6 899.5M351.5 899.5L350.7 907.2M361.2 912.3L360.4 914.8M360.4 908L361.2 910.6M358.8 916.5L356.4 917.4M356.4 905.5L358.8 906.3M353.9 905.5L351.5 906.3M351.5 916.5L353.9 917.4M353.9 917.4L356.4 917.4M353.9 905.5L356.4 905.5M360.4 914.8L358.8 916.5M358.8 906.3L360.4 908M349.9 914L350.7 915.7M361.2 910.6L361.2 912.3M351.5 906.3L350.7 907.2M350.7 915.7L351.5 916.5M367.7 899.5L375.8 899.5M367.7 899.5L366.9 907.2M377.4 912.3L376.6 914.8M376.6 908L377.4 910.6M375 916.5L372.6 917.4M372.6 905.5L375 906.3M370.1 905.5L367.7 906.3M367.7 916.5L370.1 917.4M370.1 917.4L372.6 917.4M370.1 905.5L372.6 905.5M376.6 914.8L375 916.5M375 906.3L376.6 908M366.1 914L366.9 915.7M377.4 910.6L377.4 912.3M367.7 906.3L366.9 907.2M366.9 915.7L367.7 916.5M420.3 899.5L413.9 917.4M407.4 899.5L413.9 917.4M420.3 899.5L420.3 917.4M407.4 899.5L407.4 917.4M426.8 905.5L426.8 917.4M427.6 899.5L426.8 900.3M426.8 898.6L427.6 899.5M426.8 898.6L426 899.5M426 899.5L426.8 900.3M433.3 905.5L433.3 917.4M442.2 908.9L442.2 917.4M435.7 906.3L433.3 908.9M441.4 906.3L442.2 908.9M437.3 905.5L439.8 905.5M439.8 905.5L441.4 906.3M437.3 905.5L435.7 906.3M448.7 912.3L463.3 912.3M448.7 907.2L463.3 907.2M487.6 899.5L487.6 917.4M487.6 899.5L485.1 902M485.1 902L483.5 902.9M508.6 909.7L507.8 914M507.8 902.9L508.6 907.2M498.1 902.9L497.3 907.2M497.3 909.7L498.1 914M507.8 914L506.2 916.5M506.2 900.3L507.8 902.9M499.7 900.3L498.1 902.9M498.1 914L499.7 916.5M506.2 916.5L503.8 917.4M503.8 899.5L506.2 900.3M502.1 899.5L499.7 900.3M499.7 916.5L502.1 917.4M508.6 907.2L508.6 909.7M497.3 907.2L497.3 909.7M502.1 917.4L503.8 917.4M502.1 899.5L503.8 899.5M520 899.5L520 917.4M520 899.5L517.5 902M517.5 902L515.9 902.9M532.1 916.5L531.3 917.4M531.3 915.7L532.1 916.5M531.3 915.7L530.5 916.5M530.5 916.5L531.3 917.4M548.3 909.7L547.5 914M548.3 905.5L548.3 909.7M547.5 902L548.3 905.5M547.5 914L545.9 916.5M548.3 905.5L547.5 908M545.9 916.5L543.5 917.4M545.9 909.7L543.5 910.6M543.5 899.5L545.9 900.3M542.6 899.5L540.2 900.3M540.2 909.7L542.6 910.6M539.4 916.5L541.8 917.4M538.6 902L537.8 904.6M537.8 905.5L538.6 908M547.5 908L545.9 909.7M545.9 900.3L547.5 902M540.2 900.3L538.6 902M538.6 908L540.2 909.7M538.6 914.8L539.4 916.5M541.8 917.4L543.5 917.4M542.6 910.6L543.5 910.6M542.6 899.5L543.5 899.5M537.8 904.6L537.8 905.5M565.3 899.5L557.2 917.4M554 899.5L565.3 899.5M608.3 899.5L601.8 917.4M595.3 899.5L601.8 917.4M608.3 899.5L608.3 917.4M595.3 899.5L595.3 917.4M623.6 905.5L623.6 917.4M614.7 908L613.9 910.6M613.9 912.3L614.7 914.8M618 917.4L620.4 917.4M618 905.5L620.4 905.5M623.6 914.8L622 916.5M622 906.3L623.6 908M616.4 906.3L614.7 908M614.7 914.8L616.4 916.5M622 916.5L620.4 917.4M620.4 905.5L622 906.3M618 905.5L616.4 906.3M616.4 916.5L618 917.4M613.9 910.6L613.9 912.3M638.2 905.5L629.3 917.4M629.3 905.5L638.2 917.4M643.9 912.3L658.5 912.3M643.9 907.2L658.5 907.2M684.4 908.9L676.3 917.4M676.3 917.4L687.6 917.4M680.4 899.5L683.6 899.5M686 906.3L684.4 908.9M686.8 904.6L686 906.3M686 901.2L686.8 902.9M683.6 899.5L685.2 900.3M680.4 899.5L678.7 900.3M677.9 901.2L677.1 902.9M686.8 902.9L686.8 904.6M685.2 900.3L686 901.2M678.7 900.3L677.9 901.2M677.1 902.9L677.1 903.8M703.8 909.7L703 914M703 902.9L703.8 907.2M693.3 902.9L692.5 907.2M692.5 909.7L693.3 914M703 914L701.4 916.5M701.4 900.3L703 902.9M694.9 900.3L693.3 902.9M693.3 914L694.9 916.5M701.4 916.5L699 917.4M699 899.5L701.4 900.3M697.4 899.5L694.9 900.3M694.9 916.5L697.4 917.4M703.8 907.2L703.8 909.7M692.5 907.2L692.5 909.7M697.4 917.4L699 917.4M697.4 899.5L699 899.5M716.8 908.9L708.7 917.4M708.7 917.4L720 917.4M712.8 899.5L716 899.5M718.4 906.3L716.8 908.9M719.2 904.6L718.4 906.3M718.4 901.2L719.2 902.9M716 899.5L717.6 900.3M712.8 899.5L711.1 900.3M710.3 901.2L709.5 902.9M719.2 902.9L719.2 904.6M717.6 900.3L718.4 901.2M711.1 900.3L710.3 901.2M709.5 902.9L709.5 903.8M727.3 916.5L726.5 917.4M726.5 915.7L727.3 916.5M726.5 915.7L725.7 916.5M725.7 916.5L726.5 917.4M741.1 908.9L733 917.4M733 917.4L744.3 917.4M737.1 899.5L740.3 899.5M742.7 906.3L741.1 908.9M743.5 904.6L742.7 906.3M742.7 901.2L743.5 902.9M740.3 899.5L741.9 900.3M737.1 899.5L735.4 900.3M734.6 901.2L733.8 902.9M743.5 902.9L743.5 904.6M741.9 900.3L742.7 901.2M735.4 900.3L734.6 901.2M733.8 902.9L733.8 903.8M750.8 899.5L758.9 899.5M750.8 899.5L750 907.2M760.5 912.3L759.7 914.8M759.7 908L760.5 910.6M758.1 916.5L755.7 917.4M755.7 905.5L758.1 906.3M753.3 905.5L750.8 906.3M750.8 916.5L753.3 917.4M753.3 917.4L755.7 917.4M753.3 905.5L755.7 905.5M759.7 914.8L758.1 916.5M758.1 906.3L759.7 908M749.2 914L750 915.7M760.5 910.6L760.5 912.3M750.8 906.3L750 907.2M750 915.7L750.8 916.5" stroke-width="1.5"/>
<path d="M964.5 899.5L958 917.4M951.5 899.5L958 917.4M964.5 899.5L964.5 917.4M951.5 899.5L951.5 917.4M971 899.5L971 917.4M971 917.4L981.5 917.4M971 899.5L981.5 899.5M971 908L977.5 908M990.4 899.5L996.9 917.4M990.4 899.5L983.9 917.4M986.4 911.4L994.5 911.4M1001 899.5L1012.3 917.4M1012.3 899.5L1012.3 917.4M1001 899.5L1001 917.4M1018.8 912.3L1033.4 912.3M1018.8 907.2L1033.4 907.2M1057.7 899.5L1057.7 917.4M1057.7 899.5L1055.2 902M1055.2 902L1053.6 902.9M1069 902.9L1068.2 907.2M1068.2 907.2L1068.2 911.4M1068.2 911.4L1069 914.8M1070.6 900.3L1069 902.9M1078.7 912.3L1077.9 914.8M1077.9 908.9L1078.7 911.4M1076.3 916.5L1073.9 917.4M1074.7 899.5L1077.1 900.3M1073.9 906.3L1076.3 907.2M1073 906.3L1070.6 907.2M1073 899.5L1070.6 900.3M1070.6 916.5L1073 917.4M1069 908.9L1068.2 911.4M1077.9 914.8L1076.3 916.5M1076.3 907.2L1077.9 908.9M1070.6 907.2L1069 908.9M1069 914.8L1070.6 916.5M1077.1 900.3L1077.9 902M1073 899.5L1074.7 899.5M1078.7 911.4L1078.7 912.3M1073 917.4L1073.9 917.4M1073 906.3L1073.9 906.3M1085.2 899.5L1094.1 899.5M1094.1 899.5L1089.2 906.3M1094.9 912.3L1094.1 914.8M1094.1 908L1094.9 910.6M1092.5 916.5L1090.1 917.4M1085.2 916.5L1087.6 917.4M1089.2 906.3L1091.7 906.3M1087.6 917.4L1090.1 917.4M1094.1 914.8L1092.5 916.5M1091.7 906.3L1093.3 907.2M1083.6 914L1084.4 915.7M1094.9 910.6L1094.9 912.3M1093.3 907.2L1094.1 908M1084.4 915.7L1085.2 916.5M1102.2 916.5L1101.4 917.4M1101.4 915.7L1102.2 916.5M1101.4 915.7L1100.6 916.5M1100.6 916.5L1101.4 917.4M1109.5 902.9L1108.7 907.2M1108.7 907.2L1108.7 911.4M1108.7 911.4L1109.5 914.8M1111.1 900.3L1109.5 902.9M1119.2 912.3L1118.4 914.8M1118.4 908.9L1119.2 911.4M1116.8 916.5L1114.4 917.4M1115.2 899.5L1117.6 900.3M1114.4 906.3L1116.8 907.2M1113.5 906.3L1111.1 907.2M1113.5 899.5L1111.1 900.3M1111.1 916.5L1113.5 917.4M1109.5 908.9L1108.7 911.4M1118.4 914.8L1116.8 916.5M1116.8 907.2L1118.4 908.9M1111.1 907.2L1109.5 908.9M1109.5 914.8L1111.1 916.5M1117.6 900.3L1118.4 902M1113.5 899.5L1115.2 899.5M1119.2 911.4L1119.2 912.3M1113.5 917.4L1114.4 917.4M1113.5 906.3L1114.4 906.3M1130.6 899.5L1130.6 917.4M1130.6 899.5L1128.1 902M1128.1 902L1126.5 902.9M1178.3 899.5L1171.9 917.4M1165.4 899.5L1171.9 917.4M1178.3 899.5L1178.3 917.4M1165.4 899.5L1165.4 917.4M1184.8 905.5L1184.8 917.4M1185.6 899.5L1184.8 900.3M1184.8 898.6L1185.6 899.5M1184.8 898.6L1184 899.5M1184 899.5L1184.8 900.3M1191.3 905.5L1191.3 917.4M1200.2 908.9L1200.2 917.4M1193.7 906.3L1191.3 908.9M1199.4 906.3L1200.2 908.9M1195.4 905.5L1197.8 905.5M1197.8 905.5L1199.4 906.3M1195.4 905.5L1193.7 906.3M1206.7 912.3L1221.3 912.3M1206.7 907.2L1221.3 907.2M1261.8 909.7L1261 914M1261.8 905.5L1261.8 909.7M1261 902L1261.8 905.5M1261 914L1259.3 916.5M1261.8 905.5L1261 908M1259.3 916.5L1256.9 917.4M1259.3 909.7L1256.9 910.6M1256.9 899.5L1259.3 900.3M1256.1 899.5L1253.7 900.3M1253.7 909.7L1256.1 910.6M1252.9 916.5L1255.3 917.4M1252.1 902L1251.2 904.6M1251.2 905.5L1252.1 908M1261 908L1259.3 909.7M1259.3 900.3L1261 902M1253.7 900.3L1252.1 902M1252.1 908L1253.7 909.7M1252.1 914.8L1252.9 916.5M1255.3 917.4L1256.9 917.4M1256.1 910.6L1256.9 910.6M1256.1 899.5L1256.9 899.5M1251.2 904.6L1251.2 905.5M1278.8 899.5L1270.7 917.4M1267.4 899.5L1278.8 899.5M1286.1 916.5L1285.3 917.4M1285.3 915.7L1286.1 916.5M1285.3 915.7L1284.5 916.5M1284.5 916.5L1285.3 917.4M1293.4 899.5L1301.5 899.5M1293.4 899.5L1292.6 907.2M1303.1 912.3L1302.3 914.8M1302.3 908L1303.1 910.6M1300.7 916.5L1298.2 917.4M1298.2 905.5L1300.7 906.3M1295.8 905.5L1293.4 906.3M1293.4 916.5L1295.8 917.4M1295.8 917.4L1298.2 917.4M1295.8 905.5L1298.2 905.5M1302.3 914.8L1300.7 916.5M1300.7 906.3L1302.3 908M1291.7 914L1292.6 915.7M1303.1 910.6L1303.1 912.3M1293.4 906.3L1292.6 907.2M1292.6 915.7L1293.4 916.5M1309.6 902.9L1308.8 907.2M1308.8 907.2L1308.8 911.4M1308.8 911.4L1309.6 914.8M1311.2 900.3L1309.6 902.9M1319.3 912.3L1318.5 914.8M1318.5 908.9L1319.3 911.4M1316.9 916.5L1314.4 917.4M1315.2 899.5L1317.7 900.3M1314.4 906.3L1316.9 907.2M1313.6 906.3L1311.2 907.2M1313.6 899.5L1311.2 900.3M1311.2 916.5L1313.6 917.4M1309.6 908.9L1308.8 911.4M1318.5 914.8L1316.9 916.5M1316.9 907.2L1318.5 908.9M1311.2 907.2L1309.6 908.9M1309.6 914.8L1311.2 916.5M1317.7 900.3L1318.5 902M1313.6 899.5L1315.2 899.5M1319.3 911.4L1319.3 912.3M1313.6 917.4L1314.4 917.4M1313.6 906.3L1314.4 906.3M1362.2 899.5L1355.7 917.4M1349.3 899.5L1355.7 917.4M1362.2 899.5L1362.2 917.4M1349.3 899.5L1349.3 917.4M1377.6 905.5L1377.6 917.4M1368.7 908L1367.9 910.6M1367.9 912.3L1368.7 914.8M1371.9 917.4L1374.4 917.4M1371.9 905.5L1374.4 905.5M1377.6 914.8L1376 916.5M1376 906.3L1377.6 908M1370.3 906.3L1368.7 908M1368.7 914.8L1370.3 916.5M1376 916.5L1374.4 917.4M1374.4 905.5L1376 906.3M1371.9 905.5L1370.3 906.3M1370.3 916.5L1371.9 917.4M1367.9 910.6L1367.9 912.3M1392.2 905.5L1383.3 917.4M1383.3 905.5L1392.2 917.4M1397.9 912.3L1412.4 912.3M1397.9 907.2L1412.4 907.2M1438.4 908.9L1430.3 917.4M1430.3 917.4L1441.6 917.4M1434.3 899.5L1437.5 899.5M1440 906.3L1438.4 908.9M1440.8 904.6L1440 906.3M1440 901.2L1440.8 902.9M1437.5 899.5L1439.2 900.3M1434.3 899.5L1432.7 900.3M1431.9 901.2L1431.1 902.9M1440.8 902.9L1440.8 904.6M1439.2 900.3L1440 901.2M1432.7 900.3L1431.9 901.2M1431.1 902.9L1431.1 903.8M1457.8 909.7L1457 914M1457 902.9L1457.8 907.2M1447.3 902.9L1446.5 907.2M1446.5 909.7L1447.3 914M1457 914L1455.4 916.5M1455.4 900.3L1457 902.9M1448.9 900.3L1447.3 902.9M1447.3 914L1448.9 916.5M1455.4 916.5L1452.9 917.4M1452.9 899.5L1455.4 900.3M1451.3 899.5L1448.9 900.3M1448.9 916.5L1451.3 917.4M1457.8 907.2L1457.8 909.7M1446.5 907.2L1446.5 909.7M1451.3 917.4L1452.9 917.4M1451.3 899.5L1452.9 899.5M1469.1 899.5L1469.1 917.4M1469.1 899.5L1466.7 902M1466.7 902L1465.1 902.9M1481.3 916.5L1480.5 917.4M1480.5 915.7L1481.3 916.5M1480.5 915.7L1479.7 916.5M1479.7 916.5L1480.5 917.4M1498.3 909.7L1497.5 914M1497.5 902.9L1498.3 907.2M1487.8 902.9L1487 907.2M1487 909.7L1487.8 914M1497.5 914L1495.9 916.5M1495.9 900.3L1497.5 902.9M1489.4 900.3L1487.8 902.9M1487.8 914L1489.4 916.5M1495.9 916.5L1493.4 917.4M1493.4 899.5L1495.9 900.3M1491.8 899.5L1489.4 900.3M1489.4 916.5L1491.8 917.4M1498.3 907.2L1498.3 909.7M1487 907.2L1487 909.7M1491.8 917.4L1493.4 917.4M1491.8 899.5L1493.4 899.5M1504.8 899.5L1513.7 899.5M1513.7 899.5L1508.8 906.3M1514.5 912.3L1513.7 914.8M1513.7 908L1514.5 910.6M1512.1 916.5L1509.6 917.4M1504.8 916.5L1507.2 917.4M1508.8 906.3L1511.3 906.3M1507.2 917.4L1509.6 917.4M1513.7 914.8L1512.1 916.5M1511.3 906.3L1512.9 907.2M1503.2 914L1504 915.7M1514.5 910.6L1514.5 912.3M1512.9 907.2L1513.7 908M1504 915.7L1504.8 916.5" stroke-width="1.5"/>
<path d="M215.9 980.6L215.9 997.6M215.9 980.6L213.5 983M213.5 983L212 983.8M226.8 980.6L235.4 980.6M235.4 980.6L230.7 987.1M236.2 992.7L235.4 995.2M235.4 988.7L236.2 991.1M233.8 996.8L231.5 997.6M226.8 996.8L229.1 997.6M230.7 987.1L233 987.1M229.1 997.6L231.5 997.6M235.4 995.2L233.8 996.8M233 987.1L234.6 987.9M225.2 994.4L226 996M236.2 991.1L236.2 992.7M234.6 987.9L235.4 988.7M226 996L226.8 996.8M251.8 990.3L251 994.4M251 983.8L251.8 987.9M241.6 983.8L240.8 987.9M240.8 990.3L241.6 994.4M251 994.4L249.4 996.8M249.4 981.4L251 983.8M243.2 981.4L241.6 983.8M241.6 994.4L243.2 996.8M249.4 996.8L247.1 997.6M247.1 980.6L249.4 981.4M245.5 980.6L243.2 981.4M243.2 996.8L245.5 997.6M251.8 987.9L251.8 990.3M240.8 987.9L240.8 990.3M245.5 997.6L247.1 997.6M245.5 980.6L247.1 980.6" stroke-width="1.45"/>
<path d="M286.3 980.6L286.3 997.6M286.3 980.6L283.9 983M283.9 983L282.4 983.8M297.2 980.6L305 980.6M297.2 980.6L296.4 987.9M306.6 992.7L305.8 995.2M305.8 988.7L306.6 991.1M304.2 996.8L301.9 997.6M301.9 986.3L304.2 987.1M299.5 986.3L297.2 987.1M297.2 996.8L299.5 997.6M299.5 997.6L301.9 997.6M299.5 986.3L301.9 986.3M305.8 995.2L304.2 996.8M304.2 987.1L305.8 988.7M295.6 994.4L296.4 996M306.6 991.1L306.6 992.7M297.2 987.1L296.4 987.9M296.4 996L297.2 996.8M322.2 990.3L321.4 994.4M321.4 983.8L322.2 987.9M312 983.8L311.2 987.9M311.2 990.3L312 994.4M321.4 994.4L319.8 996.8M319.8 981.4L321.4 983.8M313.6 981.4L312 983.8M312 994.4L313.6 996.8M319.8 996.8L317.5 997.6M317.5 980.6L319.8 981.4M315.9 980.6L313.6 981.4M313.6 996.8L315.9 997.6M322.2 987.9L322.2 990.3M311.2 987.9L311.2 990.3M315.9 997.6L317.5 997.6M315.9 980.6L317.5 980.6" stroke-width="1.45"/>
<path d="M356.7 980.6L356.7 997.6M356.7 980.6L354.3 983M354.3 983L352.8 983.8M377 980.6L369.2 997.6M366 980.6L377 980.6M392.6 990.3L391.8 994.4M391.8 983.8L392.6 987.9M382.4 983.8L381.6 987.9M381.6 990.3L382.4 994.4M391.8 994.4L390.2 996.8M390.2 981.4L391.8 983.8M384 981.4L382.4 983.8M382.4 994.4L384 996.8M390.2 996.8L387.9 997.6M387.9 980.6L390.2 981.4M386.3 980.6L384 981.4M384 996.8L386.3 997.6M392.6 987.9L392.6 990.3M381.6 987.9L381.6 990.3M386.3 997.6L387.9 997.6M386.3 980.6L387.9 980.6" stroke-width="1.45"/>
<path d="M427.1 980.6L427.1 997.6M427.1 980.6L424.7 983M424.7 983L423.2 983.8M446.6 990.3L445.8 994.4M446.6 986.3L446.6 990.3M445.8 983L446.6 986.3M445.8 994.4L444.2 996.8M446.6 986.3L445.8 988.7M444.2 996.8L441.9 997.6M444.2 990.3L441.9 991.1M441.9 980.6L444.2 981.4M441.1 980.6L438.8 981.4M438.8 990.3L441.1 991.1M438 996.8L440.3 997.6M437.2 983L436.4 985.5M436.4 986.3L437.2 988.7M445.8 988.7L444.2 990.3M444.2 981.4L445.8 983M438.8 981.4L437.2 983M437.2 988.7L438.8 990.3M437.2 995.2L438 996.8M440.3 997.6L441.9 997.6M441.1 991.1L441.9 991.1M441.1 980.6L441.9 980.6M436.4 985.5L436.4 986.3M463 990.3L462.2 994.4M462.2 983.8L463 987.9M452.8 983.8L452 987.9M452 990.3L452.8 994.4M462.2 994.4L460.6 996.8M460.6 981.4L462.2 983.8M454.4 981.4L452.8 983.8M452.8 994.4L454.4 996.8M460.6 996.8L458.3 997.6M458.3 980.6L460.6 981.4M456.7 980.6L454.4 981.4M454.4 996.8L456.7 997.6M463 987.9L463 990.3M452 987.9L452 990.3M456.7 997.6L458.3 997.6M456.7 980.6L458.3 980.6" stroke-width="1.45"/>
<path d="M499 989.5L491.2 997.6M491.2 997.6L502.2 997.6M495.1 980.6L498.3 980.6M500.6 987.1L499 989.5M501.4 985.5L500.6 987.1M500.6 982.2L501.4 983.8M498.3 980.6L499.8 981.4M495.1 980.6L493.6 981.4M492.8 982.2L492 983.8M501.4 983.8L501.4 985.5M499.8 981.4L500.6 982.2M493.6 981.4L492.8 982.2M492 983.8L492 984.6M513.1 980.6L513.1 997.6M513.1 980.6L510.7 983M510.7 983L509.2 983.8M533.4 990.3L532.6 994.4M532.6 983.8L533.4 987.9M523.2 983.8L522.4 987.9M522.4 990.3L523.2 994.4M532.6 994.4L531 996.8M531 981.4L532.6 983.8M524.8 981.4L523.2 983.8M523.2 994.4L524.8 996.8M531 996.8L528.7 997.6M528.7 980.6L531 981.4M527.1 980.6L524.8 981.4M524.8 996.8L527.1 997.6M533.4 987.9L533.4 990.3M522.4 987.9L522.4 990.3M527.1 997.6L528.7 997.6M527.1 980.6L528.7 980.6" stroke-width="1.45"/>
<path d="M569.4 989.5L561.6 997.6M561.6 997.6L572.6 997.6M565.5 980.6L568.7 980.6M571 987.1L569.4 989.5M571.8 985.5L571 987.1M571 982.2L571.8 983.8M568.7 980.6L570.2 981.4M565.5 980.6L564 981.4M563.2 982.2L562.4 983.8M571.8 983.8L571.8 985.5M570.2 981.4L571 982.2M564 981.4L563.2 982.2M562.4 983.8L562.4 984.6M578.8 980.6L587.4 980.6M587.4 980.6L582.7 987.1M588.2 992.7L587.4 995.2M587.4 988.7L588.2 991.1M585.8 996.8L583.5 997.6M578.8 996.8L581.1 997.6M582.7 987.1L585 987.1M581.1 997.6L583.5 997.6M587.4 995.2L585.8 996.8M585 987.1L586.6 987.9M577.2 994.4L578 996M588.2 991.1L588.2 992.7M586.6 987.9L587.4 988.7M578 996L578.8 996.8M603.8 990.3L603 994.4M603 983.8L603.8 987.9M593.6 983.8L592.8 987.9M592.8 990.3L593.6 994.4M603 994.4L601.4 996.8M601.4 981.4L603 983.8M595.2 981.4L593.6 983.8M593.6 994.4L595.2 996.8M601.4 996.8L599.1 997.6M599.1 980.6L601.4 981.4M597.5 980.6L595.2 981.4M595.2 996.8L597.5 997.6M603.8 987.9L603.8 990.3M592.8 987.9L592.8 990.3M597.5 997.6L599.1 997.6M597.5 980.6L599.1 980.6" stroke-width="1.45"/>
<path d="M639.8 989.5L632 997.6M632 997.6L643 997.6M635.9 980.6L639.1 980.6M641.4 987.1L639.8 989.5M642.2 985.5L641.4 987.1M641.4 982.2L642.2 983.8M639.1 980.6L640.6 981.4M635.9 980.6L634.4 981.4M633.6 982.2L632.8 983.8M642.2 983.8L642.2 985.5M640.6 981.4L641.4 982.2M634.4 981.4L633.6 982.2M632.8 983.8L632.8 984.6M649.2 980.6L657 980.6M649.2 980.6L648.4 987.9M658.6 992.7L657.8 995.2M657.8 988.7L658.6 991.1M656.2 996.8L653.9 997.6M653.9 986.3L656.2 987.1M651.5 986.3L649.2 987.1M649.2 996.8L651.5 997.6M651.5 997.6L653.9 997.6M651.5 986.3L653.9 986.3M657.8 995.2L656.2 996.8M656.2 987.1L657.8 988.7M647.6 994.4L648.4 996M658.6 991.1L658.6 992.7M649.2 987.1L648.4 987.9M648.4 996L649.2 996.8M674.2 990.3L673.4 994.4M673.4 983.8L674.2 987.9M664 983.8L663.2 987.9M663.2 990.3L664 994.4M673.4 994.4L671.8 996.8M671.8 981.4L673.4 983.8M665.6 981.4L664 983.8M664 994.4L665.6 996.8M671.8 996.8L669.5 997.6M669.5 980.6L671.8 981.4M667.9 980.6L665.6 981.4M665.6 996.8L667.9 997.6M674.2 987.9L674.2 990.3M663.2 987.9L663.2 990.3M667.9 997.6L669.5 997.6M667.9 980.6L669.5 980.6" stroke-width="1.45"/>
<path d="M710.2 989.5L702.4 997.6M702.4 997.6L713.4 997.6M706.3 980.6L709.5 980.6M711.8 987.1L710.2 989.5M712.6 985.5L711.8 987.1M711.8 982.2L712.6 983.8M709.5 980.6L711 981.4M706.3 980.6L704.8 981.4M704 982.2L703.2 983.8M712.6 983.8L712.6 985.5M711 981.4L711.8 982.2M704.8 981.4L704 982.2M703.2 983.8L703.2 984.6M729 980.6L721.2 997.6M718 980.6L729 980.6M744.6 990.3L743.8 994.4M743.8 983.8L744.6 987.9M734.4 983.8L733.6 987.9M733.6 990.3L734.4 994.4M743.8 994.4L742.2 996.8M742.2 981.4L743.8 983.8M736 981.4L734.4 983.8M734.4 994.4L736 996.8M742.2 996.8L739.9 997.6M739.9 980.6L742.2 981.4M738.3 980.6L736 981.4M736 996.8L738.3 997.6M744.6 987.9L744.6 990.3M733.6 987.9L733.6 990.3M738.3 997.6L739.9 997.6M738.3 980.6L739.9 980.6" stroke-width="1.45"/>
<path d="M971.9 980.6L971.9 997.6M971.9 980.6L969.5 983M969.5 983L968 983.8M982.8 980.6L991.4 980.6M991.4 980.6L986.7 987.1M992.2 992.7L991.4 995.2M991.4 988.7L992.2 991.1M989.8 996.8L987.5 997.6M982.8 996.8L985.1 997.6M986.7 987.1L989 987.1M985.1 997.6L987.5 997.6M991.4 995.2L989.8 996.8M989 987.1L990.6 987.9M981.2 994.4L982 996M992.2 991.1L992.2 992.7M990.6 987.9L991.4 988.7M982 996L982.8 996.8M1007.8 990.3L1007 994.4M1007 983.8L1007.8 987.9M997.6 983.8L996.8 987.9M996.8 990.3L997.6 994.4M1007 994.4L1005.4 996.8M1005.4 981.4L1007 983.8M999.2 981.4L997.6 983.8M997.6 994.4L999.2 996.8M1005.4 996.8L1003.1 997.6M1003.1 980.6L1005.4 981.4M1001.5 980.6L999.2 981.4M999.2 996.8L1001.5 997.6M1007.8 987.9L1007.8 990.3M996.8 987.9L996.8 990.3M1001.5 997.6L1003.1 997.6M1001.5 980.6L1003.1 980.6" stroke-width="1.45"/>
<path d="M1042.3 980.6L1042.3 997.6M1042.3 980.6L1039.9 983M1039.9 983L1038.4 983.8M1053.2 980.6L1061 980.6M1053.2 980.6L1052.4 987.9M1062.6 992.7L1061.8 995.2M1061.8 988.7L1062.6 991.1M1060.2 996.8L1057.9 997.6M1057.9 986.3L1060.2 987.1M1055.5 986.3L1053.2 987.1M1053.2 996.8L1055.5 997.6M1055.5 997.6L1057.9 997.6M1055.5 986.3L1057.9 986.3M1061.8 995.2L1060.2 996.8M1060.2 987.1L1061.8 988.7M1051.6 994.4L1052.4 996M1062.6 991.1L1062.6 992.7M1053.2 987.1L1052.4 987.9M1052.4 996L1053.2 996.8M1078.2 990.3L1077.4 994.4M1077.4 983.8L1078.2 987.9M1068 983.8L1067.2 987.9M1067.2 990.3L1068 994.4M1077.4 994.4L1075.8 996.8M1075.8 981.4L1077.4 983.8M1069.6 981.4L1068 983.8M1068 994.4L1069.6 996.8M1075.8 996.8L1073.5 997.6M1073.5 980.6L1075.8 981.4M1071.9 980.6L1069.6 981.4M1069.6 996.8L1071.9 997.6M1078.2 987.9L1078.2 990.3M1067.2 987.9L1067.2 990.3M1071.9 997.6L1073.5 997.6M1071.9 980.6L1073.5 980.6" stroke-width="1.45"/>
<path d="M1112.7 980.6L1112.7 997.6M1112.7 980.6L1110.3 983M1110.3 983L1108.8 983.8M1133 980.6L1125.2 997.6M1122 980.6L1133 980.6M1148.6 990.3L1147.8 994.4M1147.8 983.8L1148.6 987.9M1138.4 983.8L1137.6 987.9M1137.6 990.3L1138.4 994.4M1147.8 994.4L1146.2 996.8M1146.2 981.4L1147.8 983.8M1140 981.4L1138.4 983.8M1138.4 994.4L1140 996.8M1146.2 996.8L1143.9 997.6M1143.9 980.6L1146.2 981.4M1142.3 980.6L1140 981.4M1140 996.8L1142.3 997.6M1148.6 987.9L1148.6 990.3M1137.6 987.9L1137.6 990.3M1142.3 997.6L1143.9 997.6M1142.3 980.6L1143.9 980.6" stroke-width="1.45"/>
<path d="M1183.1 980.6L1183.1 997.6M1183.1 980.6L1180.7 983M1180.7 983L1179.2 983.8M1202.6 990.3L1201.8 994.4M1202.6 986.3L1202.6 990.3M1201.8 983L1202.6 986.3M1201.8 994.4L1200.2 996.8M1202.6 986.3L1201.8 988.7M1200.2 996.8L1197.9 997.6M1200.2 990.3L1197.9 991.1M1197.9 980.6L1200.2 981.4M1197.1 980.6L1194.8 981.4M1194.8 990.3L1197.1 991.1M1194 996.8L1196.3 997.6M1193.2 983L1192.4 985.5M1192.4 986.3L1193.2 988.7M1201.8 988.7L1200.2 990.3M1200.2 981.4L1201.8 983M1194.8 981.4L1193.2 983M1193.2 988.7L1194.8 990.3M1193.2 995.2L1194 996.8M1196.3 997.6L1197.9 997.6M1197.1 991.1L1197.9 991.1M1197.1 980.6L1197.9 980.6M1192.4 985.5L1192.4 986.3M1219 990.3L1218.2 994.4M1218.2 983.8L1219 987.9M1208.8 983.8L1208 987.9M1208 990.3L1208.8 994.4M1218.2 994.4L1216.6 996.8M1216.6 981.4L1218.2 983.8M1210.4 981.4L1208.8 983.8M1208.8 994.4L1210.4 996.8M1216.6 996.8L1214.3 997.6M1214.3 980.6L1216.6 981.4M1212.7 980.6L1210.4 981.4M1210.4 996.8L1212.7 997.6M1219 987.9L1219 990.3M1208 987.9L1208 990.3M1212.7 997.6L1214.3 997.6M1212.7 980.6L1214.3 980.6" stroke-width="1.45"/>
<path d="M1255 989.5L1247.2 997.6M1247.2 997.6L1258.2 997.6M1251.1 980.6L1254.3 980.6M1256.6 987.1L1255 989.5M1257.4 985.5L1256.6 987.1M1256.6 982.2L1257.4 983.8M1254.3 980.6L1255.8 981.4M1251.1 980.6L1249.6 981.4M1248.8 982.2L1248 983.8M1257.4 983.8L1257.4 985.5M1255.8 981.4L1256.6 982.2M1249.6 981.4L1248.8 982.2M1248 983.8L1248 984.6M1269.1 980.6L1269.1 997.6M1269.1 980.6L1266.7 983M1266.7 983L1265.2 983.8M1289.4 990.3L1288.6 994.4M1288.6 983.8L1289.4 987.9M1279.2 983.8L1278.4 987.9M1278.4 990.3L1279.2 994.4M1288.6 994.4L1287 996.8M1287 981.4L1288.6 983.8M1280.8 981.4L1279.2 983.8M1279.2 994.4L1280.8 996.8M1287 996.8L1284.7 997.6M1284.7 980.6L1287 981.4M1283.1 980.6L1280.8 981.4M1280.8 996.8L1283.1 997.6M1289.4 987.9L1289.4 990.3M1278.4 987.9L1278.4 990.3M1283.1 997.6L1284.7 997.6M1283.1 980.6L1284.7 980.6" stroke-width="1.45"/>
<path d="M1325.4 989.5L1317.6 997.6M1317.6 997.6L1328.6 997.6M1321.5 980.6L1324.7 980.6M1327 987.1L1325.4 989.5M1327.8 985.5L1327 987.1M1327 982.2L1327.8 983.8M1324.7 980.6L1326.2 981.4M1321.5 980.6L1320 981.4M1319.2 982.2L1318.4 983.8M1327.8 983.8L1327.8 985.5M1326.2 981.4L1327 982.2M1320 981.4L1319.2 982.2M1318.4 983.8L1318.4 984.6M1334.8 980.6L1343.4 980.6M1343.4 980.6L1338.7 987.1M1344.2 992.7L1343.4 995.2M1343.4 988.7L1344.2 991.1M1341.8 996.8L1339.5 997.6M1334.8 996.8L1337.1 997.6M1338.7 987.1L1341 987.1M1337.1 997.6L1339.5 997.6M1343.4 995.2L1341.8 996.8M1341 987.1L1342.6 987.9M1333.2 994.4L1334 996M1344.2 991.1L1344.2 992.7M1342.6 987.9L1343.4 988.7M1334 996L1334.8 996.8M1359.8 990.3L1359 994.4M1359 983.8L1359.8 987.9M1349.6 983.8L1348.8 987.9M1348.8 990.3L1349.6 994.4M1359 994.4L1357.4 996.8M1357.4 981.4L1359 983.8M1351.2 981.4L1349.6 983.8M1349.6 994.4L1351.2 996.8M1357.4 996.8L1355.1 997.6M1355.1 980.6L1357.4 981.4M1353.5 980.6L1351.2 981.4M1351.2 996.8L1353.5 997.6M1359.8 987.9L1359.8 990.3M1348.8 987.9L1348.8 990.3M1353.5 997.6L1355.1 997.6M1353.5 980.6L1355.1 980.6" stroke-width="1.45"/>
<path d="M1395.8 989.5L1388 997.6M1388 997.6L1399 997.6M1391.9 980.6L1395.1 980.6M1397.4 987.1L1395.8 989.5M1398.2 985.5L1397.4 987.1M1397.4 982.2L1398.2 983.8M1395.1 980.6L1396.6 981.4M1391.9 980.6L1390.4 981.4M1389.6 982.2L1388.8 983.8M1398.2 983.8L1398.2 985.5M1396.6 981.4L1397.4 982.2M1390.4 981.4L1389.6 982.2M1388.8 983.8L1388.8 984.6M1405.2 980.6L1413 980.6M1405.2 980.6L1404.4 987.9M1414.6 992.7L1413.8 995.2M1413.8 988.7L1414.6 991.1M1412.2 996.8L1409.9 997.6M1409.9 986.3L1412.2 987.1M1407.5 986.3L1405.2 987.1M1405.2 996.8L1407.5 997.6M1407.5 997.6L1409.9 997.6M1407.5 986.3L1409.9 986.3M1413.8 995.2L1412.2 996.8M1412.2 987.1L1413.8 988.7M1403.6 994.4L1404.4 996M1414.6 991.1L1414.6 992.7M1405.2 987.1L1404.4 987.9M1404.4 996L1405.2 996.8M1430.2 990.3L1429.4 994.4M1429.4 983.8L1430.2 987.9M1420 983.8L1419.2 987.9M1419.2 990.3L1420 994.4M1429.4 994.4L1427.8 996.8M1427.8 981.4L1429.4 983.8M1421.6 981.4L1420 983.8M1420 994.4L1421.6 996.8M1427.8 996.8L1425.5 997.6M1425.5 980.6L1427.8 981.4M1423.9 980.6L1421.6 981.4M1421.6 996.8L1423.9 997.6M1430.2 987.9L1430.2 990.3M1419.2 987.9L1419.2 990.3M1423.9 997.6L1425.5 997.6M1423.9 980.6L1425.5 980.6" stroke-width="1.45"/>
<path d="M1466.2 989.5L1458.4 997.6M1458.4 997.6L1469.4 997.6M1462.3 980.6L1465.5 980.6M1467.8 987.1L1466.2 989.5M1468.6 985.5L1467.8 987.1M1467.8 982.2L1468.6 983.8M1465.5 980.6L1467 981.4M1462.3 980.6L1460.8 981.4M1460 982.2L1459.2 983.8M1468.6 983.8L1468.6 985.5M1467 981.4L1467.8 982.2M1460.8 981.4L1460 982.2M1459.2 983.8L1459.2 984.6M1485 980.6L1477.2 997.6M1474 980.6L1485 980.6M1500.6 990.3L1499.8 994.4M1499.8 983.8L1500.6 987.9M1490.4 983.8L1489.6 987.9M1489.6 990.3L1490.4 994.4M1499.8 994.4L1498.2 996.8M1498.2 981.4L1499.8 983.8M1492 981.4L1490.4 983.8M1490.4 994.4L1492 996.8M1498.2 996.8L1495.9 997.6M1495.9 980.6L1498.2 981.4M1494.3 980.6L1492 981.4M1492 996.8L1494.3 997.6M1500.6 987.9L1500.6 990.3M1489.6 987.9L1489.6 990.3M1494.3 997.6L1495.9 997.6M1494.3 980.6L1495.9 980.6" stroke-width="1.45"/>
<path d="M1192.3 1258.3L1185.7 1275.5M1179.2 1258.3L1185.7 1275.5M1192.3 1258.3L1192.3 1275.5M1179.2 1258.3L1179.2 1275.5M1198.9 1258.3L1198.9 1275.5M1205.4 1258.3L1216.9 1275.5M1216.9 1258.3L1216.9 1275.5M1205.4 1258.3L1205.4 1275.5" stroke-width="1.5"/>
<path d="M1235.4 1270.6L1250.1 1270.6M1235.4 1265.7L1250.1 1265.7" stroke-width="1.5"/>
<path d="M1281.9 1268.1L1296.6 1268.1M1304 1258.3L1312.2 1258.3M1304 1258.3L1303.2 1265.7M1313.9 1270.6L1313 1273M1313 1266.5L1313.9 1268.9M1311.4 1274.7L1308.9 1275.5M1308.9 1264L1311.4 1264.8M1306.5 1264L1304 1264.8M1304 1274.7L1306.5 1275.5M1306.5 1275.5L1308.9 1275.5M1306.5 1264L1308.9 1264M1313 1273L1311.4 1274.7M1311.4 1264.8L1313 1266.5M1302.4 1272.2L1303.2 1273.9M1313.9 1268.9L1313.9 1270.6M1304 1264.8L1303.2 1265.7M1303.2 1273.9L1304 1274.7M1321.2 1274.7L1320.4 1275.5M1320.4 1273.9L1321.2 1274.7M1320.4 1273.9L1319.6 1274.7M1319.6 1274.7L1320.4 1275.5M1328.6 1261.6L1327.8 1265.7M1327.8 1265.7L1327.8 1269.8M1327.8 1269.8L1328.6 1273M1330.3 1259.1L1328.6 1261.6M1338.5 1270.6L1337.6 1273M1337.6 1267.3L1338.5 1269.8M1336 1274.7L1333.5 1275.5M1334.4 1258.3L1336.8 1259.1M1333.5 1264.8L1336 1265.7M1332.7 1264.8L1330.3 1265.7M1332.7 1258.3L1330.3 1259.1M1330.3 1274.7L1332.7 1275.5M1328.6 1267.3L1327.8 1269.8M1337.6 1273L1336 1274.7M1336 1265.7L1337.6 1267.3M1330.3 1265.7L1328.6 1267.3M1328.6 1273L1330.3 1274.7M1336.8 1259.1L1337.6 1260.7M1332.7 1258.3L1334.4 1258.3M1338.5 1269.8L1338.5 1270.6M1332.7 1275.5L1333.5 1275.5M1332.7 1264.8L1333.5 1264.8M1349.9 1258.3L1349.9 1275.5M1349.9 1258.3L1347.5 1260.7M1347.5 1260.7L1345.8 1261.6" stroke-width="1.5"/>
<path d="M1384.8 1258.3L1378.2 1275.5M1371.7 1258.3L1378.2 1275.5M1384.8 1258.3L1384.8 1275.5M1371.7 1258.3L1371.7 1275.5M1395.5 1258.3L1402 1275.5M1395.5 1258.3L1388.9 1275.5M1391.4 1269.8L1399.6 1269.8M1416.8 1258.3L1405.3 1275.5M1405.3 1258.3L1416.8 1275.5" stroke-width="1.5"/>
<path d="M1434 1270.6L1448.7 1270.6M1434 1265.7L1448.7 1265.7" stroke-width="1.5"/>
<path d="M1486 1258.3L1486 1275.5M1486 1258.3L1483.6 1260.7M1483.6 1260.7L1481.9 1261.6M1497.5 1261.6L1496.7 1265.7M1496.7 1265.7L1496.7 1269.8M1496.7 1269.8L1497.5 1273M1499.1 1259.1L1497.5 1261.6M1507.3 1270.6L1506.5 1273M1506.5 1267.3L1507.3 1269.8M1504.9 1274.7L1502.4 1275.5M1503.2 1258.3L1505.7 1259.1M1502.4 1264.8L1504.9 1265.7M1501.6 1264.8L1499.1 1265.7M1501.6 1258.3L1499.1 1259.1M1499.1 1274.7L1501.6 1275.5M1497.5 1267.3L1496.7 1269.8M1506.5 1273L1504.9 1274.7M1504.9 1265.7L1506.5 1267.3M1499.1 1265.7L1497.5 1267.3M1497.5 1273L1499.1 1274.7M1505.7 1259.1L1506.5 1260.7M1501.6 1258.3L1503.2 1258.3M1507.3 1269.8L1507.3 1270.6M1501.6 1275.5L1502.4 1275.5M1501.6 1264.8L1502.4 1264.8M1514.7 1274.7L1513.9 1275.5M1513.9 1273.9L1514.7 1274.7M1513.9 1273.9L1513.1 1274.7M1513.1 1274.7L1513.9 1275.5M1528.7 1267.3L1520.5 1275.5M1520.5 1275.5L1531.9 1275.5M1524.6 1258.3L1527.8 1258.3M1530.3 1264.8L1528.7 1267.3M1531.1 1263.2L1530.3 1264.8M1530.3 1259.9L1531.1 1261.6M1527.8 1258.3L1529.5 1259.1M1524.6 1258.3L1522.9 1259.1M1522.1 1259.9L1521.3 1261.6M1531.1 1261.6L1531.1 1263.2M1529.5 1259.1L1530.3 1259.9M1522.9 1259.1L1522.1 1259.9M1521.3 1261.6L1521.3 1262.4M1545.1 1267.3L1536.9 1275.5M1536.9 1275.5L1548.3 1275.5M1541 1258.3L1544.2 1258.3M1546.7 1264.8L1545.1 1267.3M1547.5 1263.2L1546.7 1264.8M1546.7 1259.9L1547.5 1261.6M1544.2 1258.3L1545.9 1259.1M1541 1258.3L1539.3 1259.1M1538.5 1259.9L1537.7 1261.6M1547.5 1261.6L1547.5 1263.2M1545.9 1259.1L1546.7 1259.9M1539.3 1259.1L1538.5 1259.9M1537.7 1261.6L1537.7 1262.4" stroke-width="1.5"/>
<path d="M1380.4 1765.7L1393.8 1765.7M1406.5 1764.9L1399 1772.4M1399 1772.4L1409.4 1772.4M1402.7 1756.7L1405.7 1756.7M1408 1762.7L1406.5 1764.9M1408.7 1761.2L1408 1762.7M1408 1758.2L1408.7 1759.7M1405.7 1756.7L1407.2 1757.4M1402.7 1756.7L1401.3 1757.4M1400.5 1758.2L1399.8 1759.7M1408.7 1759.7L1408.7 1761.2M1407.2 1757.4L1408 1758.2M1401.3 1757.4L1400.5 1758.2M1399.8 1759.7L1399.8 1760.4M1424.3 1765.7L1423.6 1769.4M1423.6 1759.7L1424.3 1763.4M1414.7 1759.7L1413.9 1763.4M1413.9 1765.7L1414.7 1769.4M1423.6 1769.4L1422.1 1771.7M1422.1 1757.4L1423.6 1759.7M1416.2 1757.4L1414.7 1759.7M1414.7 1769.4L1416.2 1771.7M1422.1 1771.7L1419.9 1772.4M1419.9 1756.7L1422.1 1757.4M1418.4 1756.7L1416.2 1757.4M1416.2 1771.7L1418.4 1772.4M1424.3 1763.4L1424.3 1765.7M1413.9 1763.4L1413.9 1765.7M1418.4 1772.4L1419.9 1772.4M1418.4 1756.7L1419.9 1756.7" stroke-width="1.45"/>
<path d="M1380.4 1736.5L1393.8 1736.5M1405 1727.5L1405 1743.2M1405 1727.5L1402.7 1729.7M1402.7 1729.7L1401.3 1730.5M1415.4 1727.5L1422.9 1727.5M1415.4 1727.5L1414.7 1734.2M1424.3 1738.7L1423.6 1741M1423.6 1735L1424.3 1737.2M1422.1 1742.5L1419.9 1743.2M1419.9 1732.7L1422.1 1733.5M1417.6 1732.7L1415.4 1733.5M1415.4 1742.5L1417.6 1743.2M1417.6 1743.2L1419.9 1743.2M1417.6 1732.7L1419.9 1732.7M1423.6 1741L1422.1 1742.5M1422.1 1733.5L1423.6 1735M1413.9 1740.2L1414.7 1741.7M1424.3 1737.2L1424.3 1738.7M1415.4 1733.5L1414.7 1734.2M1414.7 1741.7L1415.4 1742.5" stroke-width="1.45"/>
<path d="M1380.4 1707.3L1393.8 1707.3M1405 1698.3L1405 1714M1405 1698.3L1402.7 1700.5M1402.7 1700.5L1401.3 1701.3M1424.3 1707.3L1423.6 1711M1423.6 1701.3L1424.3 1705M1414.7 1701.3L1413.9 1705M1413.9 1707.3L1414.7 1711M1423.6 1711L1422.1 1713.3M1422.1 1699L1423.6 1701.3M1416.2 1699L1414.7 1701.3M1414.7 1711L1416.2 1713.3M1422.1 1713.3L1419.9 1714M1419.9 1698.3L1422.1 1699M1418.4 1698.3L1416.2 1699M1416.2 1713.3L1418.4 1714M1424.3 1705L1424.3 1707.3M1413.9 1705L1413.9 1707.3M1418.4 1714L1419.9 1714M1418.4 1698.3L1419.9 1698.3" stroke-width="1.45"/>
<path d="M1387.8 1678.1L1401.3 1678.1M1413.9 1675.1L1408.7 1676.6M1409.4 1675.1L1412.4 1675.8M1410.2 1684.8L1413.2 1684.8M1410.2 1669.1L1413.2 1669.1M1415.4 1684.1L1413.2 1684.8M1413.2 1669.1L1415.4 1669.8M1412.4 1675.8L1414.7 1676.6M1410.2 1669.1L1408 1669.8M1408 1684.1L1410.2 1684.8M1416.9 1679.6L1416.9 1681.8M1406.5 1679.6L1406.5 1681.8M1414.7 1676.6L1416.2 1678.1M1408.7 1676.6L1407.2 1678.1M1416.9 1681.8L1416.2 1683.3M1416.2 1678.1L1416.9 1679.6M1416.2 1672.8L1415.4 1674.3M1415.4 1674.3L1413.9 1675.1M1415.4 1669.8L1416.2 1671.3M1408 1674.3L1409.4 1675.1M1408 1669.8L1407.2 1671.3M1407.2 1678.1L1406.5 1679.6M1407.2 1672.8L1408 1674.3M1406.5 1681.8L1407.2 1683.3M1416.2 1671.3L1416.2 1672.8M1407.2 1671.3L1407.2 1672.8M1416.2 1683.3L1415.4 1684.1M1407.2 1683.3L1408 1684.1" stroke-width="1.45"/>
<path d="M1387.8 1648.9L1401.3 1648.9M1408 1642.9L1407.2 1646.7M1407.2 1646.7L1407.2 1650.4M1407.2 1650.4L1408 1653.4M1409.4 1640.7L1408 1642.9M1416.9 1651.2L1416.2 1653.4M1416.2 1648.2L1416.9 1650.4M1414.7 1654.9L1412.4 1655.7M1413.2 1639.9L1415.4 1640.7M1412.4 1645.9L1414.7 1646.7M1411.7 1645.9L1409.4 1646.7M1411.7 1639.9L1409.4 1640.7M1409.4 1654.9L1411.7 1655.7M1408 1648.2L1407.2 1650.4M1416.2 1653.4L1414.7 1654.9M1414.7 1646.7L1416.2 1648.2M1409.4 1646.7L1408 1648.2M1408 1653.4L1409.4 1654.9M1415.4 1640.7L1416.2 1642.2M1411.7 1639.9L1413.2 1639.9M1416.9 1650.4L1416.9 1651.2M1411.7 1655.7L1412.4 1655.7M1411.7 1645.9L1412.4 1645.9" stroke-width="1.45"/>
<path d="M1387.8 1619.7L1401.3 1619.7M1413.9 1610.7L1413.9 1626.5M1413.9 1610.7L1406.5 1621.2M1406.5 1621.2L1417.6 1621.2" stroke-width="1.45"/>
<path d="M1387.8 1590.5L1401.3 1590.5M1413.9 1589.8L1406.5 1597.3M1406.5 1597.3L1416.9 1597.3M1410.2 1581.5L1413.2 1581.5M1415.4 1587.5L1413.9 1589.8M1416.2 1586L1415.4 1587.5M1415.4 1583L1416.2 1584.5M1413.2 1581.5L1414.7 1582.3M1410.2 1581.5L1408.7 1582.3M1408 1583L1407.2 1584.5M1416.2 1584.5L1416.2 1586M1414.7 1582.3L1415.4 1583M1408.7 1582.3L1408 1583M1407.2 1584.5L1407.2 1585.3" stroke-width="1.45"/>
<path d="M1407.2 1561.3L1406.5 1565.1M1406.5 1555.3L1407.2 1559.1M1397.5 1555.3L1396.8 1559.1M1396.8 1561.3L1397.5 1565.1M1406.5 1565.1L1405 1567.3M1405 1553.1L1406.5 1555.3M1399 1553.1L1397.5 1555.3M1397.5 1565.1L1399 1567.3M1405 1567.3L1402.7 1568.1M1402.7 1552.3L1405 1553.1M1401.3 1552.3L1399 1553.1M1399 1567.3L1401.3 1568.1M1407.2 1559.1L1407.2 1561.3M1396.8 1559.1L1396.8 1561.3M1401.3 1568.1L1402.7 1568.1M1401.3 1552.3L1402.7 1552.3" stroke-width="1.45"/>
<path d="M1404.2 1531.4L1396.8 1538.9M1396.8 1538.9L1407.2 1538.9M1400.5 1523.1L1403.5 1523.1M1405.7 1529.1L1404.2 1531.4M1406.5 1527.6L1405.7 1529.1M1405.7 1524.6L1406.5 1526.1M1403.5 1523.1L1405 1523.9M1400.5 1523.1L1399 1523.9M1398.3 1524.6L1397.5 1526.1M1406.5 1526.1L1406.5 1527.6M1405 1523.9L1405.7 1524.6M1399 1523.9L1398.3 1524.6M1397.5 1526.1L1397.5 1526.9" stroke-width="1.45"/>
<path d="M1404.2 1494L1404.2 1509.7M1404.2 1494L1396.8 1504.5M1396.8 1504.5L1408 1504.5" stroke-width="1.45"/>
<path d="M1398.3 1467.8L1397.5 1471.5M1397.5 1471.5L1397.5 1475.3M1397.5 1475.3L1398.3 1478.3M1399.8 1465.5L1398.3 1467.8M1407.2 1476L1406.5 1478.3M1406.5 1473L1407.2 1475.3M1405 1479.8L1402.7 1480.5M1403.5 1464.8L1405.7 1465.5M1402.7 1470.8L1405 1471.5M1402 1470.8L1399.8 1471.5M1402 1464.8L1399.8 1465.5M1399.8 1479.8L1402 1480.5M1398.3 1473L1397.5 1475.3M1406.5 1478.3L1405 1479.8M1405 1471.5L1406.5 1473M1399.8 1471.5L1398.3 1473M1398.3 1478.3L1399.8 1479.8M1405.7 1465.5L1406.5 1467M1402 1464.8L1403.5 1464.8M1407.2 1475.3L1407.2 1476M1402 1480.5L1402.7 1480.5M1402 1470.8L1402.7 1470.8" stroke-width="1.45"/>
<path d="M1404.2 1441.6L1399 1443.1M1399.8 1441.6L1402.7 1442.3M1400.5 1451.3L1403.5 1451.3M1400.5 1435.6L1403.5 1435.6M1405.7 1450.6L1403.5 1451.3M1403.5 1435.6L1405.7 1436.3M1402.7 1442.3L1405 1443.1M1400.5 1435.6L1398.3 1436.3M1398.3 1450.6L1400.5 1451.3M1407.2 1446.1L1407.2 1448.3M1396.8 1446.1L1396.8 1448.3M1405 1443.1L1406.5 1444.6M1399 1443.1L1397.5 1444.6M1407.2 1448.3L1406.5 1449.8M1406.5 1444.6L1407.2 1446.1M1406.5 1439.3L1405.7 1440.8M1405.7 1440.8L1404.2 1441.6M1405.7 1436.3L1406.5 1437.8M1398.3 1440.8L1399.8 1441.6M1398.3 1436.3L1397.5 1437.8M1397.5 1444.6L1396.8 1446.1M1397.5 1439.3L1398.3 1440.8M1396.8 1448.3L1397.5 1449.8M1406.5 1437.8L1406.5 1439.3M1397.5 1437.8L1397.5 1439.3M1406.5 1449.8L1405.7 1450.6M1397.5 1449.8L1398.3 1450.6" stroke-width="1.45"/>
<path d="M1395.3 1406.4L1395.3 1422.1M1395.3 1406.4L1393.1 1408.6M1393.1 1408.6L1391.6 1409.4M1414.7 1415.4L1413.9 1419.1M1413.9 1409.4L1414.7 1413.1M1405 1409.4L1404.2 1413.1M1404.2 1415.4L1405 1419.1M1413.9 1419.1L1412.4 1421.4M1412.4 1407.1L1413.9 1409.4M1406.5 1407.1L1405 1409.4M1405 1419.1L1406.5 1421.4M1412.4 1421.4L1410.2 1422.1M1410.2 1406.4L1412.4 1407.1M1408.7 1406.4L1406.5 1407.1M1406.5 1421.4L1408.7 1422.1M1414.7 1413.1L1414.7 1415.4M1404.2 1413.1L1404.2 1415.4M1408.7 1422.1L1410.2 1422.1M1408.7 1406.4L1410.2 1406.4" stroke-width="1.45"/>
<path d="M1395.3 1377.2L1395.3 1392.9M1395.3 1377.2L1393.1 1379.4M1393.1 1379.4L1391.6 1380.2M1405.7 1377.2L1413.2 1377.2M1405.7 1377.2L1405 1383.9M1414.7 1388.4L1413.9 1390.7M1413.9 1384.7L1414.7 1386.9M1412.4 1392.2L1410.2 1392.9M1410.2 1382.4L1412.4 1383.2M1408 1382.4L1405.7 1383.2M1405.7 1392.2L1408 1392.9M1408 1392.9L1410.2 1392.9M1408 1382.4L1410.2 1382.4M1413.9 1390.7L1412.4 1392.2M1412.4 1383.2L1413.9 1384.7M1404.2 1389.9L1405 1391.4M1414.7 1386.9L1414.7 1388.4M1405.7 1383.2L1405 1383.9M1405 1391.4L1405.7 1392.2" stroke-width="1.45"/>
<path d="M1396.8 1356.2L1389.3 1363.8M1389.3 1363.8L1399.8 1363.8M1393.1 1348L1396 1348M1398.3 1354L1396.8 1356.2M1399 1352.5L1398.3 1354M1398.3 1349.5L1399 1351M1396 1348L1397.5 1348.8M1393.1 1348L1391.6 1348.8M1390.8 1349.5L1390.1 1351M1399 1351L1399 1352.5M1397.5 1348.8L1398.3 1349.5M1391.6 1348.8L1390.8 1349.5M1390.1 1351L1390.1 1351.8M1414.7 1357L1413.9 1360.8M1413.9 1351L1414.7 1354.8M1405 1351L1404.2 1354.8M1404.2 1357L1405 1360.8M1413.9 1360.8L1412.4 1363M1412.4 1348.8L1413.9 1351M1406.5 1348.8L1405 1351M1405 1360.8L1406.5 1363M1412.4 1363L1410.2 1363.8M1410.2 1348L1412.4 1348.8M1408.7 1348L1406.5 1348.8M1406.5 1363L1408.7 1363.8M1414.7 1354.8L1414.7 1357M1404.2 1354.8L1404.2 1357M1408.7 1363.8L1410.2 1363.8M1408.7 1348L1410.2 1348" stroke-width="1.45"/>
</g>
<rect x="195.5" y="936.9" width="35.2" height="28.7" fill="#00008C" stroke="#000" stroke-width="1.4"/>
<rect x="230.7" y="936.9" width="35.2" height="28.7" fill="#001CB9" stroke="#000" stroke-width="1.4"/>
<rect x="265.9" y="936.9" width="35.2" height="28.7" fill="#0032E0" stroke="#000" stroke-width="1.4"/>
<rect x="301.1" y="936.9" width="35.2" height="28.7" fill="#1A4FFF" stroke="#000" stroke-width="1.4"/>
<rect x="336.3" y="936.9" width="35.2" height="28.7" fill="#4078FF" stroke="#000" stroke-width="1.4"/>
<rect x="371.5" y="936.9" width="35.2" height="28.7" fill="#82AAFF" stroke="#000" stroke-width="1.4"/>
<rect x="406.7" y="936.9" width="35.2" height="28.7" fill="#B5CCFF" stroke="#000" stroke-width="1.4"/>
<rect x="441.9" y="936.9" width="35.2" height="28.7" fill="#D6EBFF" stroke="#000" stroke-width="1.4"/>
<rect x="477.1" y="936.9" width="35.2" height="28.7" fill="#FFE8D6" stroke="#000" stroke-width="1.4"/>
<rect x="512.3" y="936.9" width="35.2" height="28.7" fill="#FFCCB5" stroke="#000" stroke-width="1.4"/>
<rect x="547.5" y="936.9" width="35.2" height="28.7" fill="#FFAA82" stroke="#000" stroke-width="1.4"/>
<rect x="582.7" y="936.9" width="35.2" height="28.7" fill="#FF7840" stroke="#000" stroke-width="1.4"/>
<rect x="617.9" y="936.9" width="35.2" height="28.7" fill="#FF4F1A" stroke="#000" stroke-width="1.4"/>
<rect x="653.1" y="936.9" width="35.2" height="28.7" fill="#E03200" stroke="#000" stroke-width="1.4"/>
<rect x="688.3" y="936.9" width="35.2" height="28.7" fill="#B91C00" stroke="#000" stroke-width="1.4"/>
<rect x="723.5" y="936.9" width="35.2" height="28.7" fill="#8C0000" stroke="#000" stroke-width="1.4"/>
<rect x="951.5" y="936.9" width="35.2" height="28.7" fill="#00008C" stroke="#000" stroke-width="1.4"/>
<rect x="986.7" y="936.9" width="35.2" height="28.7" fill="#001CB9" stroke="#000" stroke-width="1.4"/>
<rect x="1021.9" y="936.9" width="35.2" height="28.7" fill="#0032E0" stroke="#000" stroke-width="1.4"/>
<rect x="1057.1" y="936.9" width="35.2" height="28.7" fill="#1A4FFF" stroke="#000" stroke-width="1.4"/>
<rect x="1092.3" y="936.9" width="35.2" height="28.7" fill="#4078FF" stroke="#000" stroke-width="1.4"/>
<rect x="1127.5" y="936.9" width="35.2" height="28.7" fill="#82AAFF" stroke="#000" stroke-width="1.4"/>
<rect x="1162.7" y="936.9" width="35.2" height="28.7" fill="#B5CCFF" stroke="#000" stroke-width="1.4"/>
<rect x="1197.9" y="936.9" width="35.2" height="28.7" fill="#D6EBFF" stroke="#000" stroke-width="1.4"/>
<rect x="1233.1" y="936.9" width="35.2" height="28.7" fill="#FFE8D6" stroke="#000" stroke-width="1.4"/>
<rect x="1268.3" y="936.9" width="35.2" height="28.7" fill="#FFCCB5" stroke="#000" stroke-width="1.4"/>
<rect x="1303.5" y="936.9" width="35.2" height="28.7" fill="#FFAA82" stroke="#000" stroke-width="1.4"/>
<rect x="1338.7" y="936.9" width="35.2" height="28.7" fill="#FF7840" stroke="#000" stroke-width="1.4"/>
<rect x="1373.9" y="936.9" width="35.2" height="28.7" fill="#FF4F1A" stroke="#000" stroke-width="1.4"/>
<rect x="1409.1" y="936.9" width="35.2" height="28.7" fill="#E03200" stroke="#000" stroke-width="1.4"/>
<rect x="1444.3" y="936.9" width="35.2" height="28.7" fill="#B91C00" stroke="#000" stroke-width="1.4"/>
<rect x="1479.5" y="936.9" width="35.2" height="28.7" fill="#8C0000" stroke="#000" stroke-width="1.4"/>
<rect x="1303.1" y="1764.5" width="65.9" height="29.19" fill="#00008C" stroke="#000" stroke-width="1.4"/>
<rect x="1303.1" y="1735.3" width="65.9" height="29.19" fill="#001CB9" stroke="#000" stroke-width="1.4"/>
<rect x="1303.1" y="1706.1" width="65.9" height="29.19" fill="#0032E0" stroke="#000" stroke-width="1.4"/>
<rect x="1303.1" y="1676.9" width="65.9" height="29.19" fill="#1A4FFF" stroke="#000" stroke-width="1.4"/>
<rect x="1303.1" y="1647.8" width="65.9" height="29.19" fill="#4078FF" stroke="#000" stroke-width="1.4"/>
<rect x="1303.1" y="1618.6" width="65.9" height="29.19" fill="#82AAFF" stroke="#000" stroke-width="1.4"/>
<rect x="1303.1" y="1589.4" width="65.9" height="29.19" fill="#B5CCFF" stroke="#000" stroke-width="1.4"/>
<rect x="1303.1" y="1560.2" width="65.9" height="29.19" fill="#D6EBFF" stroke="#000" stroke-width="1.4"/>
<rect x="1303.1" y="1531" width="65.9" height="29.19" fill="#FFE8D6" stroke="#000" stroke-width="1.4"/>
<rect x="1303.1" y="1501.8" width="65.9" height="29.19" fill="#FFCCB5" stroke="#000" stroke-width="1.4"/>
<rect x="1303.1" y="1472.6" width="65.9" height="29.19" fill="#FFAA82" stroke="#000" stroke-width="1.4"/>
<rect x="1303.1" y="1443.4" width="65.9" height="29.19" fill="#FF7840" stroke="#000" stroke-width="1.4"/>
<rect x="1303.1" y="1414.2" width="65.9" height="29.19" fill="#FF4F1A" stroke="#000" stroke-width="1.4"/>
<rect x="1303.1" y="1385" width="65.9" height="29.19" fill="#E03200" stroke="#000" stroke-width="1.4"/>
<rect x="1303.1" y="1355.8" width="65.9" height="29.19" fill="#B91C00" stroke="#000" stroke-width="1.4"/>
<rect x="1303.1" y="1326.7" width="65.9" height="29.19" fill="#8C0000" stroke="#000" stroke-width="1.4"/>
</svg></body></html>
